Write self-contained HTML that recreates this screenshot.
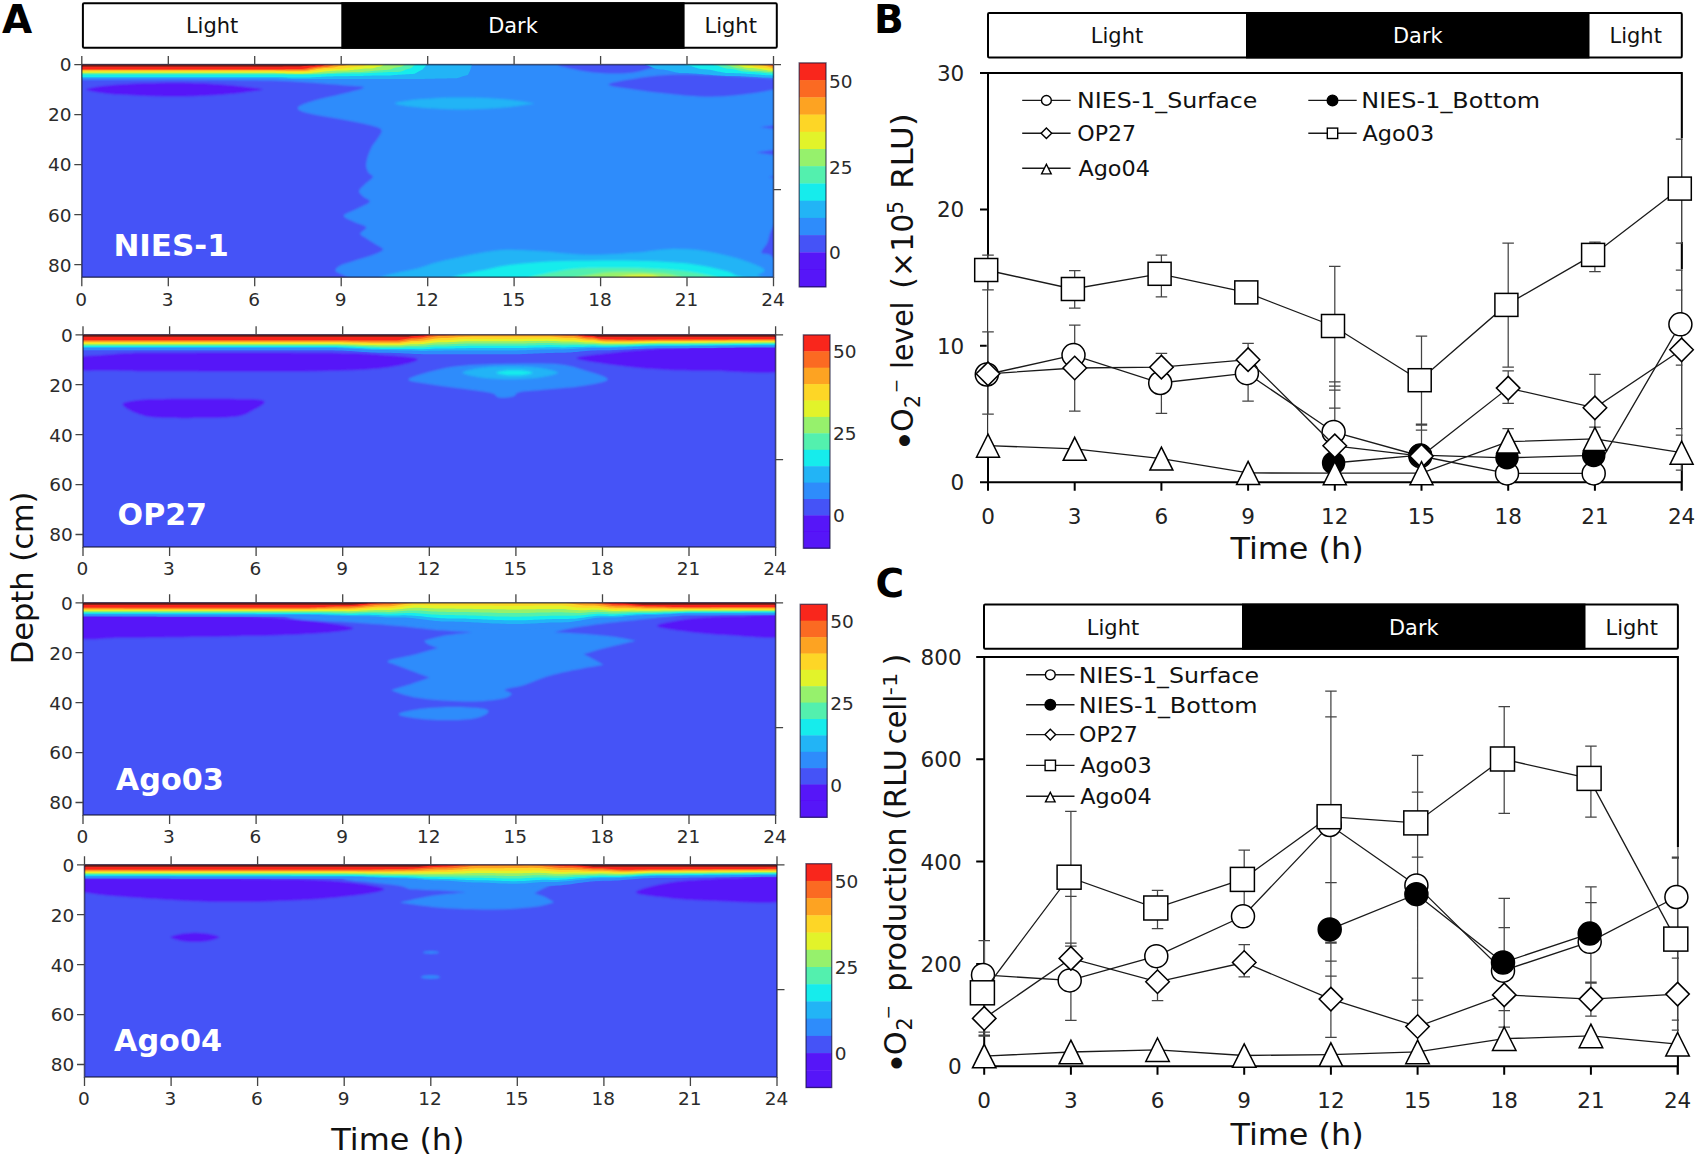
<!DOCTYPE html>
<html lang="en"><head><meta charset="utf-8"><title>Figure</title>
<style>html,body{margin:0;padding:0;background:#fff}svg{display:block}text{font-family:'DejaVu Sans', 'Liberation Sans', sans-serif}.b{font-weight:bold}.tk{fill:#2b2b2b;font-size:18.5px}.ln{fill:#111}</style></head><body>
<svg width="1699" height="1159" viewBox="0 0 1699 1159">
<defs><filter id="bl" x="-2%" y="-5%" width="104%" height="110%"><feGaussianBlur stdDeviation="1.0"/></filter><filter id="bl3" x="-2%" y="-5%" width="104%" height="110%"><feGaussianBlur stdDeviation="0.55"/></filter><filter id="bl2" x="-5%" y="-5%" width="110%" height="110%"><feGaussianBlur stdDeviation="0.45"/></filter></defs>
<rect width="1699" height="1159" fill="#fff"/>
<rect x="82.9" y="3.2" width="693.9" height="44.6" fill="#fff" stroke="#000" stroke-width="2.0" rx="1.2"/>
<rect x="341.3" y="2.2" width="343.3" height="46.6" fill="#000"/>
<text x="212.1" y="33.4" font-size="21.3" class="ln" text-anchor="middle" textLength="52.4" lengthAdjust="spacingAndGlyphs">Light</text>
<text x="513" y="33.4" font-size="21.3" text-anchor="middle" textLength="49.6" lengthAdjust="spacingAndGlyphs" fill="#fff">Dark</text>
<text x="730.7" y="33.4" font-size="21.3" class="ln" text-anchor="middle" textLength="52.4" lengthAdjust="spacingAndGlyphs">Light</text>
<rect x="988" y="13" width="693.8" height="44.4" fill="#fff" stroke="#000" stroke-width="2.0" rx="1.2"/>
<rect x="1246" y="12" width="343.5" height="46.4" fill="#000"/>
<text x="1117" y="43.1" font-size="21.3" class="ln" text-anchor="middle" textLength="52.4" lengthAdjust="spacingAndGlyphs">Light</text>
<text x="1417.8" y="43.1" font-size="21.3" text-anchor="middle" textLength="49.6" lengthAdjust="spacingAndGlyphs" fill="#fff">Dark</text>
<text x="1635.7" y="43.1" font-size="21.3" class="ln" text-anchor="middle" textLength="52.4" lengthAdjust="spacingAndGlyphs">Light</text>
<rect x="984" y="604.6" width="693.9" height="44.1" fill="#fff" stroke="#000" stroke-width="2.0" rx="1.2"/>
<rect x="1242" y="603.6" width="343.5" height="46.1" fill="#000"/>
<text x="1113" y="634.5" font-size="21.3" class="ln" text-anchor="middle" textLength="52.4" lengthAdjust="spacingAndGlyphs">Light</text>
<text x="1413.8" y="634.5" font-size="21.3" text-anchor="middle" textLength="49.6" lengthAdjust="spacingAndGlyphs" fill="#fff">Dark</text>
<text x="1631.7" y="634.5" font-size="21.3" class="ln" text-anchor="middle" textLength="52.4" lengthAdjust="spacingAndGlyphs">Light</text>
<text x="2" y="33.2" font-size="39" class="b" fill="#000">A</text>
<text x="874" y="33.2" font-size="39" class="b" fill="#000">B</text>
<text x="875.5" y="597.2" font-size="39" class="b" fill="#000">C</text>
<clipPath id="cp0"><rect x="81.8" y="64.6" width="691.7" height="212.6"/></clipPath>
<g clip-path="url(#cp0)"><g filter="url(#bl)">
<rect x="76.8" y="59.6" width="701.7" height="222.6" fill="#4552f7"/>
<path d="M263.2 89.6 C263.2 89.8 262.4 89.8 261 90.1 C259.5 90.3 257.3 90.7 254.4 91.1 C251.6 91.5 248 92.1 243.9 92.5 C239.8 93 235 93.6 229.9 94 C224.7 94.5 219 95 213.1 95.3 C207.2 95.7 200.8 96 194.4 96.2 C188 96.4 181.3 96.5 174.7 96.5 C168.1 96.5 161.4 96.4 155 96.3 C148.6 96.1 142.2 95.9 136.3 95.6 C130.4 95.4 124.7 95 119.5 94.6 C114.4 94.3 109.6 93.8 105.5 93.4 C101.4 92.9 97.8 92.5 95 92 C92.1 91.5 89.9 91 88.4 90.6 C87 90.2 86.2 89.9 86.2 89.6 C86.2 89.3 87 89 88.4 88.6 C89.9 88.2 92.1 87.7 95 87.2 C97.8 86.7 101.4 86.3 105.5 85.8 C109.6 85.4 114.4 84.9 119.5 84.6 C124.7 84.2 130.4 83.8 136.3 83.6 C142.2 83.3 148.6 83.1 155 82.9 C161.4 82.8 168.1 82.7 174.7 82.7 C181.3 82.7 188 82.8 194.4 83 C200.8 83.2 207.2 83.5 213.1 83.9 C219 84.2 224.7 84.7 229.9 85.2 C235 85.6 239.8 86.2 243.9 86.7 C248 87.1 251.6 87.7 254.4 88.1 C257.3 88.5 259.5 88.9 261 89.1 C262.4 89.4 263.2 89.4 263.2 89.6Z" fill="#5612f8"/>
<path d="M75.8 58.6 L75.8 79.8 L181.8 79.8 L224.8 79.9 C232.7 80 256.2 80.1 271.9 80.6 C287.6 81.2 306 82.3 319 83.2 C331.9 84.1 342.1 85 349.6 85.8 C357 86.5 364.9 86.3 363.7 87.7 C362.5 89 350.8 91.6 342.5 93.8 C334.3 95.9 321.7 98.3 314.3 100.6 C306.8 102.9 298.6 105.5 297.8 107.7 C297 109.8 302.1 111.6 309.6 113.6 C317 115.5 332.3 117.5 342.5 119.5 C352.7 121.4 364.3 123.6 370.8 125.3 C377.2 127.1 380.2 127.9 381.4 130 C382.5 132.2 379.4 135.5 377.8 138.3 C376.3 141 373.6 143.6 371.9 146.5 C370.3 149.5 368.9 152.8 367.9 155.9 C367 159.1 366 162.6 366.1 165.4 C366.1 168.1 367.3 170.5 368.4 172.4 C369.5 174.4 373.4 175 372.7 177.1 C371.9 179.3 366 183 363.7 185.4 C361.4 187.7 359 189.3 359 191.3 C359 193.2 361.9 195.4 363.7 197.1 C365.5 198.9 370.8 199.9 369.6 201.9 C368.4 203.8 361 206.6 356.6 208.9 C352.3 211.2 344.1 213.4 343.7 215.5 C343.3 217.7 350.6 219.9 354.3 221.9 C358 223.8 365.1 225.1 366.1 227 C367 229 360.2 231.8 360.2 233.6 C360.2 235.5 363.5 236.6 366.1 238.3 C368.6 240.1 372.7 242.3 375.5 244.2 C378.3 246.1 383.4 247.9 383 249.6 C382.6 251.4 377.9 253 373.1 254.8 C368.3 256.7 359.8 258.9 354.3 260.7 C348.8 262.5 343.3 263.8 340.2 265.4 C337 267.1 335.1 269 335.5 270.6 C335.8 272.2 340 273.5 342.5 274.8 C345.1 276.2 349.4 278.2 350.8 278.8 L779.5 283.2 L779.5 58.6Z" fill="#2e8cfb"/>
<path d="M562.4 63.7 C549.3 64.6 567.9 67.7 574.2 69.3 C580.5 70.9 591.5 72.4 600.1 73.1 C608.8 73.7 618.6 73.8 626 73.3 C633.5 72.8 640.3 71.6 644.8 70 C649.4 68.4 666.8 64.7 653.1 63.7 C639.4 62.6 575.6 62.7 562.4 63.7Z" fill="#4552f7"/>
<path d="M608.4 84.8 C607.6 83.4 619.1 81.5 626 80.1 C632.9 78.7 640.9 77.3 649.6 76.4 C658.2 75.4 667.6 74.7 677.8 74.5 C688 74.2 700.2 74.6 710.8 75 C721.4 75.3 730.4 76.1 741.4 76.8 C752.4 77.5 769.2 78 776.7 79.2 C784.1 80.4 786.1 82.5 786.1 84.1 C786.1 85.8 783 87.5 776.7 89.1 C770.4 90.7 758.2 92.5 748.4 93.8 C738.6 95 728 96.3 717.8 96.6 C707.6 96.9 697 96.3 687.2 95.7 C677.4 95 668.4 93.9 659 92.8 C649.6 91.8 639.2 90.4 630.7 89.1 C622.3 87.7 609.1 86.3 608.4 84.8Z" fill="#4552f7"/>
<path d="M759.7 127.2 L776.7 125.1 L776.7 129.3Z" fill="#4552f7"/>
<path d="M756 152.4 L776.7 149.4 L776.7 155.5Z" fill="#4552f7"/>
<path d="M768.5 177.1 L776.7 175.7 L776.7 178.5Z" fill="#4552f7"/>
<path d="M776.7 224.2 C775.7 219.9 772.4 228.1 770.8 231.3 C769.2 234.4 768.8 239.5 767.3 243.1 C765.7 246.6 761 250.6 761.4 252.5 C761.8 254.4 767.1 253.6 769.6 254.4 C772.2 255.1 775.5 262.2 776.7 257.2 C777.9 252.2 777.7 228.5 776.7 224.2Z" fill="#4552f7"/>
<path d="M534 103.4 C534 103.5 533.4 103.5 532.3 103.7 C531.1 103.9 529.4 104.3 527.1 104.6 C524.9 105 522.1 105.4 518.8 105.8 C515.6 106.3 511.9 106.7 507.8 107.2 C503.8 107.6 499.3 108 494.7 108.3 C490 108.6 485 108.9 480 109.1 C474.9 109.3 469.7 109.4 464.5 109.4 C459.3 109.4 454.1 109.3 449 109.2 C444 109.1 439 108.9 434.3 108.6 C429.7 108.4 425.2 108 421.2 107.7 C417.1 107.4 413.4 107 410.2 106.6 C406.9 106.2 404.1 105.7 401.9 105.3 C399.6 104.9 397.9 104.5 396.7 104.2 C395.6 103.9 395 103.7 395 103.4 C395 103.1 395.6 102.9 396.7 102.6 C397.9 102.3 399.6 101.9 401.9 101.5 C404.1 101.1 406.9 100.6 410.2 100.2 C413.4 99.8 417.1 99.4 421.2 99.1 C425.2 98.8 429.7 98.4 434.3 98.2 C439 97.9 444 97.7 449 97.6 C454.1 97.5 459.3 97.4 464.5 97.4 C469.7 97.4 474.9 97.5 480 97.7 C485 97.9 490 98.2 494.7 98.5 C499.3 98.8 503.8 99.2 507.8 99.6 C511.9 100.1 515.6 100.5 518.8 101 C522.1 101.4 524.9 101.8 527.1 102.2 C529.4 102.5 531.1 102.9 532.3 103.1 C533.4 103.3 534 103.3 534 103.4Z" fill="#22b4f6"/>
<path d="M399 282.2 C346.4 279.6 413.6 270.8 423.5 266.6 C433.5 262.4 445.9 259.9 458.9 257.2 C471.8 254.4 487.5 251.1 501.2 250.1 C515 249.1 526.7 250.5 541.3 251.3 C555.8 252.1 572.7 254.6 588.3 254.8 C604 255 621.7 253.5 635.4 252.5 C649.2 251.5 659 249.1 670.7 248.9 C682.5 248.7 694.3 249.5 706.1 251.3 C717.8 253.1 731.8 256.6 741.4 259.5 C751 262.5 761 266.4 763.7 269 C766.5 271.5 762 272.6 757.9 274.8 C753.7 277 798.8 281 739 282.2 C679.2 283.4 451.6 284.8 399 282.2Z" fill="#22b4f6"/>
<path d="M463.6 282.2 C424.4 279.8 481.2 271.2 494.2 267.8 C507.1 264.4 525.6 263.1 541.3 261.9 C557 260.7 572.7 260.9 588.3 260.7 C604 260.5 619.7 260.3 635.4 260.7 C651.1 261.1 668.8 261.7 682.5 263.1 C696.3 264.4 709.2 267 717.8 269 C726.5 270.9 732.4 272.6 734.3 274.8 C736.3 277 774.7 281 729.6 282.2 C684.5 283.4 502.8 284.6 463.6 282.2Z" fill="#17ecec"/>
<path d="M531.8 282.2 C507.1 280.2 551.5 272.5 564.8 270.1 C578.2 267.7 596.2 268 611.9 267.8 C627.6 267.6 644.1 268 659 269 C673.9 269.9 692.3 271.5 701.4 273.7 C710.4 275.9 741.4 280.8 713.1 282.2 C684.8 283.6 556.5 284.2 531.8 282.2Z" fill="#52f0ae"/>
<path d="M564.8 282.2 C551.1 280.7 588.3 274.8 600.1 273.2 C611.9 271.5 623.7 272 635.4 272.2 C647.2 272.5 662.9 272.9 670.7 274.6 C678.6 276.3 700.2 280.9 682.5 282.2 C664.8 283.5 578.5 283.7 564.8 282.2Z" fill="#96f16c"/>
<path d="M600 282.2 C595.1 281 621.7 276.2 630.7 275.1 C639.8 274 649.4 274.4 654.3 275.5 C659.1 276.7 669 281.1 660 282.2 C651 283.3 604.9 283.4 600 282.2Z" fill="#e2f32c"/>
</g><g filter="url(#bl3)">
<path d="M73.8 58.6 L73.8 78.2 L81.8 78.2 L83.8 78.2 L85.8 78.2 L87.8 78.2 L89.8 78.2 L91.8 78.2 L93.8 78.2 L95.8 78.2 L97.8 78.2 L99.8 78.2 L101.8 78.2 L103.8 78.2 L105.8 78.2 L107.8 78.2 L109.8 78.2 L111.8 78.2 L113.8 78.2 L115.8 78.2 L117.8 78.2 L119.8 78.2 L121.8 78.2 L123.8 78.2 L125.8 78.2 L127.8 78.2 L129.8 78.2 L131.8 78.2 L133.8 78.2 L135.8 78.2 L137.8 78.2 L139.8 78.2 L141.8 78.2 L143.8 78.2 L145.8 78.2 L147.8 78.2 L149.8 78.2 L151.8 78.2 L153.8 78.2 L155.8 78.2 L157.8 78.2 L159.8 78.2 L161.8 78.2 L163.8 78.2 L165.8 78.2 L167.8 78.2 L169.8 78.2 L171.8 78.2 L173.8 78.2 L175.8 78.2 L177.8 78.2 L179.9 78.2 L181.9 78.2 L183.9 78.2 L185.9 78.2 L187.9 78.2 L189.9 78.2 L191.9 78.2 L193.9 78.2 L195.9 78.2 L197.9 78.2 L199.9 78.2 L201.9 78.2 L203.9 78.2 L205.9 78.2 L207.9 78.2 L209.9 78.2 L211.9 78.2 L213.9 78.2 L215.9 78.2 L217.9 78.2 L219.9 78.2 L221.9 78.2 L223.9 78.2 L225.9 78.2 L227.9 78.2 L229.9 78.2 L231.9 78.2 L233.9 78.2 L235.9 78.2 L237.9 78.2 L239.9 78.2 L241.9 78.2 L243.9 78.2 L245.9 78.2 L247.9 78.2 L249.9 78.2 L251.9 78.2 L253.9 78.2 L255.9 78.2 L257.9 78.2 L259.9 78.2 L261.9 78.2 L263.9 78.2 L265.9 78.2 L267.9 78.2 L269.9 78.2 L271.9 78.2 L273.9 78.2 L275.9 78.3 L277.9 78.3 L279.9 78.4 L281.9 78.5 L283.9 78.6 L285.9 78.6 L287.9 78.7 L289.9 78.8 L291.9 78.9 L293.9 78.9 L295.9 79 L297.9 79 L299.9 79 L301.9 79 L303.9 79 L305.9 79 L307.9 79 L309.9 79 L311.9 79 L313.9 79 L315.9 79 L317.9 79 L319.9 79 L321.9 79 L323.9 79 L325.9 79 L327.9 79 L329.9 79 L331.9 79 L333.9 79 L335.9 79 L337.9 79 L339.9 79 L341.9 79 L343.9 79 L345.9 79 L347.9 79 L349.9 79 L351.9 79 L353.9 79 L355.9 79 L357.9 79 L359.9 79 L361.9 79 L363.9 79 L365.9 79 L367.9 79 L369.9 79 L371.9 79 L373.9 79 L376 79 L378 79 L380 79 L382 79 L384 79 L386 79 L388 79 L390 79 L392 79 L394 79 L396 79 L398 79 L400 79 L402 79 L404 79 L406 79 L408 79 L410 79 L412 79 L414 79 L416 79 L418 79 L420 79 L422 78.9 L424 78.9 L426 78.8 L428 78.8 L430 78.8 L432 78.7 L434 78.7 L436 78.6 L438 78.5 L440 78.5 L442 78.5 L444 78.4 L446 78.4 L448 78.3 L450 78.3 L452 78.3 L454 78.3 L456 78.3 L458 77.9 L460 77.3 L462 76.6 L464 76 L466 75.6 L468 74.7 L470 70.8 L472 64.6 L472 58.6Z" fill="#22b4f6"/>
<path d="M644.8 58.6 L644.8 65.1 L646.9 65.3 L648.9 65.9 L650.9 66.7 L653 67.7 L655 68.5 L657 69.1 L659 69.3 L661.1 69.4 L663.1 69.6 L665.1 69.9 L667.2 70.3 L669.2 70.8 L671.2 71.3 L673.2 71.8 L675.3 72.3 L677.3 72.6 L679.3 72.9 L681.4 73 L683.4 73.1 L685.4 73.1 L687.4 73.1 L689.5 73.2 L691.5 73.3 L693.5 73.4 L695.6 73.6 L697.6 73.7 L699.6 73.9 L701.6 74.1 L703.7 74.3 L705.7 74.5 L707.7 74.6 L709.8 74.8 L711.8 75 L713.8 75.2 L715.8 75.3 L717.9 75.5 L719.9 75.6 L721.9 75.7 L724 75.8 L726 75.9 L728 75.9 L730 75.9 L732.1 75.9 L734.1 75.9 L736.1 76 L738.2 76 L740.2 76.1 L742.2 76.2 L744.2 76.3 L746.3 76.4 L748.3 76.5 L750.3 76.7 L752.4 76.8 L754.4 76.9 L756.4 77 L758.4 77.2 L760.5 77.3 L762.5 77.4 L764.5 77.5 L766.6 77.6 L768.6 77.6 L770.6 77.7 L772.6 77.7 L774.7 77.8 L776.7 77.8 L784.7 77.8 L784.7 58.6Z" fill="#22b4f6"/>
<path d="M73.8 58.6 L73.8 76.9 L81.8 76.9 L83.8 76.9 L85.8 76.9 L87.8 76.9 L89.8 76.9 L91.8 76.9 L93.8 76.9 L95.8 76.9 L97.8 76.9 L99.8 76.9 L101.8 76.9 L103.8 76.9 L105.8 76.9 L107.9 76.9 L109.9 76.9 L111.9 76.9 L113.9 76.9 L115.9 76.9 L117.9 76.9 L119.9 76.9 L121.9 76.9 L123.9 76.9 L125.9 76.9 L127.9 76.9 L129.9 76.9 L131.9 76.9 L133.9 76.9 L135.9 76.9 L137.9 76.9 L139.9 76.9 L141.9 76.9 L143.9 76.9 L145.9 76.9 L147.9 76.9 L149.9 76.9 L151.9 76.9 L153.9 76.9 L156 76.9 L158 76.9 L160 76.9 L162 76.9 L164 76.9 L166 76.9 L168 76.9 L170 76.9 L172 76.9 L174 76.9 L176 76.9 L178 76.9 L180 76.9 L182 76.9 L184 76.9 L186 76.9 L188 76.9 L190 76.9 L192 76.9 L194 76.9 L196 76.9 L198 76.9 L200 76.9 L202 76.9 L204 76.9 L206.1 76.9 L208.1 76.9 L210.1 76.9 L212.1 76.9 L214.1 76.9 L216.1 76.9 L218.1 76.9 L220.1 76.9 L222.1 76.9 L224.1 76.9 L226.1 76.9 L228.1 76.9 L230.1 76.9 L232.1 76.9 L234.1 76.9 L236.1 76.9 L238.1 76.9 L240.1 76.9 L242.1 76.9 L244.1 76.9 L246.1 76.9 L248.1 76.9 L250.1 76.9 L252.1 76.9 L254.1 76.9 L256.2 76.9 L258.2 76.9 L260.2 76.9 L262.2 76.9 L264.2 76.9 L266.2 76.9 L268.2 76.9 L270.2 76.9 L272.2 76.9 L274.2 76.9 L276.2 77 L278.2 77 L280.2 77.1 L282.2 77.1 L284.2 77.2 L286.2 77.3 L288.2 77.4 L290.2 77.4 L292.2 77.5 L294.2 77.5 L296.2 77.6 L298.2 77.6 L300.2 77.6 L302.2 77.6 L304.3 77.6 L306.3 77.5 L308.3 77.5 L310.3 77.4 L312.3 77.3 L314.3 77.2 L316.3 77.1 L318.3 77 L320.3 76.9 L322.3 76.8 L324.3 76.7 L326.3 76.6 L328.3 76.5 L330.3 76.5 L332.3 76.4 L334.3 76.3 L336.3 76.3 L338.3 76.2 L340.3 76.2 L342.3 76.2 L344.3 76.2 L346.3 76.2 L348.3 76.2 L350.3 76.1 L352.3 76.1 L354.4 76.1 L356.4 76 L358.4 76 L360.4 75.9 L362.4 75.9 L364.4 75.8 L366.4 75.8 L368.4 75.7 L370.4 75.7 L372.4 75.6 L374.4 75.6 L376.4 75.6 L378.4 75.5 L380.4 75.5 L382.4 75.5 L384.4 75.5 L386.4 75.5 L388.4 75.4 L390.4 75.4 L392.4 75.3 L394.4 75.1 L396.4 75 L398.4 74.8 L400.4 74.7 L402.5 74.5 L404.5 74.4 L406.5 74.3 L408.5 74.2 L410.5 74.1 L412.5 74.1 L414.5 73.8 L416.5 72.7 L418.5 71.4 L420.5 70.6 L422.5 69.5 L424.5 67.2 L426.5 64.6 L426.5 58.6Z" fill="#17ecec"/>
<path d="M684.9 58.6 L684.9 65.1 L686.9 65.2 L689 65.5 L691 66.1 L693 66.7 L695.1 67.5 L697.1 68.1 L699.2 68.7 L701.2 69.1 L703.2 69.3 L705.3 69.3 L707.3 69.5 L709.4 69.7 L711.4 70.1 L713.4 70.5 L715.5 70.9 L717.5 71.4 L719.6 71.8 L721.6 72.3 L723.6 72.6 L725.7 72.9 L727.7 73 L729.8 73.1 L731.8 73.1 L733.8 73.1 L735.9 73.2 L737.9 73.2 L740 73.3 L742 73.5 L744 73.6 L746.1 73.7 L748.1 73.9 L750.2 74 L752.2 74.2 L754.2 74.3 L756.3 74.5 L758.3 74.6 L760.4 74.8 L762.4 74.9 L764.4 75.1 L766.5 75.2 L768.5 75.3 L770.6 75.3 L772.6 75.4 L774.7 75.4 L776.7 75.4 L784.7 75.4 L784.7 58.6Z" fill="#17ecec"/>
<path d="M73.8 58.6 L73.8 74.4 L81.8 74.4 L83.8 74.4 L85.8 74.4 L87.8 74.4 L89.8 74.4 L91.8 74.4 L93.8 74.4 L95.8 74.4 L97.8 74.4 L99.8 74.4 L101.8 74.4 L103.8 74.4 L105.8 74.4 L107.8 74.4 L109.8 74.4 L111.8 74.4 L113.8 74.4 L115.8 74.4 L117.8 74.4 L119.8 74.4 L121.8 74.4 L123.8 74.4 L125.8 74.4 L127.8 74.4 L129.8 74.4 L131.8 74.4 L133.8 74.4 L135.8 74.4 L137.8 74.4 L139.8 74.4 L141.8 74.4 L143.8 74.4 L145.8 74.4 L147.8 74.4 L149.8 74.4 L151.8 74.4 L153.8 74.4 L155.8 74.4 L157.8 74.4 L159.8 74.4 L161.8 74.4 L163.8 74.4 L165.9 74.4 L167.9 74.4 L169.9 74.4 L171.9 74.4 L173.9 74.4 L175.9 74.4 L177.9 74.4 L179.9 74.4 L181.9 74.4 L183.9 74.4 L185.9 74.4 L187.9 74.4 L189.9 74.4 L191.9 74.4 L193.9 74.4 L195.9 74.4 L197.9 74.4 L199.9 74.4 L201.9 74.4 L203.9 74.4 L205.9 74.4 L207.9 74.4 L209.9 74.4 L211.9 74.4 L213.9 74.4 L215.9 74.4 L217.9 74.4 L219.9 74.4 L221.9 74.4 L223.9 74.4 L225.9 74.4 L227.9 74.4 L229.9 74.4 L231.9 74.4 L233.9 74.4 L235.9 74.4 L237.9 74.4 L239.9 74.4 L241.9 74.4 L243.9 74.4 L245.9 74.4 L247.9 74.4 L249.9 74.4 L251.9 74.4 L253.9 74.4 L255.9 74.4 L257.9 74.4 L259.9 74.4 L261.9 74.4 L263.9 74.4 L265.9 74.4 L267.9 74.4 L269.9 74.4 L271.9 74.4 L273.9 74.4 L275.9 74.4 L277.9 74.5 L279.9 74.5 L281.9 74.5 L283.9 74.6 L285.9 74.6 L287.9 74.7 L289.9 74.7 L291.9 74.7 L293.9 74.8 L295.9 74.8 L297.9 74.8 L299.9 74.8 L301.9 74.8 L303.9 74.8 L305.9 74.8 L307.9 74.7 L309.9 74.7 L311.9 74.6 L313.9 74.6 L315.9 74.5 L317.9 74.5 L319.9 74.4 L321.9 74.3 L323.9 74.3 L325.9 74.2 L327.9 74.1 L329.9 74 L331.9 73.9 L334 73.9 L336 73.8 L338 73.7 L340 73.7 L342 73.6 L344 73.6 L346 73.5 L348 73.5 L350 73.4 L352 73.4 L354 73.4 L356 73.4 L358 73.4 L360 73.4 L362 73.3 L364 73.3 L366 73.2 L368 73.1 L370 73 L372 72.9 L374 72.8 L376 72.7 L378 72.6 L380 72.5 L382 72.4 L384 72.3 L386 72.2 L388 72.1 L390 72.1 L392 72 L394 71.9 L396 71.9 L398 71.9 L400 71.8 L402 71.3 L404 70.5 L406 69.6 L408 68.9 L410 68.6 L412 67.6 L414 65.6 L416 64.6 L416 58.6Z" fill="#52f0ae"/>
<path d="M713.1 58.6 L713.1 65.1 L715.2 65.2 L717.2 65.6 L719.3 66.2 L721.3 66.9 L723.4 67.7 L725.4 68.3 L727.5 68.7 L729.5 68.8 L731.6 68.9 L733.6 69.2 L735.7 69.7 L737.7 70.2 L739.8 70.8 L741.8 71.2 L743.9 71.5 L745.9 71.7 L748 71.7 L750 71.7 L752.1 71.9 L754.1 72 L756.2 72.2 L758.2 72.4 L760.3 72.6 L762.3 72.8 L764.4 73 L766.4 73.2 L768.5 73.4 L770.5 73.6 L772.6 73.7 L774.6 73.8 L776.7 73.8 L784.7 73.8 L784.7 58.6Z" fill="#52f0ae"/>
<path d="M73.8 58.6 L73.8 73.6 L81.8 73.6 L83.8 73.6 L85.8 73.6 L87.8 73.6 L89.8 73.6 L91.8 73.6 L93.8 73.6 L95.8 73.6 L97.8 73.6 L99.8 73.6 L101.8 73.6 L103.8 73.6 L105.8 73.6 L107.8 73.6 L109.8 73.6 L111.8 73.6 L113.8 73.6 L115.8 73.6 L117.8 73.6 L119.8 73.6 L121.8 73.6 L123.8 73.6 L125.8 73.6 L127.8 73.6 L129.8 73.6 L131.8 73.6 L133.8 73.6 L135.8 73.6 L137.8 73.6 L139.8 73.6 L141.8 73.6 L143.8 73.6 L145.8 73.6 L147.8 73.6 L149.8 73.6 L151.8 73.6 L153.8 73.6 L155.8 73.6 L157.8 73.6 L159.8 73.6 L161.8 73.6 L163.9 73.6 L165.9 73.6 L167.9 73.6 L169.9 73.6 L171.9 73.6 L173.9 73.6 L175.9 73.6 L177.9 73.6 L179.9 73.6 L181.9 73.6 L183.9 73.6 L185.9 73.6 L187.9 73.6 L189.9 73.6 L191.9 73.6 L193.9 73.6 L195.9 73.6 L197.9 73.6 L199.9 73.6 L201.9 73.6 L203.9 73.6 L205.9 73.6 L207.9 73.6 L209.9 73.6 L211.9 73.6 L213.9 73.6 L215.9 73.6 L217.9 73.6 L219.9 73.6 L221.9 73.6 L223.9 73.6 L225.9 73.6 L227.9 73.6 L229.9 73.6 L231.9 73.6 L233.9 73.6 L235.9 73.6 L237.9 73.6 L239.9 73.6 L241.9 73.6 L243.9 73.6 L245.9 73.6 L247.9 73.6 L249.9 73.6 L251.9 73.6 L253.9 73.6 L255.9 73.6 L257.9 73.6 L259.9 73.6 L261.9 73.6 L263.9 73.6 L265.9 73.6 L267.9 73.6 L269.9 73.6 L271.9 73.6 L273.9 73.6 L275.9 73.6 L277.9 73.7 L279.9 73.7 L281.9 73.8 L283.9 73.8 L285.9 73.9 L287.9 73.9 L289.9 74 L291.9 74 L293.9 74.1 L295.9 74.1 L297.9 74.1 L299.9 74.1 L301.9 74.1 L303.9 74.1 L305.9 74 L307.9 74 L309.9 73.9 L311.9 73.9 L313.9 73.8 L315.9 73.7 L317.9 73.6 L319.9 73.5 L321.9 73.4 L323.9 73.3 L326 73.2 L328 73.1 L330 73 L332 72.9 L334 72.8 L336 72.7 L338 72.6 L340 72.5 L342 72.4 L344 72.3 L346 72.3 L348 72.2 L350 72.2 L352 72.1 L354 72.1 L356 72.1 L358 72.1 L360 72 L362 71.9 L364 71.7 L366 71.6 L368 71.4 L370 71.2 L372 70.9 L374 70.7 L376 70.5 L378 70.4 L380 70.2 L382 70.2 L384 70.1 L386 70.1 L388 69.8 L390 69.4 L392 68.8 L394 68.1 L396 67.6 L398 67.2 L400 67.1 L402 66.5 L404 65.2 L406 64.6 L406 58.6Z" fill="#96f16c"/>
<path d="M724.9 58.6 L724.9 65.1 L727 65.2 L729 65.7 L731.1 66.4 L733.2 67.2 L735.3 67.8 L737.3 68.2 L739.4 68.4 L741.5 68.5 L743.5 68.9 L745.6 69.4 L747.7 70 L749.8 70.4 L751.8 70.7 L753.9 70.7 L756 70.8 L758 70.9 L760.1 71 L762.2 71.2 L764.3 71.5 L766.3 71.7 L768.4 71.9 L770.5 72.1 L772.5 72.2 L774.6 72.3 L776.7 72.4 L784.7 72.4 L784.7 58.6Z" fill="#96f16c"/>
<path d="M73.8 58.6 L73.8 72.8 L81.8 72.8 L83.8 72.8 L85.8 72.8 L87.8 72.8 L89.8 72.8 L91.8 72.8 L93.8 72.8 L95.9 72.8 L97.9 72.8 L99.9 72.8 L101.9 72.8 L103.9 72.8 L105.9 72.8 L107.9 72.8 L109.9 72.8 L111.9 72.8 L113.9 72.8 L115.9 72.8 L117.9 72.8 L120 72.8 L122 72.8 L124 72.8 L126 72.8 L128 72.8 L130 72.8 L132 72.8 L134 72.8 L136 72.8 L138 72.8 L140 72.8 L142 72.8 L144 72.8 L146.1 72.8 L148.1 72.8 L150.1 72.8 L152.1 72.8 L154.1 72.8 L156.1 72.8 L158.1 72.8 L160.1 72.8 L162.1 72.8 L164.1 72.8 L166.1 72.8 L168.1 72.8 L170.1 72.8 L172.2 72.8 L174.2 72.8 L176.2 72.8 L178.2 72.8 L180.2 72.8 L182.2 72.8 L184.2 72.8 L186.2 72.8 L188.2 72.8 L190.2 72.8 L192.2 72.8 L194.2 72.8 L196.3 72.8 L198.3 72.8 L200.3 72.8 L202.3 72.8 L204.3 72.8 L206.3 72.8 L208.3 72.8 L210.3 72.8 L212.3 72.8 L214.3 72.8 L216.3 72.8 L218.3 72.8 L220.3 72.8 L222.4 72.8 L224.4 72.8 L226.4 72.8 L228.4 72.8 L230.4 72.8 L232.4 72.8 L234.4 72.8 L236.4 72.8 L238.4 72.8 L240.4 72.8 L242.4 72.8 L244.4 72.8 L246.5 72.8 L248.5 72.8 L250.5 72.8 L252.5 72.8 L254.5 72.8 L256.5 72.8 L258.5 72.8 L260.5 72.8 L262.5 72.8 L264.5 72.8 L266.5 72.8 L268.5 72.8 L270.5 72.8 L272.6 72.8 L274.6 72.8 L276.6 72.9 L278.6 72.9 L280.6 73 L282.6 73 L284.6 73.1 L286.6 73.2 L288.6 73.2 L290.6 73.3 L292.6 73.3 L294.6 73.4 L296.7 73.4 L298.7 73.4 L300.7 73.4 L302.7 73.4 L304.7 73.3 L306.7 73.2 L308.7 73.1 L310.7 73 L312.7 72.8 L314.7 72.6 L316.7 72.4 L318.7 72.2 L320.7 72 L322.8 71.8 L324.8 71.5 L326.8 71.3 L328.8 71.2 L330.8 71 L332.8 70.8 L334.8 70.7 L336.8 70.6 L338.8 70.5 L340.8 70.5 L342.8 70.5 L344.8 70.5 L346.8 70.4 L348.9 70.2 L350.9 70.1 L352.9 69.9 L354.9 69.6 L356.9 69.4 L358.9 69.2 L360.9 69 L362.9 68.8 L364.9 68.6 L366.9 68.5 L368.9 68.4 L370.9 68.4 L373 68.2 L375 67.7 L377 67.1 L379 66.7 L381 66.4 L383 65.3 L385 64.6 L385 58.6Z" fill="#e2f32c"/>
<path d="M734.3 58.6 L734.3 65.1 L736.3 65.2 L738.4 65.6 L740.4 66.2 L742.4 66.8 L744.4 67.4 L746.4 67.8 L748.4 67.9 L750.5 67.9 L752.5 68 L754.5 68.2 L756.5 68.5 L758.5 68.8 L760.5 69.1 L762.6 69.4 L764.6 69.8 L766.6 70.1 L768.6 70.4 L770.6 70.6 L772.7 70.8 L774.7 70.9 L776.7 71 L784.7 71 L784.7 58.6Z" fill="#e2f32c"/>
<path d="M73.8 58.6 L73.8 71.5 L81.8 71.5 L83.8 71.5 L85.8 71.5 L87.8 71.5 L89.8 71.5 L91.8 71.5 L93.8 71.5 L95.8 71.5 L97.8 71.5 L99.8 71.5 L101.8 71.5 L103.8 71.5 L105.8 71.5 L107.8 71.5 L109.8 71.5 L111.8 71.5 L113.8 71.5 L115.8 71.5 L117.8 71.5 L119.8 71.5 L121.8 71.5 L123.8 71.5 L125.8 71.5 L127.8 71.5 L129.8 71.5 L131.8 71.5 L133.8 71.5 L135.8 71.5 L137.8 71.5 L139.8 71.5 L141.8 71.5 L143.8 71.5 L145.8 71.5 L147.8 71.5 L149.8 71.5 L151.8 71.5 L153.8 71.5 L155.9 71.5 L157.9 71.5 L159.9 71.5 L161.9 71.5 L163.9 71.5 L165.9 71.5 L167.9 71.5 L169.9 71.5 L171.9 71.5 L173.9 71.5 L175.9 71.5 L177.9 71.5 L179.9 71.5 L181.9 71.5 L183.9 71.5 L185.9 71.5 L187.9 71.5 L189.9 71.5 L191.9 71.5 L193.9 71.5 L195.9 71.5 L197.9 71.5 L199.9 71.5 L201.9 71.5 L203.9 71.5 L205.9 71.5 L207.9 71.5 L209.9 71.5 L211.9 71.5 L213.9 71.5 L215.9 71.5 L217.9 71.5 L219.9 71.5 L221.9 71.5 L223.9 71.5 L225.9 71.5 L227.9 71.5 L229.9 71.5 L231.9 71.5 L233.9 71.5 L235.9 71.5 L237.9 71.5 L239.9 71.5 L241.9 71.5 L243.9 71.5 L245.9 71.5 L247.9 71.5 L249.9 71.5 L251.9 71.5 L253.9 71.5 L255.9 71.5 L257.9 71.5 L259.9 71.5 L261.9 71.5 L263.9 71.5 L265.9 71.5 L267.9 71.5 L269.9 71.5 L271.9 71.5 L273.9 71.5 L275.9 71.6 L277.9 71.6 L279.9 71.6 L281.9 71.7 L283.9 71.8 L285.9 71.8 L287.9 71.9 L289.9 71.9 L291.9 72 L293.9 72 L295.9 72.1 L297.9 72.1 L300 72.1 L302 72.1 L304 72 L306 71.9 L308 71.7 L310 71.5 L312 71.3 L314 71.1 L316 70.8 L318 70.5 L320 70.3 L322 70 L324 69.8 L326 69.6 L328 69.4 L330 69.3 L332 69.2 L334 69.1 L336 69.1 L338 69 L340 68.9 L342 68.6 L344 68.4 L346 68.1 L348 67.8 L350 67.5 L352 67.2 L354 66.9 L356 66.8 L358 66.6 L360 66.6 L362 66.4 L364 65.9 L366 65.3 L368 64.8 L370 64.6 L370 58.6Z" fill="#fdd626"/>
<path d="M746.1 58.6 L746.1 65.1 L748.1 65.2 L750.2 65.6 L752.2 66.1 L754.2 66.7 L756.3 67.2 L758.3 67.5 L760.4 67.7 L762.4 67.7 L764.4 67.9 L766.5 68.3 L768.5 68.6 L770.6 69 L772.6 69.3 L774.7 69.5 L776.7 69.5 L784.7 69.5 L784.7 58.6Z" fill="#fdd626"/>
<path d="M73.8 58.6 L73.8 70.6 L81.8 70.6 L83.8 70.6 L85.8 70.6 L87.8 70.6 L89.8 70.6 L91.8 70.6 L93.9 70.6 L95.9 70.6 L97.9 70.6 L99.9 70.6 L101.9 70.6 L103.9 70.6 L105.9 70.6 L107.9 70.6 L109.9 70.6 L111.9 70.6 L113.9 70.6 L116 70.6 L118 70.6 L120 70.6 L122 70.6 L124 70.6 L126 70.6 L128 70.6 L130 70.6 L132 70.6 L134 70.6 L136 70.6 L138.1 70.6 L140.1 70.6 L142.1 70.6 L144.1 70.6 L146.1 70.6 L148.1 70.6 L150.1 70.6 L152.1 70.6 L154.1 70.6 L156.1 70.6 L158.1 70.6 L160.2 70.6 L162.2 70.6 L164.2 70.6 L166.2 70.6 L168.2 70.6 L170.2 70.6 L172.2 70.6 L174.2 70.6 L176.2 70.6 L178.2 70.6 L180.2 70.6 L182.3 70.6 L184.3 70.6 L186.3 70.6 L188.3 70.6 L190.3 70.6 L192.3 70.6 L194.3 70.6 L196.3 70.6 L198.3 70.6 L200.3 70.6 L202.3 70.6 L204.4 70.6 L206.4 70.6 L208.4 70.6 L210.4 70.6 L212.4 70.6 L214.4 70.6 L216.4 70.6 L218.4 70.6 L220.4 70.6 L222.4 70.6 L224.4 70.6 L226.4 70.6 L228.5 70.6 L230.5 70.6 L232.5 70.6 L234.5 70.6 L236.5 70.6 L238.5 70.6 L240.5 70.6 L242.5 70.6 L244.5 70.6 L246.5 70.6 L248.5 70.6 L250.6 70.6 L252.6 70.6 L254.6 70.6 L256.6 70.6 L258.6 70.6 L260.6 70.6 L262.6 70.6 L264.6 70.6 L266.6 70.6 L268.6 70.6 L270.6 70.6 L272.7 70.6 L274.7 70.6 L276.7 70.7 L278.7 70.7 L280.7 70.7 L282.7 70.8 L284.7 70.8 L286.7 70.9 L288.7 70.9 L290.7 71 L292.7 71 L294.8 71.1 L296.8 71.1 L298.8 71.1 L300.8 71.1 L302.8 71 L304.8 70.9 L306.8 70.7 L308.8 70.4 L310.8 70.1 L312.8 69.8 L314.8 69.5 L316.9 69.1 L318.9 68.8 L320.9 68.5 L322.9 68.2 L324.9 68 L326.9 67.9 L328.9 67.8 L330.9 67.8 L332.9 67.6 L334.9 67.2 L336.9 66.7 L339 66.3 L341 66 L343 65.9 L345 65.6 L347 64.9 L349 64.6 L349 58.6Z" fill="#fda324"/>
<path d="M759 58.6 L759 65.1 L761.2 65.2 L763.4 65.5 L765.7 66 L767.9 66.6 L770.1 67.2 L772.3 67.7 L774.5 68 L776.7 68.1 L784.7 68.1 L784.7 58.6Z" fill="#fda324"/>
<path d="M73.8 58.6 L73.8 69.9 L81.8 69.9 L83.8 69.9 L85.8 69.9 L87.8 69.9 L89.8 69.9 L91.8 69.9 L93.8 69.9 L95.8 69.9 L97.8 69.9 L99.8 69.9 L101.8 69.9 L103.8 69.9 L105.8 69.9 L107.8 69.9 L109.8 69.9 L111.8 69.9 L113.8 69.9 L115.8 69.9 L117.8 69.9 L119.8 69.9 L121.8 69.9 L123.8 69.9 L125.8 69.9 L127.8 69.9 L129.8 69.9 L131.8 69.9 L133.8 69.9 L135.8 69.9 L137.8 69.9 L139.8 69.9 L141.8 69.9 L143.8 69.9 L145.8 69.9 L147.9 69.9 L149.9 69.9 L151.9 69.9 L153.9 69.9 L155.9 69.9 L157.9 69.9 L159.9 69.9 L161.9 69.9 L163.9 69.9 L165.9 69.9 L167.9 69.9 L169.9 69.9 L171.9 69.9 L173.9 69.9 L175.9 69.9 L177.9 69.9 L179.9 69.9 L181.9 69.9 L183.9 69.9 L185.9 69.9 L187.9 69.9 L189.9 69.9 L191.9 69.9 L193.9 69.9 L195.9 69.9 L197.9 69.9 L199.9 69.9 L201.9 69.9 L203.9 69.9 L205.9 69.9 L207.9 69.9 L209.9 69.9 L211.9 69.9 L213.9 69.9 L215.9 69.9 L217.9 69.9 L219.9 69.9 L221.9 69.9 L223.9 69.9 L225.9 69.9 L227.9 69.9 L229.9 69.9 L231.9 69.9 L233.9 69.9 L235.9 69.9 L237.9 69.9 L239.9 69.9 L241.9 69.9 L243.9 69.9 L245.9 69.9 L247.9 69.9 L249.9 69.9 L251.9 69.9 L253.9 69.9 L255.9 69.9 L257.9 69.9 L259.9 69.9 L261.9 69.9 L263.9 69.9 L265.9 69.9 L267.9 69.9 L269.9 69.9 L271.9 69.9 L273.9 69.9 L276 69.9 L278 69.9 L280 69.9 L282 70 L284 70 L286 70 L288 70 L290 70 L292 70.1 L294 70.1 L296 70.1 L298 70.1 L300 70.1 L302 70.1 L304 69.9 L306 69.7 L308 69.4 L310 69.1 L312 68.7 L314 68.3 L316 68 L318 67.6 L320 67.4 L322 67.2 L324 67.1 L326 67.1 L328 66.8 L330 66.3 L332 65.7 L334 65.1 L336 64.7 L338 64.6 L338 58.6Z" fill="#fb6a20"/>
<path d="M767.7 58.6 L767.7 65.1 L770 65.3 L772.2 66 L774.5 66.7 L776.7 67 L784.7 67 L784.7 58.6Z" fill="#fb6a20"/>
<path d="M73.8 58.6 L73.8 69.2 L81.8 69.2 L83.8 69.2 L85.8 69.2 L87.8 69.2 L89.8 69.2 L91.8 69.2 L93.8 69.2 L95.8 69.2 L97.8 69.2 L99.8 69.2 L101.8 69.2 L103.8 69.2 L105.8 69.2 L107.8 69.2 L109.8 69.2 L111.8 69.2 L113.8 69.2 L115.8 69.2 L117.8 69.2 L119.8 69.2 L121.8 69.2 L123.8 69.2 L125.8 69.2 L127.8 69.2 L129.8 69.2 L131.8 69.2 L133.8 69.2 L135.8 69.2 L137.8 69.2 L139.8 69.2 L141.8 69.2 L143.9 69.2 L145.9 69.2 L147.9 69.2 L149.9 69.2 L151.9 69.2 L153.9 69.2 L155.9 69.2 L157.9 69.2 L159.9 69.2 L161.9 69.2 L163.9 69.2 L165.9 69.2 L167.9 69.2 L169.9 69.2 L171.9 69.2 L173.9 69.2 L175.9 69.2 L177.9 69.2 L179.9 69.2 L181.9 69.2 L183.9 69.2 L185.9 69.2 L187.9 69.2 L189.9 69.2 L191.9 69.2 L193.9 69.2 L195.9 69.2 L197.9 69.2 L199.9 69.2 L201.9 69.2 L203.9 69.2 L205.9 69.2 L207.9 69.2 L209.9 69.2 L211.9 69.2 L213.9 69.2 L215.9 69.2 L217.9 69.2 L219.9 69.2 L221.9 69.2 L223.9 69.2 L225.9 69.2 L227.9 69.2 L229.9 69.2 L231.9 69.2 L233.9 69.2 L235.9 69.2 L237.9 69.2 L239.9 69.2 L241.9 69.2 L243.9 69.2 L245.9 69.2 L247.9 69.2 L249.9 69.2 L251.9 69.2 L253.9 69.2 L255.9 69.2 L257.9 69.2 L259.9 69.2 L261.9 69.2 L263.9 69.2 L265.9 69.2 L268 69.2 L270 69.2 L272 69.2 L274 69.2 L276 69.2 L278 69.2 L280 69.2 L282 69.2 L284 69.2 L286 69.1 L288 69.1 L290 69.1 L292 69.1 L294 69.1 L296 69.1 L298 69.1 L300 69.1 L302 69 L304 68.8 L306 68.5 L308 68.1 L310 67.6 L312 67.2 L314 66.9 L316 66.7 L318 66.6 L320 66.4 L322 65.9 L324 65.3 L326 64.8 L328 64.6 L328 58.6Z" fill="#f9271a"/>
<path d="M73.8 58.6 L73.8 66.7 L81.8 66.7 L83.8 66.7 L85.8 66.7 L87.8 66.7 L89.8 66.7 L91.8 66.7 L93.8 66.7 L95.8 66.7 L97.8 66.7 L99.8 66.7 L101.8 66.7 L103.8 66.7 L105.8 66.7 L107.8 66.7 L109.8 66.7 L111.8 66.7 L113.8 66.7 L115.8 66.7 L117.8 66.7 L119.8 66.7 L121.8 66.7 L123.8 66.7 L125.8 66.7 L127.8 66.7 L129.8 66.7 L131.8 66.7 L133.8 66.7 L135.8 66.7 L137.8 66.7 L139.8 66.7 L141.9 66.7 L143.9 66.7 L145.9 66.7 L147.9 66.7 L149.9 66.7 L151.9 66.7 L153.9 66.7 L155.9 66.7 L157.9 66.7 L159.9 66.7 L161.9 66.7 L163.9 66.7 L165.9 66.7 L167.9 66.7 L169.9 66.7 L171.9 66.7 L173.9 66.7 L175.9 66.7 L177.9 66.7 L179.9 66.7 L181.9 66.7 L183.9 66.7 L185.9 66.7 L187.9 66.7 L189.9 66.7 L191.9 66.7 L193.9 66.7 L195.9 66.7 L197.9 66.7 L199.9 66.7 L201.9 66.7 L203.9 66.7 L205.9 66.7 L207.9 66.7 L209.9 66.7 L211.9 66.7 L213.9 66.7 L215.9 66.7 L217.9 66.7 L219.9 66.7 L221.9 66.7 L223.9 66.7 L225.9 66.7 L227.9 66.7 L229.9 66.7 L231.9 66.7 L233.9 66.7 L235.9 66.7 L237.9 66.7 L239.9 66.7 L241.9 66.7 L243.9 66.7 L245.9 66.7 L247.9 66.7 L249.9 66.7 L251.9 66.7 L253.9 66.7 L255.9 66.7 L257.9 66.7 L259.9 66.7 L262 66.7 L264 66.7 L266 66.7 L268 66.7 L270 66.7 L272 66.7 L274 66.7 L276 66.7 L278 66.7 L280 66.7 L282 66.7 L284 66.6 L286 66.6 L288 66.6 L290 66.6 L292 66.6 L294 66.6 L296 66.6 L298 66.5 L300 66.4 L302 66.2 L304 66.1 L306 65.9 L308 65.7 L310 65.6 L312 65.6 L314 65.5 L316 65.1 L318 64.7 L320 64.6 L320 58.6Z" fill="#8e2218"/>
</g></g>
<rect x="81.8" y="64.6" width="691.7" height="212.6" fill="none" stroke="#080820" stroke-opacity="0.62" stroke-width="1.6"/>
<text x="81.2" y="305.6" class="tk" text-anchor="middle">0</text>
<text x="167.7" y="305.6" class="tk" text-anchor="middle">3</text>
<text x="254.1" y="305.6" class="tk" text-anchor="middle">6</text>
<text x="340.6" y="305.6" class="tk" text-anchor="middle">9</text>
<text x="427.1" y="305.6" class="tk" text-anchor="middle">12</text>
<text x="513.5" y="305.6" class="tk" text-anchor="middle">15</text>
<text x="600" y="305.6" class="tk" text-anchor="middle">18</text>
<text x="686.4" y="305.6" class="tk" text-anchor="middle">21</text>
<text x="772.9" y="305.6" class="tk" text-anchor="middle">24</text>
<text x="71.5" y="71.4" class="tk" text-anchor="end">0</text>
<text x="71.5" y="121.4" class="tk" text-anchor="end">20</text>
<text x="71.5" y="171.4" class="tk" text-anchor="end">40</text>
<text x="71.5" y="221.5" class="tk" text-anchor="end">60</text>
<text x="71.5" y="271.5" class="tk" text-anchor="end">80</text>
<path d="M81.8 277.2V286.2M81.8 64.6V56.1M168.3 277.2V286.2M168.3 64.6V56.1M254.7 277.2V286.2M254.7 64.6V56.1M341.2 277.2V286.2M341.2 64.6V56.1M427.7 277.2V286.2M427.7 64.6V56.1M514.1 277.2V286.2M514.1 64.6V56.1M600.6 277.2V286.2M600.6 64.6V56.1M687 277.2V286.2M687 64.6V56.1M773.5 277.2V286.2M773.5 64.6V56.1M81.8 64.6H74.3M81.8 114.6H74.3M81.8 164.6H74.3M81.8 214.7H74.3M81.8 264.7H74.3M773.5 64.6H781M773.5 189.7H781" stroke="#444" stroke-width="1.3" fill="none"/>
<text x="113.4" y="256.2" font-size="30.6" class="b" textLength="115.4" lengthAdjust="spacingAndGlyphs" fill="#fff">NIES-1</text>
<g filter="url(#bl2)">
<rect x="799.2" y="62.9" width="26.8" height="17.6" fill="#f9271a"/>
<rect x="799.2" y="80.1" width="26.8" height="17.6" fill="#fb6a20"/>
<rect x="799.2" y="97.3" width="26.8" height="17.6" fill="#fda324"/>
<rect x="799.2" y="114.6" width="26.8" height="17.6" fill="#fdd626"/>
<rect x="799.2" y="131.8" width="26.8" height="17.6" fill="#e2f32c"/>
<rect x="799.2" y="149" width="26.8" height="17.6" fill="#96f16c"/>
<rect x="799.2" y="166.2" width="26.8" height="17.6" fill="#52f0ae"/>
<rect x="799.2" y="183.5" width="26.8" height="17.6" fill="#17ecec"/>
<rect x="799.2" y="200.7" width="26.8" height="17.6" fill="#22b4f6"/>
<rect x="799.2" y="217.9" width="26.8" height="17.6" fill="#2e8cfb"/>
<rect x="799.2" y="235.1" width="26.8" height="17.6" fill="#4552f7"/>
<rect x="799.2" y="252.4" width="26.8" height="17.6" fill="#5612f8"/>
<rect x="799.2" y="269.6" width="26.8" height="17.6" fill="#5612f8"/>
</g>
<rect x="799.2" y="62.9" width="26.8" height="223.9" fill="none" stroke="#0a0a30" stroke-opacity="0.6" stroke-width="1.4"/>
<text x="829" y="87.6" class="tk">50</text>
<text x="829" y="174.1" class="tk">25</text>
<text x="829" y="259.1" class="tk">0</text>
<clipPath id="cp1"><rect x="83" y="334.8" width="692.6" height="212.2"/></clipPath>
<g clip-path="url(#cp1)"><g filter="url(#bl)">
<rect x="78" y="329.8" width="702.6" height="222.2" fill="#4552f7"/>
<path d="M77 358 C81 355.6 92.1 355.9 101.2 355.1 C110.3 354.2 123.2 353.4 131.6 353 C140 352.6 131.6 352.9 151.9 352.8 C172.1 352.7 221.5 352.5 253.1 352.5 C284.7 352.6 319.8 352.6 341.7 353 C363.6 353.4 372.1 354 384.7 355.1 C397.4 356.1 417.6 357.2 417.6 359.4 C417.6 361.5 399.5 365.8 384.7 367.7 C369.9 369.6 351 370.4 329 371 C307.1 371.6 282.6 371.5 253.1 371.5 C223.6 371.5 176.3 371.4 151.9 371.3 C127.4 371.1 118.8 370.8 106.3 370.5 C93.8 370.2 81.9 371.6 77 369.5 C72.1 367.4 73 360.4 77 358Z" fill="#5612f8"/>
<path d="M122.8 404.9 C121.9 402.9 125.9 402.1 131.6 401.1 C137.3 400.1 145.1 399.5 156.9 399.1 C168.7 398.7 186.5 398.8 202.5 398.8 C218.5 398.9 242.8 398.8 253.1 399.3 C263.4 399.9 264.5 400.6 264.5 402.4 C264.5 404.2 257.5 407.7 253.1 410 C248.7 412.3 246.4 415 237.9 416.3 C229.5 417.7 216 417.9 202.5 418.1 C189 418.3 167.9 418.4 156.9 417.6 C146 416.8 142.4 415.4 136.7 413.3 C131 411.2 123.6 406.9 122.8 404.9Z" fill="#5612f8"/>
<path d="M576.6 358.3 C574.7 356 601.8 353.9 614.7 352.4 C627.7 350.8 640.6 349.8 654.3 349 C667.9 348.2 675 347.9 696.6 347.6 C718.3 347.3 769.6 343.4 784.2 347.3 C798.8 351.2 796.5 367.1 784.2 371 C772 374.9 730.1 370.9 710.8 370.7 C691.5 370.6 682.5 370.6 668.4 369.9 C654.3 369.2 641.3 368.4 626 366.5 C610.7 364.6 578.5 360.7 576.6 358.3Z" fill="#5612f8"/>
<path d="M408.5 379.2 C409.9 376.9 427.3 372.2 436.7 369.9 C446.1 367.6 452.3 366.4 465 365.4 C477.7 364.3 497.5 363.9 513 363.7 C528.5 363.5 546.4 363.2 558.2 364.2 C570 365.3 575.4 367.4 583.6 369.9 C591.9 372.4 607.7 376.6 607.7 379.2 C607.7 381.9 593.8 384 583.6 385.7 C573.5 387.4 557.5 388.4 546.9 389.4 C536.3 390.4 525.7 390.8 520.1 391.9 C514.4 393.1 516.5 395.5 513 396.5 C509.5 397.4 502.6 398.2 498.9 397.6 C495.1 397 497.5 394.4 490.4 392.8 C483.3 391.2 466.9 389.4 456.5 388 C446.1 386.5 436.3 385.5 428.3 384 C420.2 382.6 407.1 381.6 408.5 379.2Z" fill="#2e8cfb"/>
<path d="M558.2 372.7 C558.2 373 557.8 373.2 557 373.6 C556.2 373.9 555 374.4 553.4 374.8 C551.9 375.2 549.9 375.7 547.7 376.1 C545.5 376.6 542.9 377 540.1 377.4 C537.3 377.7 534.2 378.1 531 378.4 C527.8 378.6 524.3 378.9 520.9 379 C517.4 379.1 513.7 379.2 510.2 379.2 C506.6 379.2 503 379.1 499.5 379 C496 378.9 492.6 378.6 489.3 378.4 C486.1 378.1 483 377.7 480.2 377.4 C477.5 377 474.9 376.6 472.6 376.1 C470.4 375.7 468.5 375.2 466.9 374.8 C465.4 374.4 464.2 373.9 463.4 373.6 C462.6 373.2 462.2 373 462.2 372.7 C462.2 372.4 462.6 372.2 463.4 371.9 C464.2 371.5 465.4 371.1 466.9 370.6 C468.5 370.2 470.4 369.7 472.6 369.3 C474.9 368.9 477.5 368.4 480.2 368.1 C483 367.7 486.1 367.4 489.3 367.1 C492.6 366.8 496 366.6 499.5 366.4 C503 366.3 506.6 366.2 510.2 366.2 C513.7 366.2 517.4 366.3 520.9 366.4 C524.3 366.6 527.8 366.8 531 367.1 C534.2 367.4 537.3 367.7 540.1 368.1 C542.9 368.4 545.5 368.9 547.7 369.3 C549.9 369.7 551.9 370.2 553.4 370.6 C555 371.1 556.2 371.5 557 371.9 C557.8 372.2 558.2 372.4 558.2 372.7Z" fill="#22b4f6"/>
<path d="M532.8 372.7 C532.8 372.8 532.6 372.9 532.3 373 C532 373.1 531.6 373.3 531 373.4 C530.4 373.6 529.6 373.8 528.8 373.9 C527.9 374.1 526.9 374.3 525.9 374.5 C524.8 374.6 523.6 374.8 522.4 374.9 C521.2 375 519.8 375.1 518.5 375.2 C517.2 375.2 515.8 375.3 514.4 375.3 C513.1 375.3 511.7 375.2 510.3 375.2 C509 375.1 507.7 375 506.5 374.9 C505.2 374.8 504 374.6 503 374.5 C501.9 374.3 500.9 374.1 500.1 373.9 C499.2 373.8 498.5 373.6 497.9 373.4 C497.3 373.3 496.8 373.1 496.5 373 C496.2 372.9 496.1 372.8 496.1 372.7 C496.1 372.6 496.2 372.6 496.5 372.5 C496.8 372.4 497.3 372.2 497.9 372 C498.5 371.9 499.2 371.7 500.1 371.5 C500.9 371.3 501.9 371.1 503 371 C504 370.8 505.2 370.7 506.5 370.6 C507.7 370.4 509 370.3 510.3 370.3 C511.7 370.2 513.1 370.2 514.4 370.2 C515.8 370.2 517.2 370.2 518.5 370.3 C519.8 370.3 521.2 370.4 522.4 370.6 C523.6 370.7 524.8 370.8 525.9 371 C526.9 371.1 527.9 371.3 528.8 371.5 C529.6 371.7 530.4 371.9 531 372 C531.6 372.2 532 372.4 532.3 372.5 C532.6 372.6 532.8 372.6 532.8 372.7Z" fill="#17ecec"/>
</g><g filter="url(#bl3)">
<path d="M77 328.8 L77 350.3 L83 350.3 L86 350.3 L89 350.3 L92 350.3 L95 350.3 L98.1 350.3 L101.1 350.3 L104.1 350.3 L107.1 350.3 L110.1 350.3 L113.1 350.3 L116.1 350.3 L119.1 350.3 L122.1 350.3 L125.2 350.3 L128.2 350.3 L131.2 350.3 L134.2 350.3 L137.2 350.3 L140.2 350.3 L143.2 350.3 L146.2 350.3 L149.2 350.3 L152.3 350.3 L155.3 350.3 L158.3 350.3 L161.3 350.3 L164.3 350.3 L167.3 350.3 L170.3 350.3 L173.3 350.3 L176.4 350.3 L179.4 350.3 L182.4 350.3 L185.4 350.3 L188.4 350.3 L191.4 350.3 L194.4 350.3 L197.4 350.3 L200.4 350.3 L203.5 350.3 L206.5 350.3 L209.5 350.3 L212.5 350.3 L215.5 350.3 L218.5 350.3 L221.5 350.3 L224.5 350.3 L227.5 350.3 L230.6 350.3 L233.6 350.3 L236.6 350.3 L239.6 350.3 L242.6 350.3 L245.6 350.3 L248.6 350.3 L251.6 350.3 L254.6 350.3 L257.7 350.3 L260.7 350.3 L263.7 350.3 L266.7 350.3 L269.7 350.3 L272.7 350.3 L275.7 350.3 L278.7 350.3 L281.7 350.3 L284.8 350.3 L287.8 350.3 L290.8 350.3 L293.8 350.3 L296.8 350.3 L299.8 350.3 L302.8 350.3 L305.8 350.3 L308.8 350.3 L311.9 350.3 L314.9 350.3 L317.9 350.3 L320.9 350.3 L323.9 350.3 L326.9 350.3 L329.9 350.3 L332.9 350.3 L335.9 350.4 L339 350.5 L342 350.6 L345 350.7 L348 350.9 L351 351.1 L354 351.3 L357 351.5 L360 351.7 L363.1 351.9 L366.1 352.1 L369.1 352.3 L372.1 352.5 L375.1 352.6 L378.1 352.7 L381.1 352.8 L384.1 352.8 L387.1 352.8 L390.2 352.8 L393.2 352.9 L396.2 353 L399.2 353.1 L402.2 353.3 L405.2 353.4 L408.2 353.6 L411.2 353.7 L414.2 353.9 L417.3 354 L420.3 354.1 L423.3 354.2 L426.3 354.3 L429.3 354.3 L432.3 354.3 L435.3 354.3 L438.3 354.3 L441.3 354.3 L444.4 354.3 L447.4 354.3 L450.4 354.3 L453.4 354.3 L456.4 354.3 L459.4 354.3 L462.4 354.3 L465.4 354.3 L468.4 354.3 L471.5 354.3 L474.5 354.3 L477.5 354.3 L480.5 354.3 L483.5 354.3 L486.5 354.3 L489.5 354.3 L492.5 354.3 L495.5 354.3 L498.6 354.3 L501.6 354.3 L504.6 354.3 L507.6 354.3 L510.6 354.3 L513.6 354.3 L516.6 354.2 L519.6 354.2 L522.7 354.1 L525.7 354 L528.7 353.8 L531.7 353.7 L534.7 353.6 L537.7 353.4 L540.7 353.3 L543.7 353.2 L546.7 353 L549.8 353 L552.8 352.9 L555.8 352.8 L558.8 352.8 L561.8 352.8 L564.8 352.7 L567.8 352.6 L570.8 352.4 L573.8 352.1 L576.9 351.9 L579.9 351.6 L582.9 351.3 L585.9 351 L588.9 350.7 L591.9 350.5 L594.9 350.4 L597.9 350.3 L600.9 350.3 L604 350.3 L607 350.2 L610 350.2 L613 350.1 L616 350 L619 349.8 L622 349.7 L625 349.6 L628 349.4 L631.1 349.2 L634.1 349.1 L637.1 348.9 L640.1 348.8 L643.1 348.7 L646.1 348.6 L649.1 348.5 L652.1 348.4 L655.1 348.3 L658.2 348.3 L661.2 348.3 L664.2 348.3 L667.2 348.3 L670.2 348.3 L673.2 348.3 L676.2 348.3 L679.2 348.2 L682.2 348.2 L685.3 348.2 L688.3 348.2 L691.3 348.1 L694.3 348.1 L697.3 348.1 L700.3 348.1 L703.3 348 L706.3 348 L709.4 348 L712.4 347.9 L715.4 347.9 L718.4 347.8 L721.4 347.8 L724.4 347.8 L727.4 347.7 L730.4 347.7 L733.4 347.7 L736.5 347.6 L739.5 347.6 L742.5 347.6 L745.5 347.5 L748.5 347.5 L751.5 347.5 L754.5 347.5 L757.5 347.5 L760.5 347.4 L763.6 347.4 L766.6 347.4 L769.6 347.4 L772.6 347.4 L775.6 347.4 L781.6 347.4 L781.6 328.8Z" fill="#2e8cfb"/>
<path d="M77 328.8 L77 348.1 L83 348.1 L86 348.1 L89 348.1 L92 348.1 L95 348.1 L98.1 348.1 L101.1 348.1 L104.1 348.1 L107.1 348.1 L110.1 348.1 L113.1 348.1 L116.1 348.1 L119.1 348.1 L122.1 348.1 L125.2 348.1 L128.2 348.1 L131.2 348.1 L134.2 348.1 L137.2 348.1 L140.2 348.1 L143.2 348.1 L146.2 348.1 L149.2 348.1 L152.3 348.1 L155.3 348.1 L158.3 348.1 L161.3 348.1 L164.3 348.1 L167.3 348.1 L170.3 348.1 L173.3 348.1 L176.4 348.1 L179.4 348.1 L182.4 348.1 L185.4 348.1 L188.4 348.1 L191.4 348.1 L194.4 348.1 L197.4 348.1 L200.4 348.1 L203.5 348.1 L206.5 348.1 L209.5 348.1 L212.5 348.1 L215.5 348.1 L218.5 348.1 L221.5 348.1 L224.5 348.1 L227.5 348.1 L230.6 348.1 L233.6 348.1 L236.6 348.1 L239.6 348.1 L242.6 348.1 L245.6 348.1 L248.6 348.1 L251.6 348.1 L254.6 348.1 L257.7 348.1 L260.7 348.1 L263.7 348.1 L266.7 348.1 L269.7 348.1 L272.7 348.1 L275.7 348.1 L278.7 348.1 L281.7 348.1 L284.8 348.1 L287.8 348.1 L290.8 348.1 L293.8 348.1 L296.8 348.1 L299.8 348.1 L302.8 348.1 L305.8 348.1 L308.8 348.1 L311.9 348.1 L314.9 348.1 L317.9 348.1 L320.9 348.1 L323.9 348.1 L326.9 348.1 L329.9 348.1 L332.9 348.1 L335.9 348.1 L339 348.2 L342 348.3 L345 348.4 L348 348.6 L351 348.7 L354 348.9 L357 349.1 L360 349.3 L363.1 349.4 L366.1 349.6 L369.1 349.7 L372.1 349.9 L375.1 350 L378.1 350.1 L381.1 350.1 L384.1 350.1 L387.1 350.1 L390.2 350.2 L393.2 350.2 L396.2 350.3 L399.2 350.4 L402.2 350.4 L405.2 350.5 L408.2 350.6 L411.2 350.6 L414.2 350.7 L417.3 350.8 L420.3 350.9 L423.3 350.9 L426.3 350.9 L429.3 350.8 L432.3 350.8 L435.3 350.7 L438.3 350.7 L441.3 350.7 L444.4 350.6 L447.4 350.6 L450.4 350.6 L453.4 350.6 L456.4 350.5 L459.4 350.5 L462.4 350.5 L465.4 350.5 L468.4 350.4 L471.5 350.4 L474.5 350.4 L477.5 350.4 L480.5 350.4 L483.5 350.4 L486.5 350.4 L489.5 350.4 L492.5 350.4 L495.5 350.4 L498.6 350.4 L501.6 350.4 L504.6 350.4 L507.6 350.4 L510.6 350.4 L513.6 350.4 L516.6 350.4 L519.6 350.3 L522.7 350.3 L525.7 350.2 L528.7 350.1 L531.7 350 L534.7 349.8 L537.7 349.7 L540.7 349.6 L543.7 349.5 L546.7 349.4 L549.8 349.4 L552.8 349.3 L555.8 349.3 L558.8 349.3 L561.8 349.4 L564.8 349.3 L567.8 349.2 L570.8 349.1 L573.8 348.9 L576.9 348.7 L579.9 348.6 L582.9 348.4 L585.9 348.3 L588.9 348.1 L591.9 347.9 L594.9 347.9 L597.9 347.9 L600.9 347.9 L604 347.9 L607 347.9 L610 347.9 L613 347.8 L616 347.7 L619 347.6 L622 347.5 L625 347.4 L628 347.3 L631.1 347.2 L634.1 347 L637.1 346.9 L640.1 346.8 L643.1 346.7 L646.1 346.6 L649.1 346.5 L652.1 346.4 L655.1 346.4 L658.2 346.3 L661.2 346.3 L664.2 346.3 L667.2 346.3 L670.2 346.3 L673.2 346.3 L676.2 346.3 L679.2 346.3 L682.2 346.3 L685.3 346.3 L688.3 346.2 L691.3 346.2 L694.3 346.2 L697.3 346.2 L700.3 346.1 L703.3 346.1 L706.3 346.1 L709.4 346 L712.4 346 L715.4 346 L718.4 346 L721.4 345.9 L724.4 345.9 L727.4 345.9 L730.4 345.8 L733.4 345.8 L736.5 345.8 L739.5 345.7 L742.5 345.7 L745.5 345.7 L748.5 345.7 L751.5 345.7 L754.5 345.6 L757.5 345.6 L760.5 345.6 L763.6 345.6 L766.6 345.6 L769.6 345.6 L772.6 345.6 L775.6 345.6 L781.6 345.6 L781.6 328.8Z" fill="#22b4f6"/>
<path d="M77 328.8 L77 347.1 L83 347.1 L86 347.1 L89 347.1 L92 347.1 L95 347.1 L98.1 347.1 L101.1 347.1 L104.1 347.1 L107.1 347.1 L110.1 347.1 L113.1 347.1 L116.1 347.1 L119.1 347.1 L122.1 347.1 L125.2 347.1 L128.2 347.1 L131.2 347.1 L134.2 347.1 L137.2 347.1 L140.2 347.1 L143.2 347.1 L146.2 347.1 L149.2 347.1 L152.3 347.1 L155.3 347.1 L158.3 347.1 L161.3 347.1 L164.3 347.1 L167.3 347.1 L170.3 347.1 L173.3 347.1 L176.4 347.1 L179.4 347.1 L182.4 347.1 L185.4 347.1 L188.4 347.1 L191.4 347.1 L194.4 347.1 L197.4 347.1 L200.4 347.1 L203.5 347.1 L206.5 347.1 L209.5 347.1 L212.5 347.1 L215.5 347.1 L218.5 347.1 L221.5 347.1 L224.5 347.1 L227.5 347.1 L230.6 347.1 L233.6 347.1 L236.6 347.1 L239.6 347.1 L242.6 347.1 L245.6 347.1 L248.6 347.1 L251.6 347.1 L254.6 347.1 L257.7 347.1 L260.7 347.1 L263.7 347.1 L266.7 347.1 L269.7 347.1 L272.7 347.1 L275.7 347.1 L278.7 347.1 L281.7 347.1 L284.8 347.1 L287.8 347.1 L290.8 347.1 L293.8 347.1 L296.8 347.1 L299.8 347.1 L302.8 347.1 L305.8 347.1 L308.8 347.1 L311.9 347.1 L314.9 347.1 L317.9 347.1 L320.9 347.1 L323.9 347.1 L326.9 347.1 L329.9 347.1 L332.9 347.1 L335.9 347.1 L339 347.2 L342 347.3 L345 347.4 L348 347.5 L351 347.7 L354 347.8 L357 348 L360 348.1 L363.1 348.3 L366.1 348.4 L369.1 348.6 L372.1 348.7 L375.1 348.8 L378.1 348.8 L381.1 348.9 L384.1 348.9 L387.1 348.9 L390.2 348.9 L393.2 349 L396.2 349.1 L399.2 349.1 L402.2 349.1 L405.2 349.1 L408.2 349 L411.2 349 L414.2 349.1 L417.3 349.2 L420.3 349.2 L423.3 349.2 L426.3 349.1 L429.3 348.9 L432.3 348.8 L435.3 348.6 L438.3 348.6 L441.3 348.6 L444.4 348.5 L447.4 348.5 L450.4 348.5 L453.4 348.4 L456.4 348.3 L459.4 348.3 L462.4 348.2 L465.4 348.2 L468.4 348.1 L471.5 348.1 L474.5 348.1 L477.5 348.1 L480.5 348.1 L483.5 348.1 L486.5 348.1 L489.5 348.1 L492.5 348.1 L495.5 348.1 L498.6 348.1 L501.6 348.1 L504.6 348.1 L507.6 348.1 L510.6 348.1 L513.6 348.1 L516.6 348.1 L519.6 348 L522.7 348 L525.7 347.9 L528.7 347.8 L531.7 347.7 L534.7 347.6 L537.7 347.5 L540.7 347.4 L543.7 347.4 L546.7 347.3 L549.8 347.2 L552.8 347.2 L555.8 347.3 L558.8 347.3 L561.8 347.4 L564.8 347.4 L567.8 347.3 L570.8 347.2 L573.8 347.1 L576.9 347 L579.9 346.9 L582.9 346.9 L585.9 346.8 L588.9 346.7 L591.9 346.6 L594.9 346.6 L597.9 346.7 L600.9 346.8 L604 346.8 L607 346.8 L610 346.8 L613 346.7 L616 346.7 L619 346.6 L622 346.5 L625 346.4 L628 346.3 L631.1 346.2 L634.1 346.1 L637.1 346 L640.1 345.9 L643.1 345.8 L646.1 345.7 L649.1 345.6 L652.1 345.5 L655.1 345.5 L658.2 345.5 L661.2 345.5 L664.2 345.5 L667.2 345.5 L670.2 345.5 L673.2 345.4 L676.2 345.4 L679.2 345.4 L682.2 345.4 L685.3 345.4 L688.3 345.4 L691.3 345.3 L694.3 345.3 L697.3 345.3 L700.3 345.3 L703.3 345.3 L706.3 345.2 L709.4 345.2 L712.4 345.2 L715.4 345.1 L718.4 345.1 L721.4 345.1 L724.4 345.1 L727.4 345 L730.4 345 L733.4 345 L736.5 344.9 L739.5 344.9 L742.5 344.9 L745.5 344.9 L748.5 344.9 L751.5 344.8 L754.5 344.8 L757.5 344.8 L760.5 344.8 L763.6 344.8 L766.6 344.8 L769.6 344.8 L772.6 344.8 L775.6 344.8 L781.6 344.8 L781.6 328.8Z" fill="#17ecec"/>
<path d="M77 328.8 L77 346 L83 346 L86 346 L89 346 L92 346 L95 346 L98.1 346 L101.1 346 L104.1 346 L107.1 346 L110.1 346 L113.1 346 L116.1 346 L119.1 346 L122.1 346 L125.2 346 L128.2 346 L131.2 346 L134.2 346 L137.2 346 L140.2 346 L143.2 346 L146.2 346 L149.2 346 L152.3 346 L155.3 346 L158.3 346 L161.3 346 L164.3 346 L167.3 346 L170.3 346 L173.3 346 L176.4 346 L179.4 346 L182.4 346 L185.4 346 L188.4 346 L191.4 346 L194.4 346 L197.4 346 L200.4 346 L203.5 346 L206.5 346 L209.5 346 L212.5 346 L215.5 346 L218.5 346 L221.5 346 L224.5 346 L227.5 346 L230.6 346 L233.6 346 L236.6 346 L239.6 346 L242.6 346 L245.6 346 L248.6 346 L251.6 346 L254.6 346 L257.7 346 L260.7 346 L263.7 346 L266.7 346 L269.7 346 L272.7 346 L275.7 346 L278.7 346 L281.7 346 L284.8 346 L287.8 346 L290.8 346 L293.8 346 L296.8 346 L299.8 346 L302.8 346 L305.8 346 L308.8 346 L311.9 346 L314.9 346 L317.9 346 L320.9 346 L323.9 346 L326.9 346 L329.9 346 L332.9 346.1 L335.9 346.1 L339 346.2 L342 346.2 L345 346.3 L348 346.5 L351 346.6 L354 346.7 L357 346.9 L360 347 L363.1 347.1 L366.1 347.3 L369.1 347.4 L372.1 347.5 L375.1 347.6 L378.1 347.6 L381.1 347.7 L384.1 347.7 L387.1 347.7 L390.2 347.7 L393.2 347.7 L396.2 347.8 L399.2 347.8 L402.2 347.7 L405.2 347.6 L408.2 347.5 L411.2 347.4 L414.2 347.5 L417.3 347.5 L420.3 347.5 L423.3 347.4 L426.3 347.2 L429.3 347 L432.3 346.8 L435.3 346.6 L438.3 346.5 L441.3 346.5 L444.4 346.5 L447.4 346.4 L450.4 346.3 L453.4 346.2 L456.4 346.1 L459.4 346 L462.4 345.9 L465.4 345.9 L468.4 345.8 L471.5 345.8 L474.5 345.8 L477.5 345.8 L480.5 345.8 L483.5 345.8 L486.5 345.8 L489.5 345.8 L492.5 345.8 L495.5 345.8 L498.6 345.8 L501.6 345.8 L504.6 345.8 L507.6 345.8 L510.6 345.8 L513.6 345.8 L516.6 345.8 L519.6 345.8 L522.7 345.7 L525.7 345.7 L528.7 345.6 L531.7 345.5 L534.7 345.4 L537.7 345.3 L540.7 345.3 L543.7 345.2 L546.7 345.1 L549.8 345.1 L552.8 345.2 L555.8 345.2 L558.8 345.3 L561.8 345.4 L564.8 345.4 L567.8 345.4 L570.8 345.3 L573.8 345.2 L576.9 345.2 L579.9 345.3 L582.9 345.4 L585.9 345.4 L588.9 345.3 L591.9 345.2 L594.9 345.3 L597.9 345.4 L600.9 345.6 L604 345.7 L607 345.7 L610 345.7 L613 345.7 L616 345.6 L619 345.6 L622 345.5 L625 345.5 L628 345.4 L631.1 345.3 L634.1 345.2 L637.1 345.1 L640.1 345 L643.1 344.9 L646.1 344.8 L649.1 344.7 L652.1 344.7 L655.1 344.6 L658.2 344.6 L661.2 344.6 L664.2 344.6 L667.2 344.6 L670.2 344.6 L673.2 344.6 L676.2 344.6 L679.2 344.6 L682.2 344.5 L685.3 344.5 L688.3 344.5 L691.3 344.5 L694.3 344.5 L697.3 344.4 L700.3 344.4 L703.3 344.4 L706.3 344.4 L709.4 344.3 L712.4 344.3 L715.4 344.3 L718.4 344.3 L721.4 344.2 L724.4 344.2 L727.4 344.2 L730.4 344.2 L733.4 344.1 L736.5 344.1 L739.5 344.1 L742.5 344.1 L745.5 344 L748.5 344 L751.5 344 L754.5 344 L757.5 344 L760.5 344 L763.6 344 L766.6 344 L769.6 343.9 L772.6 343.9 L775.6 343.9 L781.6 343.9 L781.6 328.8Z" fill="#52f0ae"/>
<path d="M77 328.8 L77 345 L83 345 L86 345 L89 345 L92 345 L95 345 L98.1 345 L101.1 345 L104.1 345 L107.1 345 L110.1 345 L113.1 345 L116.1 345 L119.1 345 L122.1 345 L125.2 345 L128.2 345 L131.2 345 L134.2 345 L137.2 345 L140.2 345 L143.2 345 L146.2 345 L149.2 345 L152.3 345 L155.3 345 L158.3 345 L161.3 345 L164.3 345 L167.3 345 L170.3 345 L173.3 345 L176.4 345 L179.4 345 L182.4 345 L185.4 345 L188.4 345 L191.4 345 L194.4 345 L197.4 345 L200.4 345 L203.5 345 L206.5 345 L209.5 345 L212.5 345 L215.5 345 L218.5 345 L221.5 345 L224.5 345 L227.5 345 L230.6 345 L233.6 345 L236.6 345 L239.6 345 L242.6 345 L245.6 345 L248.6 345 L251.6 345 L254.6 345 L257.7 345 L260.7 345 L263.7 345 L266.7 345 L269.7 345 L272.7 345 L275.7 345 L278.7 345 L281.7 345 L284.8 345 L287.8 345 L290.8 345 L293.8 345 L296.8 345 L299.8 345 L302.8 345 L305.8 345 L308.8 345 L311.9 345 L314.9 345 L317.9 345 L320.9 345 L323.9 345 L326.9 345 L329.9 345 L332.9 345.1 L335.9 345.1 L339 345.1 L342 345.2 L345 345.3 L348 345.4 L351 345.5 L354 345.6 L357 345.8 L360 345.9 L363.1 346 L366.1 346.1 L369.1 346.2 L372.1 346.3 L375.1 346.4 L378.1 346.4 L381.1 346.4 L384.1 346.4 L387.1 346.4 L390.2 346.5 L393.2 346.5 L396.2 346.5 L399.2 346.5 L402.2 346.4 L405.2 346.2 L408.2 346 L411.2 345.9 L414.2 345.9 L417.3 345.9 L420.3 345.8 L423.3 345.6 L426.3 345.4 L429.3 345.1 L432.3 344.8 L435.3 344.6 L438.3 344.4 L441.3 344.4 L444.4 344.4 L447.4 344.3 L450.4 344.2 L453.4 344.1 L456.4 343.9 L459.4 343.8 L462.4 343.7 L465.4 343.6 L468.4 343.5 L471.5 343.5 L474.5 343.5 L477.5 343.5 L480.5 343.5 L483.5 343.5 L486.5 343.5 L489.5 343.5 L492.5 343.5 L495.5 343.5 L498.6 343.5 L501.6 343.5 L504.6 343.5 L507.6 343.5 L510.6 343.5 L513.6 343.5 L516.6 343.5 L519.6 343.5 L522.7 343.4 L525.7 343.4 L528.7 343.3 L531.7 343.3 L534.7 343.2 L537.7 343.1 L540.7 343.1 L543.7 343 L546.7 343 L549.8 343 L552.8 343.1 L555.8 343.2 L558.8 343.3 L561.8 343.4 L564.8 343.5 L567.8 343.5 L570.8 343.4 L573.8 343.4 L576.9 343.5 L579.9 343.7 L582.9 343.8 L585.9 343.9 L588.9 343.9 L591.9 343.9 L594.9 344 L597.9 344.2 L600.9 344.5 L604 344.6 L607 344.6 L610 344.6 L613 344.6 L616 344.6 L619 344.6 L622 344.5 L625 344.5 L628 344.4 L631.1 344.3 L634.1 344.2 L637.1 344.1 L640.1 344 L643.1 344 L646.1 343.9 L649.1 343.8 L652.1 343.8 L655.1 343.7 L658.2 343.7 L661.2 343.7 L664.2 343.7 L667.2 343.7 L670.2 343.7 L673.2 343.7 L676.2 343.7 L679.2 343.7 L682.2 343.7 L685.3 343.7 L688.3 343.6 L691.3 343.6 L694.3 343.6 L697.3 343.6 L700.3 343.6 L703.3 343.5 L706.3 343.5 L709.4 343.5 L712.4 343.5 L715.4 343.4 L718.4 343.4 L721.4 343.4 L724.4 343.4 L727.4 343.3 L730.4 343.3 L733.4 343.3 L736.5 343.3 L739.5 343.3 L742.5 343.2 L745.5 343.2 L748.5 343.2 L751.5 343.2 L754.5 343.2 L757.5 343.2 L760.5 343.2 L763.6 343.1 L766.6 343.1 L769.6 343.1 L772.6 343.1 L775.6 343.1 L781.6 343.1 L781.6 328.8Z" fill="#96f16c"/>
<path d="M77 328.8 L77 344 L83 344 L86 344 L89 344 L92 344 L95 344 L98.1 344 L101.1 344 L104.1 344 L107.1 344 L110.1 344 L113.1 344 L116.1 344 L119.1 344 L122.1 344 L125.2 344 L128.2 344 L131.2 344 L134.2 344 L137.2 344 L140.2 344 L143.2 344 L146.2 344 L149.2 344 L152.3 344 L155.3 344 L158.3 344 L161.3 344 L164.3 344 L167.3 344 L170.3 344 L173.3 344 L176.4 344 L179.4 344 L182.4 344 L185.4 344 L188.4 344 L191.4 344 L194.4 344 L197.4 344 L200.4 344 L203.5 344 L206.5 344 L209.5 344 L212.5 344 L215.5 344 L218.5 344 L221.5 344 L224.5 344 L227.5 344 L230.6 344 L233.6 344 L236.6 344 L239.6 344 L242.6 344 L245.6 344 L248.6 344 L251.6 344 L254.6 344 L257.7 344 L260.7 344 L263.7 344 L266.7 344 L269.7 344 L272.7 344 L275.7 344 L278.7 344 L281.7 344 L284.8 344 L287.8 344 L290.8 344 L293.8 344 L296.8 344 L299.8 344 L302.8 344 L305.8 344 L308.8 344 L311.9 344 L314.9 344 L317.9 344 L320.9 344 L323.9 344 L326.9 344 L329.9 344 L332.9 344 L335.9 344.1 L339 344.1 L342 344.2 L345 344.3 L348 344.3 L351 344.4 L354 344.5 L357 344.6 L360 344.8 L363.1 344.9 L366.1 344.9 L369.1 345 L372.1 345.1 L375.1 345.1 L378.1 345.2 L381.1 345.2 L384.1 345.2 L387.1 345.2 L390.2 345.2 L393.2 345.3 L396.2 345.3 L399.2 345.2 L402.2 345 L405.2 344.8 L408.2 344.5 L411.2 344.3 L414.2 344.2 L417.3 344.2 L420.3 344.1 L423.3 343.9 L426.3 343.6 L429.3 343.2 L432.3 342.8 L435.3 342.5 L438.3 342.3 L441.3 342.3 L444.4 342.3 L447.4 342.2 L450.4 342 L453.4 341.9 L456.4 341.7 L459.4 341.6 L462.4 341.4 L465.4 341.3 L468.4 341.2 L471.5 341.2 L474.5 341.2 L477.5 341.2 L480.5 341.2 L483.5 341.2 L486.5 341.2 L489.5 341.2 L492.5 341.2 L495.5 341.2 L498.6 341.2 L501.6 341.2 L504.6 341.2 L507.6 341.2 L510.6 341.2 L513.6 341.2 L516.6 341.2 L519.6 341.2 L522.7 341.2 L525.7 341.1 L528.7 341.1 L531.7 341 L534.7 341 L537.7 341 L540.7 340.9 L543.7 340.9 L546.7 340.8 L549.8 340.9 L552.8 341 L555.8 341.1 L558.8 341.3 L561.8 341.4 L564.8 341.5 L567.8 341.6 L570.8 341.6 L573.8 341.5 L576.9 341.7 L579.9 342 L582.9 342.3 L585.9 342.5 L588.9 342.5 L591.9 342.5 L594.9 342.7 L597.9 343 L600.9 343.3 L604 343.5 L607 343.5 L610 343.5 L613 343.5 L616 343.5 L619 343.6 L622 343.5 L625 343.5 L628 343.5 L631.1 343.4 L634.1 343.3 L637.1 343.2 L640.1 343.1 L643.1 343.1 L646.1 343 L649.1 342.9 L652.1 342.9 L655.1 342.9 L658.2 342.8 L661.2 342.8 L664.2 342.8 L667.2 342.8 L670.2 342.8 L673.2 342.8 L676.2 342.8 L679.2 342.8 L682.2 342.8 L685.3 342.8 L688.3 342.8 L691.3 342.8 L694.3 342.7 L697.3 342.7 L700.3 342.7 L703.3 342.7 L706.3 342.7 L709.4 342.6 L712.4 342.6 L715.4 342.6 L718.4 342.6 L721.4 342.6 L724.4 342.5 L727.4 342.5 L730.4 342.5 L733.4 342.5 L736.5 342.4 L739.5 342.4 L742.5 342.4 L745.5 342.4 L748.5 342.4 L751.5 342.4 L754.5 342.4 L757.5 342.3 L760.5 342.3 L763.6 342.3 L766.6 342.3 L769.6 342.3 L772.6 342.3 L775.6 342.3 L781.6 342.3 L781.6 328.8Z" fill="#e2f32c"/>
<path d="M77 328.8 L77 343 L83 343 L86 343 L89 343 L92 343 L95 343 L98.1 343 L101.1 343 L104.1 343 L107.1 343 L110.1 343 L113.1 343 L116.1 343 L119.1 343 L122.1 343 L125.2 343 L128.2 343 L131.2 343 L134.2 343 L137.2 343 L140.2 343 L143.2 343 L146.2 343 L149.2 343 L152.3 343 L155.3 343 L158.3 343 L161.3 343 L164.3 343 L167.3 343 L170.3 343 L173.3 343 L176.4 343 L179.4 343 L182.4 343 L185.4 343 L188.4 343 L191.4 343 L194.4 343 L197.4 343 L200.4 343 L203.5 343 L206.5 343 L209.5 343 L212.5 343 L215.5 343 L218.5 343 L221.5 343 L224.5 343 L227.5 343 L230.6 343 L233.6 343 L236.6 343 L239.6 343 L242.6 343 L245.6 343 L248.6 343 L251.6 343 L254.6 343 L257.7 343 L260.7 343 L263.7 343 L266.7 343 L269.7 343 L272.7 343 L275.7 343 L278.7 343 L281.7 343 L284.8 343 L287.8 343 L290.8 343 L293.8 343 L296.8 343 L299.8 343 L302.8 343 L305.8 343 L308.8 343 L311.9 343 L314.9 343 L317.9 343 L320.9 343 L323.9 343 L326.9 343 L329.9 343 L332.9 343 L335.9 343.1 L339 343.1 L342 343.2 L345 343.2 L348 343.3 L351 343.4 L354 343.5 L357 343.5 L360 343.6 L363.1 343.7 L366.1 343.8 L369.1 343.8 L372.1 343.9 L375.1 343.9 L378.1 344 L381.1 344 L384.1 344 L387.1 344 L390.2 344 L393.2 344 L396.2 344 L399.2 343.9 L402.2 343.7 L405.2 343.3 L408.2 342.9 L411.2 342.7 L414.2 342.6 L417.3 342.6 L420.3 342.4 L423.3 342.1 L426.3 341.7 L429.3 341.3 L432.3 340.8 L435.3 340.5 L438.3 340.3 L441.3 340.2 L444.4 340.2 L447.4 340.1 L450.4 339.9 L453.4 339.7 L456.4 339.5 L459.4 339.3 L462.4 339.1 L465.4 339 L468.4 338.9 L471.5 338.9 L474.5 338.9 L477.5 338.9 L480.5 338.9 L483.5 338.9 L486.5 338.9 L489.5 338.9 L492.5 338.9 L495.5 338.9 L498.6 338.9 L501.6 338.9 L504.6 338.9 L507.6 338.9 L510.6 338.9 L513.6 338.9 L516.6 338.9 L519.6 338.9 L522.7 338.9 L525.7 338.9 L528.7 338.8 L531.7 338.8 L534.7 338.8 L537.7 338.8 L540.7 338.7 L543.7 338.7 L546.7 338.7 L549.8 338.8 L552.8 338.9 L555.8 339.1 L558.8 339.3 L561.8 339.5 L564.8 339.6 L567.8 339.7 L570.8 339.7 L573.8 339.7 L576.9 340 L579.9 340.4 L582.9 340.8 L585.9 341.1 L588.9 341.2 L591.9 341.1 L594.9 341.4 L597.9 341.8 L600.9 342.2 L604 342.4 L607 342.4 L610 342.4 L613 342.5 L616 342.5 L619 342.5 L622 342.6 L625 342.6 L628 342.5 L631.1 342.5 L634.1 342.4 L637.1 342.3 L640.1 342.2 L643.1 342.2 L646.1 342.1 L649.1 342.1 L652.1 342 L655.1 342 L658.2 342 L661.2 342 L664.2 342 L667.2 342 L670.2 342 L673.2 342 L676.2 341.9 L679.2 341.9 L682.2 341.9 L685.3 341.9 L688.3 341.9 L691.3 341.9 L694.3 341.9 L697.3 341.9 L700.3 341.8 L703.3 341.8 L706.3 341.8 L709.4 341.8 L712.4 341.8 L715.4 341.7 L718.4 341.7 L721.4 341.7 L724.4 341.7 L727.4 341.7 L730.4 341.7 L733.4 341.6 L736.5 341.6 L739.5 341.6 L742.5 341.6 L745.5 341.6 L748.5 341.6 L751.5 341.5 L754.5 341.5 L757.5 341.5 L760.5 341.5 L763.6 341.5 L766.6 341.5 L769.6 341.5 L772.6 341.5 L775.6 341.5 L781.6 341.5 L781.6 328.8Z" fill="#fdd626"/>
<path d="M77 328.8 L77 342 L83 342 L86 342 L89 342 L92 342 L95 342 L98.1 342 L101.1 342 L104.1 342 L107.1 342 L110.1 342 L113.1 342 L116.1 342 L119.1 342 L122.1 342 L125.2 342 L128.2 342 L131.2 342 L134.2 342 L137.2 342 L140.2 342 L143.2 342 L146.2 342 L149.2 342 L152.3 342 L155.3 342 L158.3 342 L161.3 342 L164.3 342 L167.3 342 L170.3 342 L173.3 342 L176.4 342 L179.4 342 L182.4 342 L185.4 342 L188.4 342 L191.4 342 L194.4 342 L197.4 342 L200.4 342 L203.5 342 L206.5 342 L209.5 342 L212.5 342 L215.5 342 L218.5 342 L221.5 342 L224.5 342 L227.5 342 L230.6 342 L233.6 342 L236.6 342 L239.6 342 L242.6 342 L245.6 342 L248.6 342 L251.6 342 L254.6 342 L257.7 342 L260.7 342 L263.7 342 L266.7 342 L269.7 342 L272.7 342 L275.7 342 L278.7 342 L281.7 342 L284.8 342 L287.8 342 L290.8 342 L293.8 342 L296.8 342 L299.8 342 L302.8 342 L305.8 342 L308.8 342 L311.9 342 L314.9 342 L317.9 342 L320.9 342 L323.9 342 L326.9 342 L329.9 342 L332.9 342 L335.9 342.1 L339 342.1 L342 342.1 L345 342.2 L348 342.2 L351 342.3 L354 342.4 L357 342.4 L360 342.5 L363.1 342.6 L366.1 342.6 L369.1 342.7 L372.1 342.7 L375.1 342.7 L378.1 342.7 L381.1 342.8 L384.1 342.7 L387.1 342.7 L390.2 342.7 L393.2 342.8 L396.2 342.8 L399.2 342.7 L402.2 342.3 L405.2 341.9 L408.2 341.4 L411.2 341.1 L414.2 341 L417.3 340.9 L420.3 340.7 L423.3 340.4 L426.3 339.9 L429.3 339.4 L432.3 338.9 L435.3 338.4 L438.3 338.2 L441.3 338.1 L444.4 338.1 L447.4 337.9 L450.4 337.8 L453.4 337.5 L456.4 337.3 L459.4 337.1 L462.4 336.9 L465.4 336.7 L468.4 336.7 L471.5 336.6 L474.5 336.6 L477.5 336.6 L480.5 336.6 L483.5 336.6 L486.5 336.6 L489.5 336.6 L492.5 336.6 L495.5 336.6 L498.6 336.6 L501.6 336.6 L504.6 336.6 L507.6 336.6 L510.6 336.6 L513.6 336.6 L516.6 336.6 L519.6 336.6 L522.7 336.6 L525.7 336.6 L528.7 336.6 L531.7 336.6 L534.7 336.6 L537.7 336.6 L540.7 336.5 L543.7 336.5 L546.7 336.5 L549.8 336.6 L552.8 336.8 L555.8 337 L558.8 337.2 L561.8 337.5 L564.8 337.7 L567.8 337.8 L570.8 337.8 L573.8 337.8 L576.9 338.2 L579.9 338.7 L582.9 339.3 L585.9 339.6 L588.9 339.8 L591.9 339.8 L594.9 340.1 L597.9 340.6 L600.9 341 L604 341.3 L607 341.4 L610 341.4 L613 341.4 L616 341.5 L619 341.5 L622 341.6 L625 341.6 L628 341.6 L631.1 341.5 L634.1 341.5 L637.1 341.4 L640.1 341.3 L643.1 341.3 L646.1 341.2 L649.1 341.2 L652.1 341.1 L655.1 341.1 L658.2 341.1 L661.2 341.1 L664.2 341.1 L667.2 341.1 L670.2 341.1 L673.2 341.1 L676.2 341.1 L679.2 341.1 L682.2 341.1 L685.3 341 L688.3 341 L691.3 341 L694.3 341 L697.3 341 L700.3 341 L703.3 341 L706.3 341 L709.4 340.9 L712.4 340.9 L715.4 340.9 L718.4 340.9 L721.4 340.9 L724.4 340.9 L727.4 340.8 L730.4 340.8 L733.4 340.8 L736.5 340.8 L739.5 340.8 L742.5 340.8 L745.5 340.7 L748.5 340.7 L751.5 340.7 L754.5 340.7 L757.5 340.7 L760.5 340.7 L763.6 340.7 L766.6 340.7 L769.6 340.7 L772.6 340.7 L775.6 340.7 L781.6 340.7 L781.6 328.8Z" fill="#fda324"/>
<path d="M77 328.8 L77 341 L83 341 L86 341 L89 341 L92 341 L95 341 L98.1 341 L101.1 341 L104.1 341 L107.1 341 L110.1 341 L113.1 341 L116.1 341 L119.1 341 L122.1 341 L125.2 341 L128.2 341 L131.2 341 L134.2 341 L137.2 341 L140.2 341 L143.2 341 L146.2 341 L149.2 341 L152.3 341 L155.3 341 L158.3 341 L161.3 341 L164.3 341 L167.3 341 L170.3 341 L173.3 341 L176.4 341 L179.4 341 L182.4 341 L185.4 341 L188.4 341 L191.4 341 L194.4 341 L197.4 341 L200.4 341 L203.5 341 L206.5 341 L209.5 341 L212.5 341 L215.5 341 L218.5 341 L221.5 341 L224.5 341 L227.5 341 L230.6 341 L233.6 341 L236.6 341 L239.6 341 L242.6 341 L245.6 341 L248.6 341 L251.6 341 L254.6 341 L257.7 341 L260.7 341 L263.7 341 L266.7 341 L269.7 341 L272.7 341 L275.7 341 L278.7 341 L281.7 341 L284.8 341 L287.8 341 L290.8 341 L293.8 341 L296.8 341 L299.8 341 L302.8 341 L305.8 341 L308.8 341 L311.9 341 L314.9 341 L317.9 341 L320.9 341 L323.9 341 L326.9 341 L329.9 341 L332.9 341 L335.9 341 L339 341.1 L342 341.1 L345 341.1 L348 341.2 L351 341.2 L354 341.3 L357 341.3 L360 341.4 L363.1 341.4 L366.1 341.5 L369.1 341.5 L372.1 341.5 L375.1 341.5 L378.1 341.5 L381.1 341.5 L384.1 341.5 L387.1 341.5 L390.2 341.5 L393.2 341.5 L396.2 341.5 L399.2 341.4 L402.2 341 L405.2 340.5 L408.2 339.9 L411.2 339.5 L414.2 339.4 L417.3 339.3 L420.3 339 L423.3 338.6 L426.3 338.1 L429.3 337.5 L432.3 336.9 L435.3 336.4 L438.3 336.1 L441.3 336 L444.4 336 L447.4 335.8 L450.4 335.6 L453.4 335.4 L456.4 335.1 L460.9 334.8 L460.9 328.8Z" fill="#fb6a20"/>
<path d="M554.3 328.8 L554.3 335 L558.8 335.2 L561.8 335.5 L564.8 335.7 L567.8 335.9 L570.8 335.9 L573.8 336 L576.9 336.4 L579.9 337.1 L582.9 337.7 L585.9 338.2 L588.9 338.4 L591.9 338.4 L594.9 338.8 L597.9 339.4 L600.9 339.9 L604 340.2 L607 340.3 L610 340.3 L613 340.3 L616 340.4 L619 340.5 L622 340.6 L625 340.6 L628 340.6 L631.1 340.6 L634.1 340.5 L637.1 340.5 L640.1 340.4 L643.1 340.4 L646.1 340.3 L649.1 340.3 L652.1 340.3 L655.1 340.2 L658.2 340.2 L661.2 340.2 L664.2 340.2 L667.2 340.2 L670.2 340.2 L673.2 340.2 L676.2 340.2 L679.2 340.2 L682.2 340.2 L685.3 340.2 L688.3 340.2 L691.3 340.2 L694.3 340.1 L697.3 340.1 L700.3 340.1 L703.3 340.1 L706.3 340.1 L709.4 340.1 L712.4 340.1 L715.4 340.1 L718.4 340 L721.4 340 L724.4 340 L727.4 340 L730.4 340 L733.4 340 L736.5 340 L739.5 339.9 L742.5 339.9 L745.5 339.9 L748.5 339.9 L751.5 339.9 L754.5 339.9 L757.5 339.9 L760.5 339.9 L763.6 339.9 L766.6 339.9 L769.6 339.9 L772.6 339.9 L775.6 339.9 L781.6 339.9 L781.6 328.8Z" fill="#fb6a20"/>
<path d="M77 328.8 L77 340 L83 340 L86 340 L89 340 L92 340 L95 340 L98.1 340 L101.1 340 L104.1 340 L107.1 340 L110.1 340 L113.1 340 L116.1 340 L119.1 340 L122.1 340 L125.2 340 L128.2 340 L131.2 340 L134.2 340 L137.2 340 L140.2 340 L143.2 340 L146.2 340 L149.2 340 L152.3 340 L155.3 340 L158.3 340 L161.3 340 L164.3 340 L167.3 340 L170.3 340 L173.3 340 L176.4 340 L179.4 340 L182.4 340 L185.4 340 L188.4 340 L191.4 340 L194.4 340 L197.4 340 L200.4 340 L203.5 340 L206.5 340 L209.5 340 L212.5 340 L215.5 340 L218.5 340 L221.5 340 L224.5 340 L227.5 340 L230.6 340 L233.6 340 L236.6 340 L239.6 340 L242.6 340 L245.6 340 L248.6 340 L251.6 340 L254.6 340 L257.7 340 L260.7 340 L263.7 340 L266.7 340 L269.7 340 L272.7 340 L275.7 340 L278.7 340 L281.7 340 L284.8 340 L287.8 340 L290.8 340 L293.8 340 L296.8 340 L299.8 340 L302.8 340 L305.8 340 L308.8 340 L311.9 340 L314.9 340 L317.9 340 L320.9 340 L323.9 340 L326.9 340 L329.9 340 L332.9 340 L335.9 340 L339 340.1 L342 340.1 L345 340.1 L348 340.1 L351 340.2 L354 340.2 L357 340.2 L360 340.3 L363.1 340.3 L366.1 340.3 L369.1 340.3 L372.1 340.3 L375.1 340.3 L378.1 340.3 L381.1 340.3 L384.1 340.3 L387.1 340.3 L390.2 340.3 L393.2 340.3 L396.2 340.3 L399.2 340.1 L402.2 339.6 L405.2 339 L408.2 338.4 L411.2 337.9 L414.2 337.7 L417.3 337.6 L420.3 337.3 L423.3 336.9 L426.3 336.3 L429.3 335.6 L433.8 334.9 L433.8 328.8Z" fill="#f9271a"/>
<path d="M578.4 328.8 L578.4 335.5 L582.9 336.2 L585.9 336.7 L588.9 337 L591.9 337.1 L594.9 337.5 L597.9 338.2 L600.9 338.8 L604 339.1 L607 339.2 L610 339.2 L613 339.3 L616 339.4 L619 339.5 L622 339.6 L625 339.6 L628 339.7 L631.1 339.7 L634.1 339.6 L637.1 339.6 L640.1 339.5 L643.1 339.5 L646.1 339.4 L649.1 339.4 L652.1 339.4 L655.1 339.4 L658.2 339.3 L661.2 339.3 L664.2 339.3 L667.2 339.3 L670.2 339.3 L673.2 339.3 L676.2 339.3 L679.2 339.3 L682.2 339.3 L685.3 339.3 L688.3 339.3 L691.3 339.3 L694.3 339.3 L697.3 339.3 L700.3 339.3 L703.3 339.3 L706.3 339.2 L709.4 339.2 L712.4 339.2 L715.4 339.2 L718.4 339.2 L721.4 339.2 L724.4 339.2 L727.4 339.2 L730.4 339.1 L733.4 339.1 L736.5 339.1 L739.5 339.1 L742.5 339.1 L745.5 339.1 L748.5 339.1 L751.5 339.1 L754.5 339.1 L757.5 339.1 L760.5 339.1 L763.6 339.1 L766.6 339 L769.6 339 L772.6 339 L775.6 339 L781.6 339 L781.6 328.8Z" fill="#f9271a"/>
<path d="M77 328.8 L77 336.9 L83 336.9 L86 336.9 L89 336.9 L92 336.9 L95 336.9 L98.1 336.9 L101.1 336.9 L104.1 336.9 L107.1 336.9 L110.1 336.9 L113.1 336.9 L116.1 336.9 L119.1 336.9 L122.1 336.9 L125.2 336.9 L128.2 336.9 L131.2 336.9 L134.2 336.9 L137.2 336.9 L140.2 336.9 L143.2 336.9 L146.2 336.9 L149.2 336.9 L152.3 336.9 L155.3 336.9 L158.3 336.9 L161.3 336.9 L164.3 336.9 L167.3 336.9 L170.3 336.9 L173.3 336.9 L176.4 336.9 L179.4 336.9 L182.4 336.9 L185.4 336.9 L188.4 336.9 L191.4 336.9 L194.4 336.9 L197.4 336.9 L200.4 336.9 L203.5 336.9 L206.5 336.9 L209.5 336.9 L212.5 336.9 L215.5 336.9 L218.5 336.9 L221.5 336.9 L224.5 336.9 L227.5 336.9 L230.6 336.9 L233.6 336.9 L236.6 336.9 L239.6 336.9 L242.6 336.9 L245.6 336.9 L248.6 336.9 L251.6 336.9 L254.6 336.9 L257.7 336.9 L260.7 336.9 L263.7 336.9 L266.7 336.9 L269.7 336.9 L272.7 336.9 L275.7 336.9 L278.7 336.9 L281.7 336.9 L284.8 336.9 L287.8 336.9 L290.8 336.9 L293.8 336.9 L296.8 336.9 L299.8 336.9 L302.8 336.9 L305.8 336.9 L308.8 336.9 L311.9 336.9 L314.9 336.9 L317.9 336.9 L320.9 336.9 L323.9 336.9 L326.9 336.9 L329.9 336.9 L332.9 336.9 L335.9 336.9 L339 336.9 L342 336.9 L345 336.9 L348 336.9 L351 336.9 L354 336.9 L357 336.9 L360 336.9 L363.1 336.9 L366.1 336.9 L369.1 336.9 L372.1 336.9 L375.1 336.9 L378.1 336.9 L381.1 336.9 L384.1 336.9 L387.1 336.9 L390.2 336.9 L393.2 336.9 L396.2 336.9 L399.2 336.9 L402.2 336.9 L405.2 336.9 L408.2 336.9 L411.2 336.3 L414.2 336.1 L417.3 336 L420.3 335.6 L424.8 335.1 L424.8 328.8Z" fill="#8e2218"/>
<path d="M584.4 328.8 L584.4 335.3 L588.9 335.6 L591.9 335.7 L594.9 336.2 L597.9 336.9 L600.9 336.9 L604 336.9 L607 336.9 L610 336.9 L613 336.9 L616 336.9 L619 336.9 L622 336.9 L625 336.9 L628 336.9 L631.1 336.9 L634.1 336.9 L637.1 336.9 L640.1 336.9 L643.1 336.9 L646.1 336.9 L649.1 336.9 L652.1 336.9 L655.1 336.9 L658.2 336.9 L661.2 336.9 L664.2 336.9 L667.2 336.9 L670.2 336.9 L673.2 336.9 L676.2 336.9 L679.2 336.9 L682.2 336.9 L685.3 336.9 L688.3 336.9 L691.3 336.9 L694.3 336.9 L697.3 336.9 L700.3 336.9 L703.3 336.9 L706.3 336.9 L709.4 336.9 L712.4 336.9 L715.4 336.9 L718.4 336.9 L721.4 336.9 L724.4 336.9 L727.4 336.9 L730.4 336.9 L733.4 336.9 L736.5 336.9 L739.5 336.9 L742.5 336.9 L745.5 336.9 L748.5 336.9 L751.5 336.9 L754.5 336.9 L757.5 336.9 L760.5 336.9 L763.6 336.9 L766.6 336.9 L769.6 336.9 L772.6 336.9 L775.6 336.9 L781.6 336.9 L781.6 328.8Z" fill="#8e2218"/>
</g></g>
<rect x="83" y="334.8" width="692.6" height="212.2" fill="none" stroke="#080820" stroke-opacity="0.62" stroke-width="1.6"/>
<text x="82.4" y="575.4" class="tk" text-anchor="middle">0</text>
<text x="169" y="575.4" class="tk" text-anchor="middle">3</text>
<text x="255.5" y="575.4" class="tk" text-anchor="middle">6</text>
<text x="342.1" y="575.4" class="tk" text-anchor="middle">9</text>
<text x="428.7" y="575.4" class="tk" text-anchor="middle">12</text>
<text x="515.3" y="575.4" class="tk" text-anchor="middle">15</text>
<text x="601.9" y="575.4" class="tk" text-anchor="middle">18</text>
<text x="688.4" y="575.4" class="tk" text-anchor="middle">21</text>
<text x="775" y="575.4" class="tk" text-anchor="middle">24</text>
<text x="72.7" y="341.6" class="tk" text-anchor="end">0</text>
<text x="72.7" y="391.5" class="tk" text-anchor="end">20</text>
<text x="72.7" y="441.5" class="tk" text-anchor="end">40</text>
<text x="72.7" y="491.4" class="tk" text-anchor="end">60</text>
<text x="72.7" y="541.3" class="tk" text-anchor="end">80</text>
<path d="M83 547V556M83 334.8V326.3M169.6 547V556M169.6 334.8V326.3M256.1 547V556M256.1 334.8V326.3M342.7 547V556M342.7 334.8V326.3M429.3 547V556M429.3 334.8V326.3M515.9 547V556M515.9 334.8V326.3M602.5 547V556M602.5 334.8V326.3M689 547V556M689 334.8V326.3M775.6 547V556M775.6 334.8V326.3M83 334.8H75.5M83 384.7H75.5M83 434.7H75.5M83 484.6H75.5M83 534.5H75.5M775.6 334.8H783.1M775.6 459.6H783.1" stroke="#444" stroke-width="1.3" fill="none"/>
<text x="117.6" y="525.3" font-size="30.6" class="b" textLength="89.4" lengthAdjust="spacingAndGlyphs" fill="#fff">OP27</text>
<g filter="url(#bl2)">
<rect x="803.4" y="334.9" width="26.6" height="16.8" fill="#f9271a"/>
<rect x="803.4" y="351.3" width="26.6" height="16.8" fill="#fb6a20"/>
<rect x="803.4" y="367.7" width="26.6" height="16.8" fill="#fda324"/>
<rect x="803.4" y="384.1" width="26.6" height="16.8" fill="#fdd626"/>
<rect x="803.4" y="400.5" width="26.6" height="16.8" fill="#e2f32c"/>
<rect x="803.4" y="416.9" width="26.6" height="16.8" fill="#96f16c"/>
<rect x="803.4" y="433.3" width="26.6" height="16.8" fill="#52f0ae"/>
<rect x="803.4" y="449.8" width="26.6" height="16.8" fill="#17ecec"/>
<rect x="803.4" y="466.2" width="26.6" height="16.8" fill="#22b4f6"/>
<rect x="803.4" y="482.6" width="26.6" height="16.8" fill="#2e8cfb"/>
<rect x="803.4" y="499" width="26.6" height="16.8" fill="#4552f7"/>
<rect x="803.4" y="515.4" width="26.6" height="16.8" fill="#5612f8"/>
<rect x="803.4" y="531.8" width="26.6" height="16.8" fill="#5612f8"/>
</g>
<rect x="803.4" y="334.9" width="26.6" height="213.3" fill="none" stroke="#0a0a30" stroke-opacity="0.6" stroke-width="1.4"/>
<text x="833" y="358.4" class="tk">50</text>
<text x="833" y="440.3" class="tk">25</text>
<text x="833" y="522.3" class="tk">0</text>
<clipPath id="cp2"><rect x="83" y="602.8" width="692.6" height="212.2"/></clipPath>
<g clip-path="url(#cp2)"><g filter="url(#bl)">
<rect x="78" y="597.8" width="702.6" height="222.2" fill="#4552f7"/>
<path d="M77 616 C85.3 612.3 101.4 615.7 126.6 615.7 C151.7 615.7 202.5 615.6 227.8 615.9 C253.1 616.3 262.4 616.9 278.4 618 C294.4 619.1 311.5 620.8 324 622.5 C336.4 624.2 352.2 626.4 353.1 628.1 C353.9 629.7 341.5 631.2 329 632.4 C316.6 633.6 295.3 634.5 278.4 635.2 C261.5 635.9 253.1 636 227.8 636.4 C202.5 636.9 151.7 637.5 126.6 637.7 C101.4 637.9 85.3 641.3 77 637.7 C68.7 634.1 68.7 619.7 77 616Z" fill="#5612f8"/>
<path d="M657.1 625.8 C657.1 623.9 673.6 621.3 682.5 619.8 C691.5 618.4 701.4 617.6 710.8 617 C720.2 616.4 726.8 616.4 739 616.2 C751.3 616 776.7 612.5 784.2 615.9 C791.8 619.3 794.1 633.3 784.2 636.5 C774.3 639.7 741.8 636 724.9 635.1 C707.9 634.2 693.8 632.7 682.5 631.1 C671.2 629.6 657.1 627.7 657.1 625.8Z" fill="#5612f8"/>
<path d="M291.1 618 C301.6 620.8 336.2 621.2 354.3 622.5 C372.5 623.9 386.6 624.9 399.9 626.1 C413.2 627.3 421.6 628.7 433.9 629.7 C446.2 630.8 473.5 632.3 473.5 632.3 C473.5 632.3 450.6 634.5 442.4 635.9 C434.1 637.4 424 640.7 424 640.7 C424 640.7 425.9 643.2 428.3 644.4 C430.6 645.6 438.1 647.8 438.1 647.8 C438.1 647.8 425.2 651.9 417 654 C408.7 656.1 392.8 658.9 388.7 660.5 C384.6 662.1 392.3 663.5 392.3 663.5 C392.3 663.5 402.2 667.5 408.5 669.8 C414.7 672.2 429.7 677.5 429.7 677.5 C429.7 677.5 417.7 681.9 411.3 684 C404.9 686.1 391 690.1 391 690.1 C391 690.1 399.4 693.7 405.7 695.3 C411.9 696.8 417.4 698.2 428.3 699.2 C439.1 700.3 458.4 701.6 470.6 701.5 C482.9 701.4 494.9 699.9 501.7 698.7 C508.5 697.4 511 695.4 511.6 693.9 C512.2 692.3 503 691.1 505.1 689.6 C507.2 688.2 517.3 687.3 524.3 685.1 C531.3 682.9 539.4 679 546.9 676.6 C554.4 674.3 560.1 672.9 569.5 671 C578.9 669 603.4 664.8 603.4 664.8 C603.4 664.8 598.2 661.7 594.9 660 C591.6 658.2 583.6 654 583.6 654 C583.6 654 594.7 650.6 603.4 648.4 C612.1 646.2 635.9 640.7 635.9 640.7 C635.9 640.7 621.1 637.7 611.9 636.5 C602.7 635.3 590.5 634.4 580.8 633.7 C571.2 633 554 632.3 554 632.3 C554 632.3 565.5 629.1 575.2 627.5 C584.8 625.8 598.7 624 611.9 622.4 C625.1 620.8 642.5 619.3 654.3 617.9 C666 616.4 677.8 616.4 682.5 613.9 C687.2 611.4 729.6 604.5 682.5 602.6 C635.4 600.7 465.2 602.1 400 602.6 C334.8 603.1 309.2 602.7 291.1 605.3 C272.9 607.9 280.5 615.1 291.1 618Z" fill="#2e8cfb"/>
<path d="M398.6 714.2 C398.6 712.7 408.2 710.6 417 709.4 C425.7 708.2 440 707.3 450.9 707.1 C461.7 707 475.7 707.7 481.9 708.5 C488.1 709.4 489.1 710.7 488.1 712.2 C487.2 713.8 482.5 716.6 476.3 717.9 C470.1 719.2 460.7 720 450.9 720.1 C441 720.2 425.7 719.4 417 718.4 C408.2 717.4 398.6 715.7 398.6 714.2Z" fill="#2e8cfb"/>
</g><g filter="url(#bl3)">
<path d="M77 596.8 L77 616.6 L83 616.6 L86 616.6 L89 616.6 L92 616.6 L95 616.6 L98.1 616.6 L101.1 616.6 L104.1 616.6 L107.1 616.6 L110.1 616.6 L113.1 616.6 L116.1 616.6 L119.1 616.6 L122.1 616.6 L125.2 616.6 L128.2 616.6 L131.2 616.6 L134.2 616.6 L137.2 616.6 L140.2 616.6 L143.2 616.6 L146.2 616.6 L149.2 616.6 L152.3 616.6 L155.3 616.6 L158.3 616.7 L161.3 616.7 L164.3 616.7 L167.3 616.7 L170.3 616.7 L173.3 616.7 L176.4 616.7 L179.4 616.7 L182.4 616.7 L185.4 616.7 L188.4 616.7 L191.4 616.7 L194.4 616.7 L197.4 616.7 L200.4 616.7 L203.5 616.7 L206.5 616.7 L209.5 616.7 L212.5 616.7 L215.5 616.7 L218.5 616.7 L221.5 616.7 L224.5 616.7 L227.5 616.7 L230.6 616.8 L233.6 616.8 L236.6 616.8 L239.6 616.8 L242.6 616.8 L245.6 616.8 L248.6 616.8 L251.6 616.8 L254.6 616.8 L257.7 616.8 L260.7 616.8 L263.7 616.8 L266.7 616.8 L269.7 616.8 L272.7 616.8 L275.7 616.8 L278.7 616.8 L281.7 616.8 L284.8 616.8 L287.8 616.8 L290.8 616.8 L293.8 616.8 L296.8 616.8 L299.8 616.8 L302.8 616.8 L305.8 616.8 L308.8 616.9 L311.9 617 L314.9 617.1 L317.9 617.2 L320.9 617.3 L323.9 617.5 L326.9 617.6 L329.9 617.8 L332.9 618 L335.9 618.1 L339 618.3 L342 618.4 L345 618.5 L348 618.6 L351 618.7 L354 618.8 L357 618.8 L360 618.8 L363.1 618.8 L366.1 619 L369.1 619.1 L372.1 619.4 L375.1 619.6 L378.1 619.9 L381.1 620.2 L384.1 620.4 L387.1 620.6 L390.2 620.7 L393.2 620.8 L396.2 620.8 L399.2 620.9 L402.2 621.1 L405.2 621.4 L408.2 621.7 L411.2 622.1 L414.2 622.5 L417.3 623 L420.3 623.5 L423.3 624 L426.3 624.5 L429.3 625 L432.3 625.4 L435.3 625.8 L438.3 626.2 L441.3 626.5 L444.4 626.7 L447.4 626.8 L450.4 626.8 L453.4 626.8 L456.4 626.9 L459.4 627 L462.4 627.1 L465.4 627.2 L468.4 627.4 L471.5 627.5 L474.5 627.7 L477.5 627.9 L480.5 628.2 L483.5 628.4 L486.5 628.6 L489.5 628.8 L492.5 629 L495.5 629.2 L498.6 629.4 L501.6 629.5 L504.6 629.6 L507.6 629.7 L510.6 629.8 L513.6 629.8 L516.6 629.8 L519.6 629.7 L522.7 629.7 L525.7 629.5 L528.7 629.4 L531.7 629.2 L534.7 629 L537.7 628.8 L540.7 628.6 L543.7 628.4 L546.7 628.2 L549.8 628 L552.8 627.9 L555.8 627.8 L558.8 627.8 L561.8 627.8 L564.8 627.6 L567.8 627.3 L570.8 626.9 L573.8 626.3 L576.9 625.7 L579.9 625 L582.9 624.3 L585.9 623.6 L588.9 622.9 L591.9 622.3 L594.9 621.8 L597.9 621.3 L600.9 621 L604 620.8 L607 620.8 L610 620.7 L613 620.6 L616 620.4 L619 620.1 L622 619.8 L625 619.4 L628 619 L631.1 618.7 L634.1 618.3 L637.1 618 L640.1 617.7 L643.1 617.5 L646.1 617.4 L649.1 617.3 L652.1 617.3 L655.1 617.2 L658.2 617.1 L661.2 617 L664.2 616.8 L667.2 616.6 L670.2 616.3 L673.2 616.1 L676.2 615.9 L679.2 615.7 L682.2 615.6 L685.3 615.5 L688.3 615.4 L691.3 615.4 L694.3 615.4 L697.3 615.4 L700.3 615.4 L703.3 615.4 L706.3 615.4 L709.4 615.4 L712.4 615.4 L715.4 615.4 L718.4 615.4 L721.4 615.3 L724.4 615.3 L727.4 615.3 L730.4 615.3 L733.4 615.3 L736.5 615.3 L739.5 615.3 L742.5 615.3 L745.5 615.3 L748.5 615.2 L751.5 615.2 L754.5 615.2 L757.5 615.2 L760.5 615.2 L763.6 615.2 L766.6 615.2 L769.6 615.2 L772.6 615.2 L775.6 615.2 L781.6 615.2 L781.6 596.8Z" fill="#2e8cfb"/>
<path d="M77 596.8 L77 614.6 L83 614.6 L86 614.6 L89 614.6 L92 614.6 L95 614.6 L98.1 614.6 L101.1 614.6 L104.1 614.6 L107.1 614.6 L110.1 614.6 L113.1 614.6 L116.1 614.6 L119.1 614.6 L122.1 614.6 L125.2 614.6 L128.2 614.6 L131.2 614.6 L134.2 614.6 L137.2 614.6 L140.2 614.6 L143.2 614.6 L146.2 614.6 L149.2 614.6 L152.3 614.6 L155.3 614.6 L158.3 614.6 L161.3 614.7 L164.3 614.7 L167.3 614.7 L170.3 614.7 L173.3 614.7 L176.4 614.7 L179.4 614.7 L182.4 614.7 L185.4 614.7 L188.4 614.7 L191.4 614.7 L194.4 614.7 L197.4 614.7 L200.4 614.7 L203.5 614.7 L206.5 614.7 L209.5 614.7 L212.5 614.7 L215.5 614.7 L218.5 614.7 L221.5 614.7 L224.5 614.7 L227.5 614.7 L230.6 614.7 L233.6 614.7 L236.6 614.7 L239.6 614.7 L242.6 614.7 L245.6 614.7 L248.6 614.8 L251.6 614.8 L254.6 614.8 L257.7 614.8 L260.7 614.8 L263.7 614.8 L266.7 614.8 L269.7 614.8 L272.7 614.8 L275.7 614.8 L278.7 614.8 L281.7 614.8 L284.8 614.8 L287.8 614.8 L290.8 614.8 L293.8 614.8 L296.8 614.8 L299.8 614.8 L302.8 614.8 L305.8 614.8 L308.8 614.8 L311.9 614.9 L314.9 615 L317.9 615.1 L320.9 615.2 L323.9 615.3 L326.9 615.4 L329.9 615.5 L332.9 615.6 L335.9 615.7 L339 615.8 L342 615.9 L345 616 L348 616.1 L351 616.2 L354 616.2 L357 616.2 L360 616.2 L363.1 616.2 L366.1 616.2 L369.1 616.3 L372.1 616.5 L375.1 616.6 L378.1 616.8 L381.1 617 L384.1 617.2 L387.1 617.4 L390.2 617.4 L393.2 617.5 L396.2 617.4 L399.2 617.4 L402.2 617.5 L405.2 617.6 L408.2 617.8 L411.2 618 L414.2 618.3 L417.3 618.7 L420.3 619.1 L423.3 619.4 L426.3 619.8 L429.3 620.2 L432.3 620.6 L435.3 620.9 L438.3 621.1 L441.3 621.4 L444.4 621.5 L447.4 621.6 L450.4 621.6 L453.4 621.6 L456.4 621.7 L459.4 621.8 L462.4 621.8 L465.4 621.9 L468.4 622.1 L471.5 622.2 L474.5 622.4 L477.5 622.5 L480.5 622.7 L483.5 622.9 L486.5 623 L489.5 623.2 L492.5 623.4 L495.5 623.5 L498.6 623.6 L501.6 623.7 L504.6 623.8 L507.6 623.9 L510.6 624 L513.6 624 L516.6 624 L519.6 623.9 L522.7 623.9 L525.7 623.8 L528.7 623.7 L531.7 623.5 L534.7 623.4 L537.7 623.2 L540.7 623 L543.7 622.9 L546.7 622.7 L549.8 622.6 L552.8 622.5 L555.8 622.5 L558.8 622.4 L561.8 622.4 L564.8 622.3 L567.8 622.2 L570.8 621.9 L573.8 621.6 L576.9 621.1 L579.9 620.7 L582.9 620.1 L585.9 619.6 L588.9 619.1 L591.9 618.6 L594.9 618.1 L597.9 617.8 L600.9 617.6 L604 617.6 L607 617.6 L610 617.6 L613 617.5 L616 617.4 L619 617.2 L622 616.9 L625 616.6 L628 616.3 L631.1 616 L634.1 615.8 L637.1 615.6 L640.1 615.4 L643.1 615.2 L646.1 615.1 L649.1 615 L652.1 615 L655.1 615 L658.2 614.9 L661.2 614.8 L664.2 614.6 L667.2 614.5 L670.2 614.3 L673.2 614.1 L676.2 614 L679.2 613.8 L682.2 613.7 L685.3 613.6 L688.3 613.6 L691.3 613.6 L694.3 613.6 L697.3 613.6 L700.3 613.6 L703.3 613.6 L706.3 613.6 L709.4 613.6 L712.4 613.5 L715.4 613.5 L718.4 613.5 L721.4 613.5 L724.4 613.5 L727.4 613.5 L730.4 613.5 L733.4 613.5 L736.5 613.5 L739.5 613.5 L742.5 613.5 L745.5 613.5 L748.5 613.4 L751.5 613.4 L754.5 613.4 L757.5 613.4 L760.5 613.4 L763.6 613.4 L766.6 613.4 L769.6 613.4 L772.6 613.4 L775.6 613.4 L781.6 613.4 L781.6 596.8Z" fill="#22b4f6"/>
<path d="M77 596.8 L77 613.7 L83 613.7 L86 613.7 L89 613.7 L92 613.7 L95 613.7 L98.1 613.7 L101.1 613.7 L104.1 613.7 L107.1 613.7 L110.1 613.7 L113.1 613.7 L116.1 613.7 L119.1 613.7 L122.1 613.7 L125.2 613.7 L128.2 613.7 L131.2 613.7 L134.2 613.7 L137.2 613.7 L140.2 613.7 L143.2 613.7 L146.2 613.7 L149.2 613.7 L152.3 613.7 L155.3 613.7 L158.3 613.8 L161.3 613.8 L164.3 613.8 L167.3 613.8 L170.3 613.8 L173.3 613.8 L176.4 613.8 L179.4 613.8 L182.4 613.8 L185.4 613.8 L188.4 613.8 L191.4 613.8 L194.4 613.8 L197.4 613.8 L200.4 613.8 L203.5 613.8 L206.5 613.8 L209.5 613.8 L212.5 613.8 L215.5 613.8 L218.5 613.8 L221.5 613.8 L224.5 613.8 L227.5 613.8 L230.6 613.8 L233.6 613.8 L236.6 613.8 L239.6 613.8 L242.6 613.8 L245.6 613.8 L248.6 613.8 L251.6 613.8 L254.6 613.8 L257.7 613.9 L260.7 613.9 L263.7 613.9 L266.7 613.9 L269.7 613.9 L272.7 613.9 L275.7 613.9 L278.7 613.9 L281.7 613.9 L284.8 613.9 L287.8 613.9 L290.8 613.9 L293.8 613.9 L296.8 613.9 L299.8 613.9 L302.8 613.9 L305.8 613.9 L308.8 613.9 L311.9 614 L314.9 614 L317.9 614.1 L320.9 614.1 L323.9 614.2 L326.9 614.3 L329.9 614.4 L332.9 614.5 L335.9 614.5 L339 614.6 L342 614.7 L345 614.8 L348 614.9 L351 614.9 L354 614.9 L357 614.9 L360 614.8 L363.1 614.8 L366.1 614.8 L369.1 614.8 L372.1 614.9 L375.1 615 L378.1 615.1 L381.1 615.3 L384.1 615.4 L387.1 615.5 L390.2 615.6 L393.2 615.5 L396.2 615.4 L399.2 615.4 L402.2 615.3 L405.2 615.3 L408.2 615.4 L411.2 615.5 L414.2 615.7 L417.3 615.9 L420.3 616.2 L423.3 616.6 L426.3 616.9 L429.3 617.2 L432.3 617.5 L435.3 617.8 L438.3 618 L441.3 618.2 L444.4 618.3 L447.4 618.4 L450.4 618.4 L453.4 618.4 L456.4 618.4 L459.4 618.5 L462.4 618.6 L465.4 618.6 L468.4 618.7 L471.5 618.9 L474.5 619 L477.5 619.1 L480.5 619.3 L483.5 619.4 L486.5 619.5 L489.5 619.7 L492.5 619.8 L495.5 619.9 L498.6 620 L501.6 620.1 L504.6 620.2 L507.6 620.3 L510.6 620.3 L513.6 620.3 L516.6 620.3 L519.6 620.3 L522.7 620.2 L525.7 620.2 L528.7 620.1 L531.7 619.9 L534.7 619.8 L537.7 619.7 L540.7 619.5 L543.7 619.4 L546.7 619.3 L549.8 619.2 L552.8 619.1 L555.8 619.1 L558.8 619 L561.8 619 L564.8 619 L567.8 619 L570.8 618.8 L573.8 618.7 L576.9 618.4 L579.9 618.1 L582.9 617.7 L585.9 617.2 L588.9 616.8 L591.9 616.4 L594.9 616.1 L597.9 615.8 L600.9 615.7 L604 615.7 L607 615.8 L610 615.9 L613 615.9 L616 615.8 L619 615.6 L622 615.4 L625 615.1 L628 614.9 L631.1 614.7 L634.1 614.5 L637.1 614.3 L640.1 614.2 L643.1 614.1 L646.1 614 L649.1 614 L652.1 613.9 L655.1 613.9 L658.2 613.8 L661.2 613.8 L664.2 613.6 L667.2 613.5 L670.2 613.4 L673.2 613.2 L676.2 613.1 L679.2 613 L682.2 612.9 L685.3 612.8 L688.3 612.8 L691.3 612.8 L694.3 612.8 L697.3 612.8 L700.3 612.8 L703.3 612.8 L706.3 612.7 L709.4 612.7 L712.4 612.7 L715.4 612.7 L718.4 612.7 L721.4 612.7 L724.4 612.7 L727.4 612.7 L730.4 612.7 L733.4 612.7 L736.5 612.7 L739.5 612.7 L742.5 612.7 L745.5 612.6 L748.5 612.6 L751.5 612.6 L754.5 612.6 L757.5 612.6 L760.5 612.6 L763.6 612.6 L766.6 612.6 L769.6 612.6 L772.6 612.6 L775.6 612.6 L781.6 612.6 L781.6 596.8Z" fill="#17ecec"/>
<path d="M77 596.8 L77 612.8 L83 612.8 L86 612.8 L89 612.8 L92 612.8 L95 612.8 L98.1 612.8 L101.1 612.8 L104.1 612.8 L107.1 612.8 L110.1 612.8 L113.1 612.8 L116.1 612.8 L119.1 612.8 L122.1 612.8 L125.2 612.8 L128.2 612.8 L131.2 612.8 L134.2 612.8 L137.2 612.8 L140.2 612.8 L143.2 612.8 L146.2 612.8 L149.2 612.8 L152.3 612.8 L155.3 612.8 L158.3 612.9 L161.3 612.9 L164.3 612.9 L167.3 612.9 L170.3 612.9 L173.3 612.9 L176.4 612.9 L179.4 612.9 L182.4 612.9 L185.4 612.9 L188.4 612.9 L191.4 612.9 L194.4 612.9 L197.4 612.9 L200.4 612.9 L203.5 612.9 L206.5 612.9 L209.5 612.9 L212.5 612.9 L215.5 612.9 L218.5 612.9 L221.5 612.9 L224.5 612.9 L227.5 612.9 L230.6 612.9 L233.6 612.9 L236.6 612.9 L239.6 612.9 L242.6 612.9 L245.6 612.9 L248.6 612.9 L251.6 612.9 L254.6 612.9 L257.7 612.9 L260.7 612.9 L263.7 612.9 L266.7 613 L269.7 613 L272.7 613 L275.7 613 L278.7 613 L281.7 613 L284.8 613 L287.8 613 L290.8 613 L293.8 613 L296.8 613 L299.8 613 L302.8 613 L305.8 613 L308.8 613 L311.9 613 L314.9 613 L317.9 613.1 L320.9 613.1 L323.9 613.2 L326.9 613.2 L329.9 613.3 L332.9 613.3 L335.9 613.4 L339 613.4 L342 613.5 L345 613.6 L348 613.6 L351 613.7 L354 613.6 L357 613.6 L360 613.5 L363.1 613.4 L366.1 613.3 L369.1 613.3 L372.1 613.3 L375.1 613.3 L378.1 613.4 L381.1 613.5 L384.1 613.6 L387.1 613.7 L390.2 613.7 L393.2 613.6 L396.2 613.5 L399.2 613.3 L402.2 613.2 L405.2 613.1 L408.2 613 L411.2 613 L414.2 613 L417.3 613.2 L420.3 613.4 L423.3 613.7 L426.3 614 L429.3 614.2 L432.3 614.4 L435.3 614.6 L438.3 614.8 L441.3 615 L444.4 615.1 L447.4 615.1 L450.4 615.1 L453.4 615.1 L456.4 615.2 L459.4 615.2 L462.4 615.3 L465.4 615.3 L468.4 615.4 L471.5 615.5 L474.5 615.6 L477.5 615.7 L480.5 615.8 L483.5 615.9 L486.5 616.1 L489.5 616.2 L492.5 616.3 L495.5 616.4 L498.6 616.5 L501.6 616.5 L504.6 616.6 L507.6 616.6 L510.6 616.7 L513.6 616.7 L516.6 616.7 L519.6 616.7 L522.7 616.6 L525.7 616.5 L528.7 616.5 L531.7 616.4 L534.7 616.3 L537.7 616.2 L540.7 616.1 L543.7 616 L546.7 615.9 L549.8 615.8 L552.8 615.7 L555.8 615.7 L558.8 615.7 L561.8 615.7 L564.8 615.7 L567.8 615.8 L570.8 615.8 L573.8 615.7 L576.9 615.6 L579.9 615.5 L582.9 615.2 L585.9 614.9 L588.9 614.5 L591.9 614.2 L594.9 614 L597.9 613.8 L600.9 613.8 L604 613.9 L607 614.1 L610 614.2 L613 614.2 L616 614.2 L619 614 L622 613.8 L625 613.7 L628 613.5 L631.1 613.3 L634.1 613.2 L637.1 613.1 L640.1 613 L643.1 612.9 L646.1 612.9 L649.1 612.9 L652.1 612.9 L655.1 612.8 L658.2 612.8 L661.2 612.7 L664.2 612.6 L667.2 612.5 L670.2 612.4 L673.2 612.3 L676.2 612.2 L679.2 612.1 L682.2 612 L685.3 612 L688.3 611.9 L691.3 611.9 L694.3 611.9 L697.3 611.9 L700.3 611.9 L703.3 611.9 L706.3 611.9 L709.4 611.9 L712.4 611.9 L715.4 611.9 L718.4 611.9 L721.4 611.9 L724.4 611.9 L727.4 611.9 L730.4 611.9 L733.4 611.9 L736.5 611.9 L739.5 611.9 L742.5 611.8 L745.5 611.8 L748.5 611.8 L751.5 611.8 L754.5 611.8 L757.5 611.8 L760.5 611.8 L763.6 611.8 L766.6 611.8 L769.6 611.8 L772.6 611.8 L775.6 611.8 L781.6 611.8 L781.6 596.8Z" fill="#52f0ae"/>
<path d="M77 596.8 L77 611.9 L83 611.9 L86 611.9 L89 611.9 L92 611.9 L95 611.9 L98.1 611.9 L101.1 611.9 L104.1 611.9 L107.1 611.9 L110.1 611.9 L113.1 611.9 L116.1 611.9 L119.1 611.9 L122.1 611.9 L125.2 611.9 L128.2 611.9 L131.2 611.9 L134.2 611.9 L137.2 611.9 L140.2 611.9 L143.2 611.9 L146.2 611.9 L149.2 611.9 L152.3 612 L155.3 612 L158.3 612 L161.3 612 L164.3 612 L167.3 612 L170.3 612 L173.3 612 L176.4 612 L179.4 612 L182.4 612 L185.4 612 L188.4 612 L191.4 612 L194.4 612 L197.4 612 L200.4 612 L203.5 612 L206.5 612 L209.5 612 L212.5 612 L215.5 612 L218.5 612 L221.5 612 L224.5 612 L227.5 612 L230.6 612 L233.6 612 L236.6 612 L239.6 612 L242.6 612 L245.6 612 L248.6 612 L251.6 612 L254.6 612 L257.7 612 L260.7 612 L263.7 612 L266.7 612 L269.7 612 L272.7 612 L275.7 612 L278.7 612 L281.7 612 L284.8 612.1 L287.8 612.1 L290.8 612.1 L293.8 612.1 L296.8 612.1 L299.8 612.1 L302.8 612.1 L305.8 612.1 L308.8 612.1 L311.9 612.1 L314.9 612.1 L317.9 612.1 L320.9 612.1 L323.9 612.1 L326.9 612.1 L329.9 612.1 L332.9 612.2 L335.9 612.2 L339 612.2 L342 612.3 L345 612.4 L348 612.4 L351 612.4 L354 612.4 L357 612.3 L360 612.1 L363.1 612 L366.1 611.9 L369.1 611.8 L372.1 611.7 L375.1 611.7 L378.1 611.7 L381.1 611.7 L384.1 611.8 L387.1 611.9 L390.2 611.9 L393.2 611.7 L396.2 611.5 L399.2 611.3 L402.2 611 L405.2 610.8 L408.2 610.6 L411.2 610.4 L414.2 610.4 L417.3 610.5 L420.3 610.6 L423.3 610.8 L426.3 611 L429.3 611.2 L432.3 611.4 L435.3 611.5 L438.3 611.7 L441.3 611.8 L444.4 611.8 L447.4 611.9 L450.4 611.9 L453.4 611.9 L456.4 611.9 L459.4 611.9 L462.4 612 L465.4 612 L468.4 612.1 L471.5 612.2 L474.5 612.2 L477.5 612.3 L480.5 612.4 L483.5 612.5 L486.5 612.6 L489.5 612.6 L492.5 612.7 L495.5 612.8 L498.6 612.9 L501.6 612.9 L504.6 613 L507.6 613 L510.6 613 L513.6 613 L516.6 613 L519.6 613 L522.7 613 L525.7 612.9 L528.7 612.9 L531.7 612.8 L534.7 612.7 L537.7 612.6 L540.7 612.6 L543.7 612.5 L546.7 612.4 L549.8 612.4 L552.8 612.3 L555.8 612.3 L558.8 612.3 L561.8 612.3 L564.8 612.4 L567.8 612.6 L570.8 612.7 L573.8 612.8 L576.9 612.9 L579.9 612.9 L582.9 612.7 L585.9 612.5 L588.9 612.3 L591.9 612 L594.9 611.9 L597.9 611.8 L600.9 611.9 L604 612.1 L607 612.3 L610 612.5 L613 612.6 L616 612.6 L619 612.5 L622 612.3 L625 612.2 L628 612.1 L631.1 612 L634.1 611.9 L637.1 611.9 L640.1 611.8 L643.1 611.8 L646.1 611.8 L649.1 611.8 L652.1 611.8 L655.1 611.7 L658.2 611.7 L661.2 611.7 L664.2 611.6 L667.2 611.6 L670.2 611.5 L673.2 611.4 L676.2 611.3 L679.2 611.3 L682.2 611.2 L685.3 611.2 L688.3 611.1 L691.3 611.1 L694.3 611.1 L697.3 611.1 L700.3 611.1 L703.3 611.1 L706.3 611.1 L709.4 611.1 L712.4 611.1 L715.4 611.1 L718.4 611.1 L721.4 611.1 L724.4 611.1 L727.4 611.1 L730.4 611.1 L733.4 611.1 L736.5 611.1 L739.5 611 L742.5 611 L745.5 611 L748.5 611 L751.5 611 L754.5 611 L757.5 611 L760.5 611 L763.6 611 L766.6 611 L769.6 611 L772.6 611 L775.6 611 L781.6 611 L781.6 596.8Z" fill="#96f16c"/>
<path d="M77 596.8 L77 611 L83 611 L86 611 L89 611 L92 611 L95 611 L98.1 611 L101.1 611 L104.1 611 L107.1 611 L110.1 611 L113.1 611 L116.1 611 L119.1 611 L122.1 611 L125.2 611 L128.2 611 L131.2 611 L134.2 611 L137.2 611 L140.2 611 L143.2 611 L146.2 611 L149.2 611.1 L152.3 611.1 L155.3 611.1 L158.3 611.1 L161.3 611.1 L164.3 611.1 L167.3 611.1 L170.3 611.1 L173.3 611.1 L176.4 611.1 L179.4 611.1 L182.4 611.1 L185.4 611.1 L188.4 611.1 L191.4 611.1 L194.4 611.1 L197.4 611.1 L200.4 611.1 L203.5 611.1 L206.5 611.1 L209.5 611.1 L212.5 611.1 L215.5 611.1 L218.5 611.1 L221.5 611.1 L224.5 611.1 L227.5 611.1 L230.6 611.1 L233.6 611.1 L236.6 611.1 L239.6 611.1 L242.6 611.1 L245.6 611.1 L248.6 611.1 L251.6 611.1 L254.6 611.1 L257.7 611.1 L260.7 611.1 L263.7 611.1 L266.7 611.1 L269.7 611.1 L272.7 611.1 L275.7 611.1 L278.7 611.1 L281.7 611.1 L284.8 611.1 L287.8 611.1 L290.8 611.1 L293.8 611.1 L296.8 611.1 L299.8 611.1 L302.8 611.1 L305.8 611.1 L308.8 611.1 L311.9 611.1 L314.9 611.1 L317.9 611.1 L320.9 611.1 L323.9 611.1 L326.9 611 L329.9 611 L332.9 611 L335.9 611 L339 611 L342 611.1 L345 611.1 L348 611.2 L351 611.1 L354 611.1 L357 611 L360 610.8 L363.1 610.6 L366.1 610.4 L369.1 610.3 L372.1 610.2 L375.1 610 L378.1 610 L381.1 610 L384.1 610 L387.1 610.1 L390.2 610 L393.2 609.8 L396.2 609.6 L399.2 609.2 L402.2 608.9 L405.2 608.5 L408.2 608.2 L411.2 607.9 L414.2 607.7 L417.3 607.7 L420.3 607.8 L423.3 608 L426.3 608.1 L429.3 608.2 L432.3 608.3 L435.3 608.4 L438.3 608.5 L441.3 608.6 L444.4 608.6 L447.4 608.6 L450.4 608.6 L453.4 608.6 L456.4 608.7 L459.4 608.7 L462.4 608.7 L465.4 608.7 L468.4 608.8 L471.5 608.8 L474.5 608.9 L477.5 608.9 L480.5 609 L483.5 609 L486.5 609.1 L489.5 609.1 L492.5 609.2 L495.5 609.2 L498.6 609.3 L501.6 609.3 L504.6 609.3 L507.6 609.4 L510.6 609.4 L513.6 609.4 L516.6 609.4 L519.6 609.4 L522.7 609.3 L525.7 609.3 L528.7 609.3 L531.7 609.2 L534.7 609.2 L537.7 609.1 L540.7 609.1 L543.7 609 L546.7 609 L549.8 608.9 L552.8 608.9 L555.8 608.9 L558.8 608.9 L561.8 609 L564.8 609.1 L567.8 609.4 L570.8 609.7 L573.8 609.9 L576.9 610.1 L579.9 610.2 L582.9 610.3 L585.9 610.2 L588.9 610 L591.9 609.8 L594.9 609.8 L597.9 609.8 L600.9 610 L604 610.3 L607 610.6 L610 610.8 L613 610.9 L616 611 L619 610.9 L622 610.8 L625 610.7 L628 610.7 L631.1 610.6 L634.1 610.6 L637.1 610.7 L640.1 610.7 L643.1 610.7 L646.1 610.7 L649.1 610.7 L652.1 610.7 L655.1 610.7 L658.2 610.7 L661.2 610.6 L664.2 610.6 L667.2 610.6 L670.2 610.5 L673.2 610.5 L676.2 610.4 L679.2 610.4 L682.2 610.4 L685.3 610.3 L688.3 610.3 L691.3 610.3 L694.3 610.3 L697.3 610.3 L700.3 610.3 L703.3 610.3 L706.3 610.3 L709.4 610.3 L712.4 610.3 L715.4 610.3 L718.4 610.3 L721.4 610.3 L724.4 610.3 L727.4 610.3 L730.4 610.3 L733.4 610.2 L736.5 610.2 L739.5 610.2 L742.5 610.2 L745.5 610.2 L748.5 610.2 L751.5 610.2 L754.5 610.2 L757.5 610.2 L760.5 610.2 L763.6 610.2 L766.6 610.2 L769.6 610.2 L772.6 610.2 L775.6 610.2 L781.6 610.2 L781.6 596.8Z" fill="#e2f32c"/>
<path d="M77 596.8 L77 610.1 L83 610.1 L86 610.1 L89 610.1 L92 610.1 L95 610.1 L98.1 610.1 L101.1 610.1 L104.1 610.1 L107.1 610.1 L110.1 610.1 L113.1 610.1 L116.1 610.1 L119.1 610.1 L122.1 610.1 L125.2 610.1 L128.2 610.1 L131.2 610.1 L134.2 610.1 L137.2 610.1 L140.2 610.1 L143.2 610.2 L146.2 610.2 L149.2 610.2 L152.3 610.2 L155.3 610.2 L158.3 610.2 L161.3 610.2 L164.3 610.2 L167.3 610.2 L170.3 610.2 L173.3 610.2 L176.4 610.2 L179.4 610.2 L182.4 610.2 L185.4 610.2 L188.4 610.2 L191.4 610.2 L194.4 610.2 L197.4 610.2 L200.4 610.2 L203.5 610.2 L206.5 610.2 L209.5 610.2 L212.5 610.2 L215.5 610.2 L218.5 610.2 L221.5 610.2 L224.5 610.2 L227.5 610.2 L230.6 610.2 L233.6 610.2 L236.6 610.2 L239.6 610.2 L242.6 610.2 L245.6 610.2 L248.6 610.2 L251.6 610.2 L254.6 610.2 L257.7 610.2 L260.7 610.2 L263.7 610.2 L266.7 610.2 L269.7 610.2 L272.7 610.2 L275.7 610.2 L278.7 610.2 L281.7 610.2 L284.8 610.2 L287.8 610.2 L290.8 610.2 L293.8 610.2 L296.8 610.2 L299.8 610.2 L302.8 610.2 L305.8 610.2 L308.8 610.2 L311.9 610.2 L314.9 610.1 L317.9 610.1 L320.9 610.1 L323.9 610 L326.9 610 L329.9 609.9 L332.9 609.9 L335.9 609.9 L339 609.9 L342 609.9 L345 609.9 L348 609.9 L351 609.9 L354 609.8 L357 609.6 L360 609.4 L363.1 609.2 L366.1 609 L369.1 608.8 L372.1 608.6 L375.1 608.4 L378.1 608.3 L381.1 608.2 L384.1 608.2 L387.1 608.2 L390.2 608.1 L393.2 607.9 L396.2 607.6 L399.2 607.2 L402.2 606.7 L405.2 606.3 L408.2 605.8 L411.2 605.4 L414.2 605.1 L417.3 605 L420.3 605 L423.3 605.1 L426.3 605.2 L429.3 605.2 L432.3 605.3 L435.3 605.3 L438.3 605.3 L441.3 605.4 L444.4 605.4 L447.4 605.4 L450.4 605.4 L453.4 605.4 L456.4 605.4 L459.4 605.4 L462.4 605.4 L465.4 605.4 L468.4 605.5 L471.5 605.5 L474.5 605.5 L477.5 605.5 L480.5 605.5 L483.5 605.6 L486.5 605.6 L489.5 605.6 L492.5 605.6 L495.5 605.7 L498.6 605.7 L501.6 605.7 L504.6 605.7 L507.6 605.7 L510.6 605.7 L513.6 605.7 L516.6 605.7 L519.6 605.7 L522.7 605.7 L525.7 605.7 L528.7 605.7 L531.7 605.7 L534.7 605.6 L537.7 605.6 L540.7 605.6 L543.7 605.6 L546.7 605.5 L549.8 605.5 L552.8 605.5 L555.8 605.5 L558.8 605.5 L561.8 605.6 L564.8 605.8 L567.8 606.2 L570.8 606.6 L573.8 607 L576.9 607.4 L579.9 607.6 L582.9 607.8 L585.9 607.8 L588.9 607.8 L591.9 607.6 L594.9 607.7 L597.9 607.8 L600.9 608.1 L604 608.4 L607 608.8 L610 609.1 L613 609.3 L616 609.4 L619 609.3 L622 609.3 L625 609.2 L628 609.2 L631.1 609.3 L634.1 609.4 L637.1 609.4 L640.1 609.5 L643.1 609.5 L646.1 609.6 L649.1 609.6 L652.1 609.6 L655.1 609.6 L658.2 609.6 L661.2 609.6 L664.2 609.6 L667.2 609.6 L670.2 609.6 L673.2 609.6 L676.2 609.6 L679.2 609.5 L682.2 609.5 L685.3 609.5 L688.3 609.5 L691.3 609.5 L694.3 609.5 L697.3 609.5 L700.3 609.5 L703.3 609.5 L706.3 609.5 L709.4 609.5 L712.4 609.5 L715.4 609.5 L718.4 609.5 L721.4 609.5 L724.4 609.5 L727.4 609.5 L730.4 609.4 L733.4 609.4 L736.5 609.4 L739.5 609.4 L742.5 609.4 L745.5 609.4 L748.5 609.4 L751.5 609.4 L754.5 609.4 L757.5 609.4 L760.5 609.4 L763.6 609.4 L766.6 609.4 L769.6 609.4 L772.6 609.4 L775.6 609.4 L781.6 609.4 L781.6 596.8Z" fill="#fdd626"/>
<path d="M77 596.8 L77 609.2 L83 609.2 L86 609.2 L89 609.2 L92 609.2 L95 609.2 L98.1 609.2 L101.1 609.2 L104.1 609.2 L107.1 609.2 L110.1 609.2 L113.1 609.2 L116.1 609.2 L119.1 609.2 L122.1 609.2 L125.2 609.2 L128.2 609.2 L131.2 609.2 L134.2 609.2 L137.2 609.3 L140.2 609.3 L143.2 609.3 L146.2 609.3 L149.2 609.3 L152.3 609.3 L155.3 609.3 L158.3 609.3 L161.3 609.3 L164.3 609.3 L167.3 609.3 L170.3 609.3 L173.3 609.3 L176.4 609.3 L179.4 609.3 L182.4 609.3 L185.4 609.3 L188.4 609.3 L191.4 609.3 L194.4 609.3 L197.4 609.3 L200.4 609.3 L203.5 609.3 L206.5 609.3 L209.5 609.3 L212.5 609.3 L215.5 609.3 L218.5 609.3 L221.5 609.3 L224.5 609.3 L227.5 609.3 L230.6 609.3 L233.6 609.3 L236.6 609.3 L239.6 609.3 L242.6 609.3 L245.6 609.3 L248.6 609.3 L251.6 609.3 L254.6 609.3 L257.7 609.3 L260.7 609.3 L263.7 609.3 L266.7 609.3 L269.7 609.3 L272.7 609.3 L275.7 609.3 L278.7 609.3 L281.7 609.3 L284.8 609.3 L287.8 609.3 L290.8 609.3 L293.8 609.3 L296.8 609.3 L299.8 609.3 L302.8 609.3 L305.8 609.3 L308.8 609.3 L311.9 609.2 L314.9 609.2 L317.9 609.1 L320.9 609 L323.9 609 L326.9 608.9 L329.9 608.8 L332.9 608.7 L335.9 608.7 L339 608.7 L342 608.7 L345 608.7 L348 608.7 L351 608.6 L354 608.5 L357 608.3 L360 608.1 L363.1 607.8 L366.1 607.5 L369.1 607.3 L372.1 607 L375.1 606.8 L378.1 606.6 L381.1 606.4 L384.1 606.4 L387.1 606.4 L390.2 606.3 L393.2 606 L396.2 605.6 L399.2 605.1 L402.2 604.6 L405.2 604 L408.2 603.4 L412.7 602.9 L412.7 596.8Z" fill="#fda324"/>
<path d="M566.3 596.8 L566.3 603 L570.8 603.6 L573.8 604.1 L576.9 604.6 L579.9 605 L582.9 605.3 L585.9 605.5 L588.9 605.5 L591.9 605.5 L594.9 605.6 L597.9 605.8 L600.9 606.2 L604 606.6 L607 607 L610 607.4 L613 607.6 L616 607.8 L619 607.8 L622 607.7 L625 607.7 L628 607.8 L631.1 607.9 L634.1 608.1 L637.1 608.2 L640.1 608.3 L643.1 608.4 L646.1 608.5 L649.1 608.5 L652.1 608.5 L655.1 608.5 L658.2 608.5 L661.2 608.6 L664.2 608.6 L667.2 608.6 L670.2 608.7 L673.2 608.7 L676.2 608.7 L679.2 608.7 L682.2 608.7 L685.3 608.7 L688.3 608.7 L691.3 608.7 L694.3 608.7 L697.3 608.7 L700.3 608.7 L703.3 608.7 L706.3 608.7 L709.4 608.7 L712.4 608.7 L715.4 608.7 L718.4 608.7 L721.4 608.6 L724.4 608.6 L727.4 608.6 L730.4 608.6 L733.4 608.6 L736.5 608.6 L739.5 608.6 L742.5 608.6 L745.5 608.6 L748.5 608.6 L751.5 608.6 L754.5 608.6 L757.5 608.6 L760.5 608.6 L763.6 608.6 L766.6 608.6 L769.6 608.6 L772.6 608.6 L775.6 608.6 L781.6 608.6 L781.6 596.8Z" fill="#fda324"/>
<path d="M77 596.8 L77 608.3 L83 608.3 L86 608.3 L89 608.3 L92 608.3 L95 608.3 L98.1 608.3 L101.1 608.3 L104.1 608.3 L107.1 608.3 L110.1 608.3 L113.1 608.3 L116.1 608.3 L119.1 608.3 L122.1 608.3 L125.2 608.4 L128.2 608.4 L131.2 608.4 L134.2 608.4 L137.2 608.4 L140.2 608.4 L143.2 608.4 L146.2 608.4 L149.2 608.4 L152.3 608.4 L155.3 608.4 L158.3 608.4 L161.3 608.4 L164.3 608.4 L167.3 608.4 L170.3 608.4 L173.3 608.4 L176.4 608.4 L179.4 608.4 L182.4 608.4 L185.4 608.4 L188.4 608.4 L191.4 608.4 L194.4 608.4 L197.4 608.4 L200.4 608.4 L203.5 608.4 L206.5 608.4 L209.5 608.4 L212.5 608.4 L215.5 608.4 L218.5 608.4 L221.5 608.4 L224.5 608.4 L227.5 608.4 L230.6 608.4 L233.6 608.4 L236.6 608.4 L239.6 608.4 L242.6 608.4 L245.6 608.4 L248.6 608.4 L251.6 608.4 L254.6 608.4 L257.7 608.4 L260.7 608.4 L263.7 608.4 L266.7 608.4 L269.7 608.4 L272.7 608.4 L275.7 608.4 L278.7 608.4 L281.7 608.4 L284.8 608.4 L287.8 608.4 L290.8 608.4 L293.8 608.4 L296.8 608.4 L299.8 608.4 L302.8 608.4 L305.8 608.4 L308.8 608.4 L311.9 608.3 L314.9 608.2 L317.9 608.1 L320.9 608 L323.9 607.9 L326.9 607.8 L329.9 607.7 L332.9 607.6 L335.9 607.5 L339 607.5 L342 607.4 L345 607.5 L348 607.5 L351 607.4 L354 607.2 L357 607 L360 606.7 L363.1 606.4 L366.1 606.1 L369.1 605.8 L372.1 605.4 L375.1 605.1 L378.1 604.9 L381.1 604.7 L384.1 604.6 L387.1 604.6 L390.2 604.4 L393.2 604.1 L396.2 603.7 L400.7 603.1 L400.7 596.8Z" fill="#fb6a20"/>
<path d="M581.4 596.8 L581.4 602.9 L585.9 603.1 L588.9 603.2 L591.9 603.3 L594.9 603.5 L597.9 603.9 L600.9 604.3 L604 604.8 L607 605.3 L610 605.7 L613 606 L616 606.2 L619 606.2 L622 606.2 L625 606.3 L628 606.4 L631.1 606.6 L634.1 606.8 L637.1 607 L640.1 607.1 L643.1 607.3 L646.1 607.4 L649.1 607.4 L652.1 607.4 L655.1 607.4 L658.2 607.5 L661.2 607.5 L664.2 607.6 L667.2 607.7 L670.2 607.7 L673.2 607.8 L676.2 607.8 L679.2 607.8 L682.2 607.8 L685.3 607.9 L688.3 607.9 L691.3 607.9 L694.3 607.9 L697.3 607.9 L700.3 607.9 L703.3 607.9 L706.3 607.9 L709.4 607.9 L712.4 607.8 L715.4 607.8 L718.4 607.8 L721.4 607.8 L724.4 607.8 L727.4 607.8 L730.4 607.8 L733.4 607.8 L736.5 607.8 L739.5 607.8 L742.5 607.8 L745.5 607.8 L748.5 607.8 L751.5 607.8 L754.5 607.8 L757.5 607.8 L760.5 607.8 L763.6 607.8 L766.6 607.8 L769.6 607.8 L772.6 607.8 L775.6 607.8 L781.6 607.8 L781.6 596.8Z" fill="#fb6a20"/>
<path d="M77 596.8 L77 607.4 L83 607.4 L86 607.4 L89 607.4 L92 607.4 L95 607.4 L98.1 607.5 L101.1 607.5 L104.1 607.5 L107.1 607.5 L110.1 607.5 L113.1 607.5 L116.1 607.5 L119.1 607.5 L122.1 607.5 L125.2 607.5 L128.2 607.5 L131.2 607.5 L134.2 607.5 L137.2 607.5 L140.2 607.5 L143.2 607.5 L146.2 607.5 L149.2 607.5 L152.3 607.5 L155.3 607.5 L158.3 607.5 L161.3 607.5 L164.3 607.5 L167.3 607.5 L170.3 607.5 L173.3 607.5 L176.4 607.5 L179.4 607.5 L182.4 607.5 L185.4 607.5 L188.4 607.5 L191.4 607.5 L194.4 607.5 L197.4 607.5 L200.4 607.5 L203.5 607.5 L206.5 607.5 L209.5 607.5 L212.5 607.5 L215.5 607.5 L218.5 607.5 L221.5 607.5 L224.5 607.5 L227.5 607.5 L230.6 607.5 L233.6 607.5 L236.6 607.5 L239.6 607.5 L242.6 607.5 L245.6 607.5 L248.6 607.5 L251.6 607.5 L254.6 607.5 L257.7 607.5 L260.7 607.5 L263.7 607.5 L266.7 607.5 L269.7 607.5 L272.7 607.5 L275.7 607.5 L278.7 607.5 L281.7 607.5 L284.8 607.5 L287.8 607.5 L290.8 607.5 L293.8 607.5 L296.8 607.5 L299.8 607.5 L302.8 607.5 L305.8 607.5 L308.8 607.4 L311.9 607.3 L314.9 607.3 L317.9 607.1 L320.9 607 L323.9 606.9 L326.9 606.7 L329.9 606.6 L332.9 606.5 L335.9 606.3 L339 606.3 L342 606.2 L345 606.2 L348 606.2 L351 606.1 L354 606 L357 605.7 L360 605.4 L363.1 605 L366.1 604.7 L369.1 604.2 L372.1 603.8 L375.1 603.5 L378.1 603.1 L381.1 602.9 L385.6 602.8 L385.6 596.8Z" fill="#f9271a"/>
<path d="M602.5 596.8 L602.5 603 L607 603.5 L610 604 L613 604.4 L616 604.6 L619 604.7 L622 604.7 L625 604.8 L628 605 L631.1 605.2 L634.1 605.5 L637.1 605.8 L640.1 606 L643.1 606.1 L646.1 606.2 L649.1 606.3 L652.1 606.3 L655.1 606.3 L658.2 606.4 L661.2 606.5 L664.2 606.6 L667.2 606.7 L670.2 606.8 L673.2 606.9 L676.2 606.9 L679.2 607 L682.2 607 L685.3 607 L688.3 607 L691.3 607 L694.3 607 L697.3 607 L700.3 607 L703.3 607 L706.3 607 L709.4 607 L712.4 607 L715.4 607 L718.4 607 L721.4 607 L724.4 607 L727.4 607 L730.4 607 L733.4 607 L736.5 607 L739.5 607 L742.5 607 L745.5 607 L748.5 607 L751.5 607 L754.5 607 L757.5 607 L760.5 607 L763.6 607 L766.6 607 L769.6 607 L772.6 607 L775.6 607 L781.6 607 L781.6 596.8Z" fill="#f9271a"/>
<path d="M77 596.8 L77 604.9 L83 604.9 L86 604.9 L89 604.9 L92 604.9 L95 604.9 L98.1 604.9 L101.1 604.9 L104.1 604.9 L107.1 604.9 L110.1 604.9 L113.1 604.9 L116.1 604.9 L119.1 604.9 L122.1 604.9 L125.2 604.9 L128.2 604.9 L131.2 604.9 L134.2 604.9 L137.2 604.9 L140.2 604.9 L143.2 604.9 L146.2 604.9 L149.2 604.9 L152.3 604.9 L155.3 604.9 L158.3 604.9 L161.3 604.9 L164.3 604.9 L167.3 604.9 L170.3 604.9 L173.3 604.9 L176.4 604.9 L179.4 604.9 L182.4 604.9 L185.4 604.9 L188.4 604.9 L191.4 604.9 L194.4 604.9 L197.4 604.9 L200.4 604.9 L203.5 604.9 L206.5 604.9 L209.5 604.9 L212.5 604.9 L215.5 604.9 L218.5 604.9 L221.5 604.9 L224.5 604.9 L227.5 604.9 L230.6 604.9 L233.6 604.9 L236.6 604.9 L239.6 604.9 L242.6 604.9 L245.6 604.9 L248.6 604.9 L251.6 604.9 L254.6 604.9 L257.7 604.9 L260.7 604.9 L263.7 604.9 L266.7 604.9 L269.7 604.9 L272.7 604.9 L275.7 604.9 L278.7 604.9 L281.7 604.9 L284.8 604.9 L287.8 604.9 L290.8 604.9 L293.8 604.9 L296.8 604.9 L299.8 604.9 L302.8 604.9 L305.8 604.9 L308.8 604.9 L311.9 604.9 L314.9 604.9 L317.9 604.9 L320.9 604.9 L323.9 604.9 L326.9 604.9 L329.9 604.9 L332.9 604.9 L335.9 604.9 L339 604.9 L342 604.9 L345 604.9 L348 604.9 L351 604.9 L354 604.7 L357 604.4 L360 604.1 L363.1 603.7 L367.6 603.2 L367.6 596.8Z" fill="#8e2218"/>
<path d="M614.5 596.8 L614.5 603 L619 603.1 L622 603.1 L625 603.3 L628 603.6 L631.1 603.9 L634.1 604.2 L637.1 604.5 L640.1 604.8 L643.1 604.9 L646.1 604.9 L649.1 604.9 L652.1 604.9 L655.1 604.9 L658.2 604.9 L661.2 604.9 L664.2 604.9 L667.2 604.9 L670.2 604.9 L673.2 604.9 L676.2 604.9 L679.2 604.9 L682.2 604.9 L685.3 604.9 L688.3 604.9 L691.3 604.9 L694.3 604.9 L697.3 604.9 L700.3 604.9 L703.3 604.9 L706.3 604.9 L709.4 604.9 L712.4 604.9 L715.4 604.9 L718.4 604.9 L721.4 604.9 L724.4 604.9 L727.4 604.9 L730.4 604.9 L733.4 604.9 L736.5 604.9 L739.5 604.9 L742.5 604.9 L745.5 604.9 L748.5 604.9 L751.5 604.9 L754.5 604.9 L757.5 604.9 L760.5 604.9 L763.6 604.9 L766.6 604.9 L769.6 604.9 L772.6 604.9 L775.6 604.9 L781.6 604.9 L781.6 596.8Z" fill="#8e2218"/>
</g></g>
<rect x="83" y="602.8" width="692.6" height="212.2" fill="none" stroke="#080820" stroke-opacity="0.62" stroke-width="1.6"/>
<text x="82.4" y="843.4" class="tk" text-anchor="middle">0</text>
<text x="169" y="843.4" class="tk" text-anchor="middle">3</text>
<text x="255.5" y="843.4" class="tk" text-anchor="middle">6</text>
<text x="342.1" y="843.4" class="tk" text-anchor="middle">9</text>
<text x="428.7" y="843.4" class="tk" text-anchor="middle">12</text>
<text x="515.3" y="843.4" class="tk" text-anchor="middle">15</text>
<text x="601.9" y="843.4" class="tk" text-anchor="middle">18</text>
<text x="688.4" y="843.4" class="tk" text-anchor="middle">21</text>
<text x="775" y="843.4" class="tk" text-anchor="middle">24</text>
<text x="72.7" y="609.6" class="tk" text-anchor="end">0</text>
<text x="72.7" y="659.5" class="tk" text-anchor="end">20</text>
<text x="72.7" y="709.5" class="tk" text-anchor="end">40</text>
<text x="72.7" y="759.4" class="tk" text-anchor="end">60</text>
<text x="72.7" y="809.3" class="tk" text-anchor="end">80</text>
<path d="M83 815V824M83 602.8V594.3M169.6 815V824M169.6 602.8V594.3M256.1 815V824M256.1 602.8V594.3M342.7 815V824M342.7 602.8V594.3M429.3 815V824M429.3 602.8V594.3M515.9 815V824M515.9 602.8V594.3M602.5 815V824M602.5 602.8V594.3M689 815V824M689 602.8V594.3M775.6 815V824M775.6 602.8V594.3M83 602.8H75.5M83 652.7H75.5M83 702.7H75.5M83 752.6H75.5M83 802.5H75.5M775.6 602.8H783.1M775.6 727.6H783.1" stroke="#444" stroke-width="1.3" fill="none"/>
<text x="115.8" y="789.8" font-size="30.6" class="b" textLength="108" lengthAdjust="spacingAndGlyphs" fill="#fff">Ago03</text>
<g filter="url(#bl2)">
<rect x="800.2" y="604.3" width="27" height="16.8" fill="#f9271a"/>
<rect x="800.2" y="620.7" width="27" height="16.8" fill="#fb6a20"/>
<rect x="800.2" y="637.1" width="27" height="16.8" fill="#fda324"/>
<rect x="800.2" y="653.5" width="27" height="16.8" fill="#fdd626"/>
<rect x="800.2" y="669.8" width="27" height="16.8" fill="#e2f32c"/>
<rect x="800.2" y="686.2" width="27" height="16.8" fill="#96f16c"/>
<rect x="800.2" y="702.6" width="27" height="16.8" fill="#52f0ae"/>
<rect x="800.2" y="719" width="27" height="16.8" fill="#17ecec"/>
<rect x="800.2" y="735.4" width="27" height="16.8" fill="#22b4f6"/>
<rect x="800.2" y="751.8" width="27" height="16.8" fill="#2e8cfb"/>
<rect x="800.2" y="768.1" width="27" height="16.8" fill="#4552f7"/>
<rect x="800.2" y="784.5" width="27" height="16.8" fill="#5612f8"/>
<rect x="800.2" y="800.9" width="27" height="16.8" fill="#5612f8"/>
</g>
<rect x="800.2" y="604.3" width="27" height="213" fill="none" stroke="#0a0a30" stroke-opacity="0.6" stroke-width="1.4"/>
<text x="830.2" y="628.1" class="tk">50</text>
<text x="830.2" y="710.1" class="tk">25</text>
<text x="830.2" y="792" class="tk">0</text>
<clipPath id="cp3"><rect x="84.5" y="864.8" width="692.5" height="212.2"/></clipPath>
<g clip-path="url(#cp3)"><g filter="url(#bl)">
<rect x="79.5" y="859.8" width="702.5" height="222.2" fill="#4552f7"/>
<path d="M78.5 879 C88.4 876.9 114 878.6 137.6 878.5 C161.3 878.5 192.7 878.4 220.2 878.5 C247.8 878.7 280.8 878.7 302.8 879.4 C324.8 880.1 338.8 881.1 352.4 882.7 C365.9 884.3 383.1 886.9 384 889 C384.9 891.1 371.4 893.2 357.9 895.1 C344.3 896.9 325.8 898.9 302.8 900 C279.9 901.2 247.8 902.3 220.2 901.9 C192.7 901.6 161.3 899.6 137.6 897.8 C114 896 88.4 894.1 78.5 891 C68.6 887.9 68.6 881.1 78.5 879Z" fill="#5612f8"/>
<path d="M219.5 937.3 C219.5 937.5 219.3 937.5 218.9 937.8 C218.5 938 217.9 938.3 217.1 938.6 C216.3 938.9 215.3 939.2 214.1 939.5 C213 939.8 211.7 940.2 210.2 940.4 C208.8 940.7 207.2 941 205.6 941.2 C203.9 941.4 202.2 941.6 200.4 941.7 C198.6 941.8 196.7 941.9 194.9 941.9 C193.1 941.9 191.2 941.8 189.4 941.7 C187.6 941.6 185.9 941.4 184.2 941.2 C182.6 941 181 940.7 179.6 940.4 C178.1 940.2 176.8 939.8 175.7 939.5 C174.5 939.2 173.5 938.9 172.7 938.6 C171.9 938.3 171.3 938 170.9 937.8 C170.5 937.5 170.3 937.5 170.3 937.3 C170.3 937.1 170.5 937.1 170.9 936.8 C171.3 936.6 171.9 936.3 172.7 936 C173.5 935.7 174.5 935.4 175.7 935.1 C176.8 934.8 178.1 934.4 179.6 934.2 C181 933.9 182.6 933.6 184.2 933.4 C185.9 933.2 187.6 933 189.4 932.9 C191.2 932.8 193.1 932.7 194.9 932.7 C196.7 932.7 198.6 932.8 200.4 932.9 C202.2 933 203.9 933.2 205.6 933.4 C207.2 933.6 208.8 933.9 210.2 934.2 C211.7 934.4 213 934.8 214.1 935.1 C215.3 935.4 216.3 935.7 217.1 936 C217.9 936.3 218.5 936.6 218.9 936.8 C219.3 937.1 219.5 937.1 219.5 937.3Z" fill="#5612f8"/>
<path d="M635.9 892.3 C635.9 889.7 655.9 884.9 668.4 882.7 C680.9 880.4 699 879.8 710.8 879 C722.5 878.2 726.5 878.1 739 877.9 C751.5 877.6 777.9 873.7 785.6 877.6 C793.4 881.4 798.1 897.2 785.6 901 C773.2 904.9 730.3 901.3 710.8 900.7 C691.2 900.2 680.9 899.3 668.4 897.9 C655.9 896.5 635.9 894.8 635.9 892.3Z" fill="#5612f8"/>
<path d="M344.1 878.5 C347.8 880.9 357 880.7 366.1 881.8 C375.3 883 391.6 884.5 399.2 885.7 C406.7 886.9 405.5 888.4 411.3 889.2 C417.1 889.9 424.7 889.8 433.9 890.3 C443.1 890.8 466.4 892.3 466.4 892.3 C466.4 892.3 442.1 894.2 431.1 895.9 C420 897.6 400 902.4 400 902.4 C400 902.4 426.8 906.6 442.4 907.8 C457.9 909 477.7 909.7 493.2 909.5 C508.8 909.3 525.5 907.9 535.6 906.7 C545.7 905.4 554 902.2 554 902.2 C554 902.2 547.4 898 544.1 896.5 C540.8 895 534.2 893.4 534.2 893.4 C534.2 893.4 547.6 885.2 558.2 882.9 C568.8 880.7 586.5 881.2 597.8 880.1 C609.1 879.1 621.3 879.2 626 876.7 C630.7 874.3 664.6 867.3 626 865.4 C587.4 863.5 441.3 865.1 394.3 865.4 C347.4 865.8 352.5 865.3 344.1 867.5 C335.7 869.7 340.4 876.2 344.1 878.5Z" fill="#2e8cfb"/>
<path d="M439.1 952.4 C439.1 952.5 439 952.6 438.9 952.7 C438.7 952.8 438.5 952.9 438.3 953 C438 953.1 437.7 953.2 437.3 953.3 C437 953.3 436.5 953.4 436.1 953.5 C435.6 953.5 435.1 953.6 434.5 953.6 C434 953.7 433.4 953.7 432.9 953.7 C432.3 953.7 431.7 953.7 431.1 953.7 C430.5 953.7 429.9 953.7 429.3 953.7 C428.7 953.7 428.1 953.7 427.6 953.6 C427.1 953.6 426.6 953.5 426.1 953.5 C425.6 953.4 425.2 953.3 424.8 953.3 C424.5 953.2 424.1 953.1 423.9 953 C423.6 952.9 423.4 952.8 423.3 952.7 C423.1 952.6 423.1 952.5 423.1 952.4 C423.1 952.3 423.1 952.2 423.3 952.2 C423.4 952.1 423.6 952 423.9 951.9 C424.1 951.8 424.5 951.7 424.8 951.6 C425.2 951.6 425.6 951.5 426.1 951.4 C426.6 951.4 427.1 951.3 427.6 951.3 C428.1 951.2 428.7 951.2 429.3 951.2 C429.9 951.2 430.5 951.1 431.1 951.1 C431.7 951.1 432.3 951.2 432.9 951.2 C433.4 951.2 434 951.2 434.5 951.3 C435.1 951.3 435.6 951.4 436.1 951.4 C436.5 951.5 437 951.6 437.3 951.6 C437.7 951.7 438 951.8 438.3 951.9 C438.5 952 438.7 952.1 438.9 952.2 C439 952.2 439.1 952.3 439.1 952.4Z" fill="#2e8cfb"/>
<path d="M440 977 C440 977.2 439.9 977.3 439.8 977.4 C439.6 977.6 439.4 977.7 439.1 977.8 C438.8 977.9 438.4 978 437.9 978.1 C437.5 978.2 437 978.3 436.4 978.4 C435.9 978.5 435.3 978.6 434.6 978.6 C434 978.7 433.3 978.7 432.6 978.8 C431.9 978.8 431.2 978.8 430.5 978.8 C429.8 978.8 429.1 978.8 428.4 978.8 C427.7 978.7 427 978.7 426.4 978.6 C425.8 978.6 425.1 978.5 424.6 978.4 C424 978.3 423.5 978.2 423.1 978.1 C422.6 978 422.3 977.9 422 977.8 C421.6 977.7 421.4 977.6 421.3 977.4 C421.1 977.3 421 977.2 421 977 C421 976.9 421.1 976.8 421.3 976.6 C421.4 976.5 421.6 976.4 422 976.2 C422.3 976.1 422.6 976 423.1 975.9 C423.5 975.8 424 975.7 424.6 975.6 C425.1 975.5 425.8 975.5 426.4 975.4 C427 975.3 427.7 975.3 428.4 975.3 C429.1 975.2 429.8 975.2 430.5 975.2 C431.2 975.2 431.9 975.2 432.6 975.3 C433.3 975.3 434 975.3 434.6 975.4 C435.3 975.5 435.9 975.5 436.4 975.6 C437 975.7 437.5 975.8 437.9 975.9 C438.4 976 438.8 976.1 439.1 976.2 C439.4 976.4 439.6 976.5 439.8 976.6 C439.9 976.8 440 976.9 440 977Z" fill="#2e8cfb"/>
</g><g filter="url(#bl3)">
<path d="M78.5 858.8 L78.5 878.6 L84.5 878.6 L87.5 878.6 L90.5 878.6 L93.5 878.6 L96.5 878.6 L99.6 878.6 L102.6 878.6 L105.6 878.6 L108.6 878.6 L111.6 878.6 L114.6 878.6 L117.6 878.6 L120.6 878.6 L123.6 878.6 L126.7 878.6 L129.7 878.6 L132.7 878.6 L135.7 878.6 L138.7 878.6 L141.7 878.6 L144.7 878.6 L147.7 878.6 L150.7 878.6 L153.8 878.6 L156.8 878.6 L159.8 878.6 L162.8 878.6 L165.8 878.6 L168.8 878.6 L171.8 878.7 L174.8 878.7 L177.8 878.7 L180.8 878.7 L183.9 878.7 L186.9 878.7 L189.9 878.7 L192.9 878.7 L195.9 878.7 L198.9 878.7 L201.9 878.7 L204.9 878.7 L207.9 878.7 L211 878.7 L214 878.7 L217 878.7 L220 878.7 L223 878.7 L226 878.7 L229 878.7 L232 878.7 L235 878.7 L238.1 878.7 L241.1 878.7 L244.1 878.7 L247.1 878.7 L250.1 878.7 L253.1 878.7 L256.1 878.7 L259.1 878.8 L262.1 878.8 L265.2 878.8 L268.2 878.8 L271.2 878.8 L274.2 878.8 L277.2 878.8 L280.2 878.8 L283.2 878.8 L286.2 878.8 L289.2 878.8 L292.2 878.8 L295.3 878.8 L298.3 878.8 L301.3 878.8 L304.3 878.8 L307.3 878.8 L310.3 878.8 L313.3 878.8 L316.3 878.8 L319.3 878.8 L322.4 878.8 L325.4 878.8 L328.4 878.8 L331.4 878.8 L334.4 878.8 L337.4 878.8 L340.4 878.8 L343.4 878.8 L346.4 878.8 L349.5 878.8 L352.5 878.9 L355.5 879 L358.5 879.1 L361.5 879.2 L364.5 879.4 L367.5 879.5 L370.5 879.7 L373.5 879.9 L376.6 880 L379.6 880.2 L382.6 880.3 L385.6 880.5 L388.6 880.6 L391.6 880.7 L394.6 880.8 L397.6 880.8 L400.6 880.8 L403.7 880.9 L406.7 881 L409.7 881.2 L412.7 881.5 L415.7 881.8 L418.7 882.1 L421.7 882.5 L424.7 882.8 L427.7 883.2 L430.8 883.4 L433.8 883.6 L436.8 883.8 L439.8 883.8 L442.8 883.8 L445.8 884 L448.8 884.1 L451.8 884.4 L454.8 884.7 L457.8 885 L460.9 885.4 L463.9 885.7 L466.9 886.1 L469.9 886.4 L472.9 886.6 L475.9 886.7 L478.9 886.8 L481.9 886.8 L484.9 886.9 L488 887 L491 887.1 L494 887.3 L497 887.5 L500 887.7 L503 887.9 L506 888.1 L509 888.2 L512 888.3 L515.1 888.3 L518.1 888.3 L521.1 888.1 L524.1 887.9 L527.1 887.6 L530.1 887.3 L533.1 887 L536.1 886.6 L539.1 886.3 L542.2 886.1 L545.2 885.9 L548.2 885.8 L551.2 885.8 L554.2 885.7 L557.2 885.6 L560.2 885.4 L563.2 885.1 L566.2 884.8 L569.2 884.4 L572.3 884 L575.3 883.6 L578.3 883.1 L581.3 882.7 L584.3 882.3 L587.3 881.9 L590.3 881.6 L593.3 881.3 L596.3 881 L599.4 880.9 L602.4 880.8 L605.4 880.8 L608.4 880.8 L611.4 880.7 L614.4 880.6 L617.4 880.4 L620.4 880.2 L623.4 880 L626.5 879.8 L629.5 879.5 L632.5 879.3 L635.5 879 L638.5 878.8 L641.5 878.5 L644.5 878.3 L647.5 878.2 L650.5 878 L653.6 877.9 L656.6 877.8 L659.6 877.8 L662.6 877.8 L665.6 877.8 L668.6 877.8 L671.6 877.8 L674.6 877.8 L677.6 877.7 L680.7 877.7 L683.7 877.7 L686.7 877.7 L689.7 877.6 L692.7 877.6 L695.7 877.6 L698.7 877.6 L701.7 877.5 L704.7 877.5 L707.8 877.4 L710.8 877.4 L713.8 877.4 L716.8 877.3 L719.8 877.3 L722.8 877.2 L725.8 877.2 L728.8 877.2 L731.8 877.1 L734.8 877.1 L737.9 877.1 L740.9 877 L743.9 877 L746.9 877 L749.9 876.9 L752.9 876.9 L755.9 876.9 L758.9 876.9 L761.9 876.8 L765 876.8 L768 876.8 L771 876.8 L774 876.8 L777 876.8 L783 876.8 L783 858.8Z" fill="#2e8cfb"/>
<path d="M78.5 858.8 L78.5 876.6 L84.5 876.6 L87.5 876.6 L90.5 876.6 L93.5 876.6 L96.5 876.6 L99.6 876.6 L102.6 876.6 L105.6 876.6 L108.6 876.6 L111.6 876.6 L114.6 876.6 L117.6 876.6 L120.6 876.6 L123.6 876.6 L126.7 876.6 L129.7 876.6 L132.7 876.6 L135.7 876.6 L138.7 876.6 L141.7 876.6 L144.7 876.6 L147.7 876.6 L150.7 876.6 L153.8 876.6 L156.8 876.6 L159.8 876.6 L162.8 876.6 L165.8 876.6 L168.8 876.6 L171.8 876.6 L174.8 876.6 L177.8 876.7 L180.8 876.7 L183.9 876.7 L186.9 876.7 L189.9 876.7 L192.9 876.7 L195.9 876.7 L198.9 876.7 L201.9 876.7 L204.9 876.7 L207.9 876.7 L211 876.7 L214 876.7 L217 876.7 L220 876.7 L223 876.7 L226 876.7 L229 876.7 L232 876.7 L235 876.7 L238.1 876.7 L241.1 876.7 L244.1 876.7 L247.1 876.7 L250.1 876.7 L253.1 876.7 L256.1 876.7 L259.1 876.7 L262.1 876.7 L265.2 876.7 L268.2 876.7 L271.2 876.7 L274.2 876.7 L277.2 876.7 L280.2 876.7 L283.2 876.8 L286.2 876.8 L289.2 876.8 L292.2 876.8 L295.3 876.8 L298.3 876.8 L301.3 876.8 L304.3 876.8 L307.3 876.8 L310.3 876.8 L313.3 876.8 L316.3 876.8 L319.3 876.8 L322.4 876.8 L325.4 876.8 L328.4 876.8 L331.4 876.8 L334.4 876.8 L337.4 876.8 L340.4 876.8 L343.4 876.8 L346.4 876.8 L349.5 876.8 L352.5 876.8 L355.5 876.9 L358.5 877 L361.5 877.1 L364.5 877.2 L367.5 877.3 L370.5 877.5 L373.5 877.6 L376.6 877.8 L379.6 877.9 L382.6 878 L385.6 878.1 L388.6 878.2 L391.6 878.3 L394.6 878.3 L397.6 878.3 L400.6 878.4 L403.7 878.4 L406.7 878.5 L409.7 878.7 L412.7 878.9 L415.7 879.1 L418.7 879.4 L421.7 879.6 L424.7 879.9 L427.7 880.1 L430.8 880.3 L433.8 880.4 L436.8 880.5 L439.8 880.6 L442.8 880.6 L445.8 880.7 L448.8 880.8 L451.8 881 L454.8 881.2 L457.8 881.5 L460.9 881.7 L463.9 881.9 L466.9 882.2 L469.9 882.3 L472.9 882.5 L475.9 882.6 L478.9 882.6 L481.9 882.6 L484.9 882.7 L488 882.8 L491 882.9 L494 883 L497 883.2 L500 883.4 L503 883.5 L506 883.6 L509 883.7 L512 883.8 L515.1 883.8 L518.1 883.8 L521.1 883.6 L524.1 883.5 L527.1 883.2 L530.1 883 L533.1 882.7 L536.1 882.5 L539.1 882.3 L542.2 882.1 L545.2 882 L548.2 882 L551.2 882 L554.2 882 L557.2 881.9 L560.2 881.7 L563.2 881.5 L566.2 881.3 L569.2 881 L572.3 880.7 L575.3 880.3 L578.3 880 L581.3 879.7 L584.3 879.4 L587.3 879.1 L590.3 878.8 L593.3 878.6 L596.3 878.5 L599.4 878.3 L602.4 878.3 L605.4 878.3 L608.4 878.3 L611.4 878.2 L614.4 878.2 L617.4 878.1 L620.4 877.9 L623.4 877.8 L626.5 877.6 L629.5 877.4 L632.5 877.2 L635.5 877 L638.5 876.7 L641.5 876.5 L644.5 876.4 L647.5 876.2 L650.5 876.1 L653.6 876 L656.6 875.9 L659.6 875.9 L662.6 875.9 L665.6 875.9 L668.6 875.9 L671.6 875.9 L674.6 875.9 L677.6 875.9 L680.7 875.9 L683.7 875.8 L686.7 875.8 L689.7 875.8 L692.7 875.8 L695.7 875.7 L698.7 875.7 L701.7 875.7 L704.7 875.6 L707.8 875.6 L710.8 875.6 L713.8 875.5 L716.8 875.5 L719.8 875.5 L722.8 875.4 L725.8 875.4 L728.8 875.4 L731.8 875.3 L734.8 875.3 L737.9 875.3 L740.9 875.2 L743.9 875.2 L746.9 875.2 L749.9 875.2 L752.9 875.1 L755.9 875.1 L758.9 875.1 L761.9 875.1 L765 875.1 L768 875.1 L771 875.1 L774 875.1 L777 875.1 L783 875.1 L783 858.8Z" fill="#22b4f6"/>
<path d="M78.5 858.8 L78.5 875.7 L84.5 875.7 L87.5 875.7 L90.5 875.7 L93.5 875.7 L96.5 875.7 L99.6 875.7 L102.6 875.7 L105.6 875.7 L108.6 875.7 L111.6 875.7 L114.6 875.7 L117.6 875.7 L120.6 875.7 L123.6 875.7 L126.7 875.7 L129.7 875.7 L132.7 875.7 L135.7 875.7 L138.7 875.7 L141.7 875.7 L144.7 875.7 L147.7 875.7 L150.7 875.7 L153.8 875.7 L156.8 875.7 L159.8 875.7 L162.8 875.7 L165.8 875.7 L168.8 875.7 L171.8 875.7 L174.8 875.8 L177.8 875.8 L180.8 875.8 L183.9 875.8 L186.9 875.8 L189.9 875.8 L192.9 875.8 L195.9 875.8 L198.9 875.8 L201.9 875.8 L204.9 875.8 L207.9 875.8 L211 875.8 L214 875.8 L217 875.8 L220 875.8 L223 875.8 L226 875.8 L229 875.8 L232 875.8 L235 875.8 L238.1 875.8 L241.1 875.8 L244.1 875.8 L247.1 875.8 L250.1 875.8 L253.1 875.8 L256.1 875.8 L259.1 875.8 L262.1 875.8 L265.2 875.8 L268.2 875.8 L271.2 875.8 L274.2 875.8 L277.2 875.8 L280.2 875.8 L283.2 875.8 L286.2 875.8 L289.2 875.8 L292.2 875.9 L295.3 875.9 L298.3 875.9 L301.3 875.9 L304.3 875.9 L307.3 875.9 L310.3 875.9 L313.3 875.9 L316.3 875.9 L319.3 875.9 L322.4 875.9 L325.4 875.9 L328.4 875.9 L331.4 875.9 L334.4 875.9 L337.4 875.9 L340.4 875.9 L343.4 875.9 L346.4 875.9 L349.5 875.9 L352.5 875.9 L355.5 876 L358.5 876.1 L361.5 876.1 L364.5 876.2 L367.5 876.4 L370.5 876.5 L373.5 876.6 L376.6 876.7 L379.6 876.8 L382.6 876.9 L385.6 877 L388.6 877.1 L391.6 877.1 L394.6 877.2 L397.6 877.2 L400.6 877.2 L403.7 877.2 L406.7 877.3 L409.7 877.4 L412.7 877.6 L415.7 877.8 L418.7 878 L421.7 878.2 L424.7 878.4 L427.7 878.5 L430.8 878.7 L433.8 878.8 L436.8 878.8 L439.8 878.9 L442.8 878.9 L445.8 878.9 L448.8 879 L451.8 879.2 L454.8 879.3 L457.8 879.5 L460.9 879.7 L463.9 879.8 L466.9 879.9 L469.9 880.1 L472.9 880.1 L475.9 880.2 L478.9 880.2 L481.9 880.2 L484.9 880.3 L488 880.3 L491 880.4 L494 880.6 L497 880.7 L500 880.8 L503 880.9 L506 881 L509 881.1 L512 881.2 L515.1 881.2 L518.1 881.1 L521.1 881 L524.1 880.9 L527.1 880.7 L530.1 880.5 L533.1 880.2 L536.1 880.1 L539.1 879.9 L542.2 879.8 L545.2 879.8 L548.2 879.8 L551.2 879.9 L554.2 879.9 L557.2 879.9 L560.2 879.8 L563.2 879.6 L566.2 879.4 L569.2 879.1 L572.3 878.9 L575.3 878.6 L578.3 878.3 L581.3 878.1 L584.3 877.9 L587.3 877.7 L590.3 877.5 L593.3 877.3 L596.3 877.2 L599.4 877.1 L602.4 877 L605.4 877.1 L608.4 877.1 L611.4 877.1 L614.4 877 L617.4 877 L620.4 876.9 L623.4 876.8 L626.5 876.6 L629.5 876.4 L632.5 876.2 L635.5 876 L638.5 875.8 L641.5 875.7 L644.5 875.5 L647.5 875.4 L650.5 875.2 L653.6 875.2 L656.6 875.1 L659.6 875.1 L662.6 875.1 L665.6 875.1 L668.6 875.1 L671.6 875.1 L674.6 875 L677.6 875 L680.7 875 L683.7 875 L686.7 875 L689.7 875 L692.7 874.9 L695.7 874.9 L698.7 874.9 L701.7 874.9 L704.7 874.8 L707.8 874.8 L710.8 874.8 L713.8 874.7 L716.8 874.7 L719.8 874.7 L722.8 874.6 L725.8 874.6 L728.8 874.6 L731.8 874.5 L734.8 874.5 L737.9 874.5 L740.9 874.5 L743.9 874.4 L746.9 874.4 L749.9 874.4 L752.9 874.4 L755.9 874.3 L758.9 874.3 L761.9 874.3 L765 874.3 L768 874.3 L771 874.3 L774 874.3 L777 874.3 L783 874.3 L783 858.8Z" fill="#17ecec"/>
<path d="M78.5 858.8 L78.5 874.8 L84.5 874.8 L87.5 874.8 L90.5 874.8 L93.5 874.8 L96.5 874.8 L99.6 874.8 L102.6 874.8 L105.6 874.8 L108.6 874.8 L111.6 874.8 L114.6 874.8 L117.6 874.8 L120.6 874.8 L123.6 874.8 L126.7 874.8 L129.7 874.8 L132.7 874.8 L135.7 874.8 L138.7 874.8 L141.7 874.8 L144.7 874.8 L147.7 874.8 L150.7 874.8 L153.8 874.8 L156.8 874.8 L159.8 874.8 L162.8 874.8 L165.8 874.8 L168.8 874.8 L171.8 874.9 L174.8 874.9 L177.8 874.9 L180.8 874.9 L183.9 874.9 L186.9 874.9 L189.9 874.9 L192.9 874.9 L195.9 874.9 L198.9 874.9 L201.9 874.9 L204.9 874.9 L207.9 874.9 L211 874.9 L214 874.9 L217 874.9 L220 874.9 L223 874.9 L226 874.9 L229 874.9 L232 874.9 L235 874.9 L238.1 874.9 L241.1 874.9 L244.1 874.9 L247.1 874.9 L250.1 874.9 L253.1 874.9 L256.1 874.9 L259.1 874.9 L262.1 874.9 L265.2 874.9 L268.2 874.9 L271.2 874.9 L274.2 874.9 L277.2 874.9 L280.2 874.9 L283.2 874.9 L286.2 874.9 L289.2 874.9 L292.2 874.9 L295.3 874.9 L298.3 874.9 L301.3 874.9 L304.3 875 L307.3 875 L310.3 875 L313.3 875 L316.3 875 L319.3 875 L322.4 875 L325.4 875 L328.4 875 L331.4 875 L334.4 875 L337.4 875 L340.4 875 L343.4 875 L346.4 875 L349.5 875 L352.5 875 L355.5 875.1 L358.5 875.1 L361.5 875.2 L364.5 875.3 L367.5 875.4 L370.5 875.5 L373.5 875.5 L376.6 875.6 L379.6 875.7 L382.6 875.8 L385.6 875.9 L388.6 875.9 L391.6 876 L394.6 876 L397.6 876 L400.6 876 L403.7 876 L406.7 876.1 L409.7 876.2 L412.7 876.3 L415.7 876.5 L418.7 876.6 L421.7 876.7 L424.7 876.9 L427.7 877 L430.8 877 L433.8 877.1 L436.8 877.1 L439.8 877.1 L442.8 877.2 L445.8 877.2 L448.8 877.3 L451.8 877.3 L454.8 877.4 L457.8 877.5 L460.9 877.6 L463.9 877.7 L466.9 877.7 L469.9 877.8 L472.9 877.8 L475.9 877.8 L478.9 877.8 L481.9 877.8 L484.9 877.9 L488 877.9 L491 878 L494 878.1 L497 878.2 L500 878.3 L503 878.4 L506 878.5 L509 878.5 L512 878.5 L515.1 878.5 L518.1 878.5 L521.1 878.4 L524.1 878.3 L527.1 878.1 L530.1 877.9 L533.1 877.8 L536.1 877.6 L539.1 877.5 L542.2 877.5 L545.2 877.5 L548.2 877.6 L551.2 877.7 L554.2 877.8 L557.2 877.8 L560.2 877.8 L563.2 877.7 L566.2 877.5 L569.2 877.3 L572.3 877.1 L575.3 876.8 L578.3 876.7 L581.3 876.5 L584.3 876.4 L587.3 876.2 L590.3 876.1 L593.3 876 L596.3 875.9 L599.4 875.8 L602.4 875.8 L605.4 875.8 L608.4 875.9 L611.4 875.9 L614.4 875.9 L617.4 875.9 L620.4 875.9 L623.4 875.8 L626.5 875.6 L629.5 875.5 L632.5 875.3 L635.5 875.1 L638.5 874.9 L641.5 874.8 L644.5 874.6 L647.5 874.5 L650.5 874.4 L653.6 874.3 L656.6 874.3 L659.6 874.2 L662.6 874.2 L665.6 874.2 L668.6 874.2 L671.6 874.2 L674.6 874.2 L677.6 874.2 L680.7 874.2 L683.7 874.2 L686.7 874.1 L689.7 874.1 L692.7 874.1 L695.7 874.1 L698.7 874.1 L701.7 874 L704.7 874 L707.8 874 L710.8 873.9 L713.8 873.9 L716.8 873.9 L719.8 873.9 L722.8 873.8 L725.8 873.8 L728.8 873.8 L731.8 873.7 L734.8 873.7 L737.9 873.7 L740.9 873.7 L743.9 873.6 L746.9 873.6 L749.9 873.6 L752.9 873.6 L755.9 873.6 L758.9 873.5 L761.9 873.5 L765 873.5 L768 873.5 L771 873.5 L774 873.5 L777 873.5 L783 873.5 L783 858.8Z" fill="#52f0ae"/>
<path d="M78.5 858.8 L78.5 873.9 L84.5 873.9 L87.5 873.9 L90.5 873.9 L93.5 873.9 L96.5 873.9 L99.6 873.9 L102.6 873.9 L105.6 873.9 L108.6 873.9 L111.6 873.9 L114.6 873.9 L117.6 873.9 L120.6 873.9 L123.6 873.9 L126.7 873.9 L129.7 873.9 L132.7 873.9 L135.7 873.9 L138.7 873.9 L141.7 873.9 L144.7 873.9 L147.7 873.9 L150.7 873.9 L153.8 873.9 L156.8 873.9 L159.8 873.9 L162.8 873.9 L165.8 873.9 L168.8 874 L171.8 874 L174.8 874 L177.8 874 L180.8 874 L183.9 874 L186.9 874 L189.9 874 L192.9 874 L195.9 874 L198.9 874 L201.9 874 L204.9 874 L207.9 874 L211 874 L214 874 L217 874 L220 874 L223 874 L226 874 L229 874 L232 874 L235 874 L238.1 874 L241.1 874 L244.1 874 L247.1 874 L250.1 874 L253.1 874 L256.1 874 L259.1 874 L262.1 874 L265.2 874 L268.2 874 L271.2 874 L274.2 874 L277.2 874 L280.2 874 L283.2 874 L286.2 874 L289.2 874 L292.2 874 L295.3 874 L298.3 874 L301.3 874 L304.3 874 L307.3 874 L310.3 874 L313.3 874 L316.3 874 L319.3 874 L322.4 874 L325.4 874 L328.4 874.1 L331.4 874.1 L334.4 874.1 L337.4 874.1 L340.4 874.1 L343.4 874.1 L346.4 874.1 L349.5 874.1 L352.5 874.1 L355.5 874.1 L358.5 874.2 L361.5 874.2 L364.5 874.3 L367.5 874.4 L370.5 874.4 L373.5 874.5 L376.6 874.6 L379.6 874.6 L382.6 874.7 L385.6 874.7 L388.6 874.8 L391.6 874.8 L394.6 874.8 L397.6 874.8 L400.6 874.8 L403.7 874.9 L406.7 874.9 L409.7 875 L412.7 875.1 L415.7 875.1 L418.7 875.2 L421.7 875.3 L424.7 875.3 L427.7 875.4 L430.8 875.4 L433.8 875.4 L436.8 875.4 L439.8 875.4 L442.8 875.4 L445.8 875.4 L448.8 875.5 L451.8 875.5 L454.8 875.5 L457.8 875.5 L460.9 875.5 L463.9 875.5 L466.9 875.5 L469.9 875.5 L472.9 875.4 L475.9 875.4 L478.9 875.4 L481.9 875.4 L484.9 875.4 L488 875.5 L491 875.5 L494 875.6 L497 875.7 L500 875.8 L503 875.8 L506 875.9 L509 875.9 L512 875.9 L515.1 875.9 L518.1 875.9 L521.1 875.8 L524.1 875.7 L527.1 875.6 L530.1 875.4 L533.1 875.3 L536.1 875.2 L539.1 875.2 L542.2 875.2 L545.2 875.3 L548.2 875.4 L551.2 875.6 L554.2 875.7 L557.2 875.8 L560.2 875.8 L563.2 875.8 L566.2 875.6 L569.2 875.5 L572.3 875.3 L575.3 875.1 L578.3 875 L581.3 874.9 L584.3 874.9 L587.3 874.8 L590.3 874.8 L593.3 874.7 L596.3 874.6 L599.4 874.6 L602.4 874.6 L605.4 874.6 L608.4 874.7 L611.4 874.8 L614.4 874.8 L617.4 874.8 L620.4 874.8 L623.4 874.8 L626.5 874.7 L629.5 874.5 L632.5 874.4 L635.5 874.2 L638.5 874 L641.5 873.9 L644.5 873.7 L647.5 873.6 L650.5 873.5 L653.6 873.5 L656.6 873.4 L659.6 873.4 L662.6 873.4 L665.6 873.4 L668.6 873.4 L671.6 873.4 L674.6 873.4 L677.6 873.4 L680.7 873.3 L683.7 873.3 L686.7 873.3 L689.7 873.3 L692.7 873.3 L695.7 873.3 L698.7 873.2 L701.7 873.2 L704.7 873.2 L707.8 873.2 L710.8 873.1 L713.8 873.1 L716.8 873.1 L719.8 873 L722.8 873 L725.8 873 L728.8 873 L731.8 872.9 L734.8 872.9 L737.9 872.9 L740.9 872.9 L743.9 872.9 L746.9 872.8 L749.9 872.8 L752.9 872.8 L755.9 872.8 L758.9 872.8 L761.9 872.8 L765 872.7 L768 872.7 L771 872.7 L774 872.7 L777 872.7 L783 872.7 L783 858.8Z" fill="#96f16c"/>
<path d="M78.5 858.8 L78.5 873 L84.5 873 L87.5 873 L90.5 873 L93.5 873 L96.5 873 L99.6 873 L102.6 873 L105.6 873 L108.6 873 L111.6 873 L114.6 873 L117.6 873 L120.6 873 L123.6 873 L126.7 873 L129.7 873 L132.7 873 L135.7 873 L138.7 873 L141.7 873 L144.7 873 L147.7 873 L150.7 873 L153.8 873 L156.8 873 L159.8 873 L162.8 873.1 L165.8 873.1 L168.8 873.1 L171.8 873.1 L174.8 873.1 L177.8 873.1 L180.8 873.1 L183.9 873.1 L186.9 873.1 L189.9 873.1 L192.9 873.1 L195.9 873.1 L198.9 873.1 L201.9 873.1 L204.9 873.1 L207.9 873.1 L211 873.1 L214 873.1 L217 873.1 L220 873.1 L223 873.1 L226 873.1 L229 873.1 L232 873.1 L235 873.1 L238.1 873.1 L241.1 873.1 L244.1 873.1 L247.1 873.1 L250.1 873.1 L253.1 873.1 L256.1 873.1 L259.1 873.1 L262.1 873.1 L265.2 873.1 L268.2 873.1 L271.2 873.1 L274.2 873.1 L277.2 873.1 L280.2 873.1 L283.2 873.1 L286.2 873.1 L289.2 873.1 L292.2 873.1 L295.3 873.1 L298.3 873.1 L301.3 873.1 L304.3 873.1 L307.3 873.1 L310.3 873.1 L313.3 873.1 L316.3 873.1 L319.3 873.1 L322.4 873.1 L325.4 873.1 L328.4 873.1 L331.4 873.1 L334.4 873.1 L337.4 873.1 L340.4 873.1 L343.4 873.1 L346.4 873.1 L349.5 873.2 L352.5 873.2 L355.5 873.2 L358.5 873.2 L361.5 873.3 L364.5 873.3 L367.5 873.4 L370.5 873.4 L373.5 873.5 L376.6 873.5 L379.6 873.6 L382.6 873.6 L385.6 873.6 L388.6 873.6 L391.6 873.7 L394.6 873.7 L397.6 873.7 L400.6 873.7 L403.7 873.7 L406.7 873.7 L409.7 873.7 L412.7 873.8 L415.7 873.8 L418.7 873.8 L421.7 873.8 L424.7 873.8 L427.7 873.8 L430.8 873.8 L433.8 873.7 L436.8 873.7 L439.8 873.7 L442.8 873.7 L445.8 873.7 L448.8 873.7 L451.8 873.7 L454.8 873.6 L457.8 873.6 L460.9 873.5 L463.9 873.4 L466.9 873.3 L469.9 873.2 L472.9 873.1 L475.9 873 L478.9 873 L481.9 873 L484.9 873 L488 873 L491 873.1 L494 873.1 L497 873.2 L500 873.2 L503 873.3 L506 873.3 L509 873.3 L512 873.3 L515.1 873.3 L518.1 873.3 L521.1 873.2 L524.1 873.1 L527.1 873 L530.1 872.9 L533.1 872.8 L536.1 872.8 L539.1 872.8 L542.2 872.9 L545.2 873.1 L548.2 873.3 L551.2 873.5 L554.2 873.7 L557.2 873.8 L560.2 873.8 L563.2 873.8 L566.2 873.8 L569.2 873.6 L572.3 873.5 L575.3 873.4 L578.3 873.4 L581.3 873.4 L584.3 873.4 L587.3 873.4 L590.3 873.4 L593.3 873.4 L596.3 873.4 L599.4 873.3 L602.4 873.3 L605.4 873.4 L608.4 873.5 L611.4 873.6 L614.4 873.7 L617.4 873.8 L620.4 873.8 L623.4 873.8 L626.5 873.7 L629.5 873.6 L632.5 873.4 L635.5 873.3 L638.5 873.1 L641.5 873 L644.5 872.9 L647.5 872.8 L650.5 872.7 L653.6 872.6 L656.6 872.6 L659.6 872.5 L662.6 872.5 L665.6 872.5 L668.6 872.5 L671.6 872.5 L674.6 872.5 L677.6 872.5 L680.7 872.5 L683.7 872.5 L686.7 872.5 L689.7 872.5 L692.7 872.4 L695.7 872.4 L698.7 872.4 L701.7 872.4 L704.7 872.4 L707.8 872.3 L710.8 872.3 L713.8 872.3 L716.8 872.3 L719.8 872.2 L722.8 872.2 L725.8 872.2 L728.8 872.2 L731.8 872.1 L734.8 872.1 L737.9 872.1 L740.9 872.1 L743.9 872.1 L746.9 872 L749.9 872 L752.9 872 L755.9 872 L758.9 872 L761.9 872 L765 872 L768 872 L771 872 L774 872 L777 872 L783 872 L783 858.8Z" fill="#e2f32c"/>
<path d="M78.5 858.8 L78.5 872.1 L84.5 872.1 L87.5 872.1 L90.5 872.1 L93.5 872.1 L96.5 872.1 L99.6 872.1 L102.6 872.1 L105.6 872.1 L108.6 872.1 L111.6 872.1 L114.6 872.1 L117.6 872.1 L120.6 872.1 L123.6 872.1 L126.7 872.1 L129.7 872.1 L132.7 872.1 L135.7 872.1 L138.7 872.1 L141.7 872.1 L144.7 872.1 L147.7 872.1 L150.7 872.1 L153.8 872.1 L156.8 872.2 L159.8 872.2 L162.8 872.2 L165.8 872.2 L168.8 872.2 L171.8 872.2 L174.8 872.2 L177.8 872.2 L180.8 872.2 L183.9 872.2 L186.9 872.2 L189.9 872.2 L192.9 872.2 L195.9 872.2 L198.9 872.2 L201.9 872.2 L204.9 872.2 L207.9 872.2 L211 872.2 L214 872.2 L217 872.2 L220 872.2 L223 872.2 L226 872.2 L229 872.2 L232 872.2 L235 872.2 L238.1 872.2 L241.1 872.2 L244.1 872.2 L247.1 872.2 L250.1 872.2 L253.1 872.2 L256.1 872.2 L259.1 872.2 L262.1 872.2 L265.2 872.2 L268.2 872.2 L271.2 872.2 L274.2 872.2 L277.2 872.2 L280.2 872.2 L283.2 872.2 L286.2 872.2 L289.2 872.2 L292.2 872.2 L295.3 872.2 L298.3 872.2 L301.3 872.2 L304.3 872.2 L307.3 872.2 L310.3 872.2 L313.3 872.2 L316.3 872.2 L319.3 872.2 L322.4 872.2 L325.4 872.2 L328.4 872.2 L331.4 872.2 L334.4 872.2 L337.4 872.2 L340.4 872.2 L343.4 872.2 L346.4 872.2 L349.5 872.2 L352.5 872.3 L355.5 872.3 L358.5 872.3 L361.5 872.3 L364.5 872.4 L367.5 872.4 L370.5 872.4 L373.5 872.4 L376.6 872.5 L379.6 872.5 L382.6 872.5 L385.6 872.5 L388.6 872.5 L391.6 872.5 L394.6 872.5 L397.6 872.5 L400.6 872.5 L403.7 872.5 L406.7 872.5 L409.7 872.5 L412.7 872.5 L415.7 872.5 L418.7 872.4 L421.7 872.4 L424.7 872.3 L427.7 872.2 L430.8 872.1 L433.8 872.1 L436.8 872 L439.8 872 L442.8 872 L445.8 872 L448.8 871.9 L451.8 871.8 L454.8 871.7 L457.8 871.6 L460.9 871.4 L463.9 871.3 L466.9 871.1 L469.9 870.9 L472.9 870.8 L475.9 870.6 L478.9 870.6 L481.9 870.6 L484.9 870.6 L488 870.6 L491 870.6 L494 870.7 L497 870.7 L500 870.7 L503 870.7 L506 870.7 L509 870.7 L512 870.7 L515.1 870.7 L518.1 870.6 L521.1 870.6 L524.1 870.5 L527.1 870.4 L530.1 870.4 L533.1 870.3 L536.1 870.4 L539.1 870.5 L542.2 870.6 L545.2 870.8 L548.2 871.1 L551.2 871.3 L554.2 871.6 L557.2 871.8 L560.2 871.9 L563.2 871.9 L566.2 871.9 L569.2 871.8 L572.3 871.7 L575.3 871.6 L578.3 871.7 L581.3 871.8 L584.3 871.9 L587.3 872 L590.3 872 L593.3 872.1 L596.3 872.1 L599.4 872.1 L602.4 872.1 L605.4 872.1 L608.4 872.3 L611.4 872.4 L614.4 872.6 L617.4 872.7 L620.4 872.7 L623.4 872.8 L626.5 872.7 L629.5 872.6 L632.5 872.5 L635.5 872.3 L638.5 872.2 L641.5 872.1 L644.5 872 L647.5 871.9 L650.5 871.8 L653.6 871.8 L656.6 871.7 L659.6 871.7 L662.6 871.7 L665.6 871.7 L668.6 871.7 L671.6 871.7 L674.6 871.7 L677.6 871.7 L680.7 871.7 L683.7 871.7 L686.7 871.6 L689.7 871.6 L692.7 871.6 L695.7 871.6 L698.7 871.6 L701.7 871.6 L704.7 871.5 L707.8 871.5 L710.8 871.5 L713.8 871.5 L716.8 871.5 L719.8 871.4 L722.8 871.4 L725.8 871.4 L728.8 871.4 L731.8 871.3 L734.8 871.3 L737.9 871.3 L740.9 871.3 L743.9 871.3 L746.9 871.3 L749.9 871.2 L752.9 871.2 L755.9 871.2 L758.9 871.2 L761.9 871.2 L765 871.2 L768 871.2 L771 871.2 L774 871.2 L777 871.2 L783 871.2 L783 858.8Z" fill="#fdd626"/>
<path d="M78.5 858.8 L78.5 871.2 L84.5 871.2 L87.5 871.2 L90.5 871.2 L93.5 871.2 L96.5 871.2 L99.6 871.2 L102.6 871.2 L105.6 871.2 L108.6 871.2 L111.6 871.2 L114.6 871.2 L117.6 871.2 L120.6 871.2 L123.6 871.2 L126.7 871.2 L129.7 871.2 L132.7 871.2 L135.7 871.2 L138.7 871.2 L141.7 871.2 L144.7 871.2 L147.7 871.3 L150.7 871.3 L153.8 871.3 L156.8 871.3 L159.8 871.3 L162.8 871.3 L165.8 871.3 L168.8 871.3 L171.8 871.3 L174.8 871.3 L177.8 871.3 L180.8 871.3 L183.9 871.3 L186.9 871.3 L189.9 871.3 L192.9 871.3 L195.9 871.3 L198.9 871.3 L201.9 871.3 L204.9 871.3 L207.9 871.3 L211 871.3 L214 871.3 L217 871.3 L220 871.3 L223 871.3 L226 871.3 L229 871.3 L232 871.3 L235 871.3 L238.1 871.3 L241.1 871.3 L244.1 871.3 L247.1 871.3 L250.1 871.3 L253.1 871.3 L256.1 871.3 L259.1 871.3 L262.1 871.3 L265.2 871.3 L268.2 871.3 L271.2 871.3 L274.2 871.3 L277.2 871.3 L280.2 871.3 L283.2 871.3 L286.2 871.3 L289.2 871.3 L292.2 871.3 L295.3 871.3 L298.3 871.3 L301.3 871.3 L304.3 871.3 L307.3 871.3 L310.3 871.3 L313.3 871.3 L316.3 871.3 L319.3 871.3 L322.4 871.3 L325.4 871.3 L328.4 871.3 L331.4 871.3 L334.4 871.3 L337.4 871.3 L340.4 871.3 L343.4 871.3 L346.4 871.3 L349.5 871.3 L352.5 871.3 L355.5 871.3 L358.5 871.4 L361.5 871.4 L364.5 871.4 L367.5 871.4 L370.5 871.4 L373.5 871.4 L376.6 871.4 L379.6 871.4 L382.6 871.4 L385.6 871.4 L388.6 871.4 L391.6 871.4 L394.6 871.3 L397.6 871.3 L400.6 871.3 L403.7 871.3 L406.7 871.3 L409.7 871.3 L412.7 871.2 L415.7 871.2 L418.7 871.1 L421.7 870.9 L424.7 870.8 L427.7 870.7 L430.8 870.5 L433.8 870.4 L436.8 870.3 L439.8 870.3 L442.8 870.3 L445.8 870.2 L448.8 870.1 L451.8 870 L454.8 869.8 L457.8 869.6 L460.9 869.4 L463.9 869.1 L466.9 868.9 L469.9 868.6 L472.9 868.4 L475.9 868.3 L478.9 868.2 L481.9 868.2 L484.9 868.2 L488 868.2 L491 868.2 L494 868.2 L497 868.2 L500 868.2 L503 868.2 L506 868.1 L509 868.1 L512 868.1 L515.1 868.1 L518.1 868 L521.1 868 L524.1 867.9 L527.1 867.9 L530.1 867.8 L533.1 867.8 L536.1 867.9 L539.1 868.1 L542.2 868.3 L545.2 868.6 L548.2 868.9 L551.2 869.2 L554.2 869.5 L557.2 869.7 L560.2 869.9 L563.2 870 L566.2 870 L569.2 869.9 L572.3 869.9 L575.3 869.9 L578.3 870 L581.3 870.2 L584.3 870.4 L587.3 870.6 L590.3 870.7 L593.3 870.8 L596.3 870.8 L599.4 870.8 L602.4 870.8 L605.4 870.9 L608.4 871.1 L611.4 871.3 L614.4 871.4 L617.4 871.6 L620.4 871.7 L623.4 871.8 L626.5 871.7 L629.5 871.7 L632.5 871.5 L635.5 871.4 L638.5 871.3 L641.5 871.2 L644.5 871.1 L647.5 871 L650.5 871 L653.6 870.9 L656.6 870.9 L659.6 870.9 L662.6 870.9 L665.6 870.9 L668.6 870.9 L671.6 870.9 L674.6 870.8 L677.6 870.8 L680.7 870.8 L683.7 870.8 L686.7 870.8 L689.7 870.8 L692.7 870.8 L695.7 870.8 L698.7 870.7 L701.7 870.7 L704.7 870.7 L707.8 870.7 L710.8 870.7 L713.8 870.7 L716.8 870.6 L719.8 870.6 L722.8 870.6 L725.8 870.6 L728.8 870.6 L731.8 870.5 L734.8 870.5 L737.9 870.5 L740.9 870.5 L743.9 870.5 L746.9 870.5 L749.9 870.5 L752.9 870.4 L755.9 870.4 L758.9 870.4 L761.9 870.4 L765 870.4 L768 870.4 L771 870.4 L774 870.4 L777 870.4 L783 870.4 L783 858.8Z" fill="#fda324"/>
<path d="M78.5 858.8 L78.5 870.3 L84.5 870.3 L87.5 870.3 L90.5 870.3 L93.5 870.3 L96.5 870.3 L99.6 870.3 L102.6 870.3 L105.6 870.3 L108.6 870.3 L111.6 870.3 L114.6 870.3 L117.6 870.3 L120.6 870.3 L123.6 870.3 L126.7 870.3 L129.7 870.3 L132.7 870.3 L135.7 870.4 L138.7 870.4 L141.7 870.4 L144.7 870.4 L147.7 870.4 L150.7 870.4 L153.8 870.4 L156.8 870.4 L159.8 870.4 L162.8 870.4 L165.8 870.4 L168.8 870.4 L171.8 870.4 L174.8 870.4 L177.8 870.4 L180.8 870.4 L183.9 870.4 L186.9 870.4 L189.9 870.4 L192.9 870.4 L195.9 870.4 L198.9 870.4 L201.9 870.4 L204.9 870.4 L207.9 870.4 L211 870.4 L214 870.4 L217 870.4 L220 870.4 L223 870.4 L226 870.4 L229 870.4 L232 870.4 L235 870.4 L238.1 870.4 L241.1 870.4 L244.1 870.4 L247.1 870.4 L250.1 870.4 L253.1 870.4 L256.1 870.4 L259.1 870.4 L262.1 870.4 L265.2 870.4 L268.2 870.4 L271.2 870.4 L274.2 870.4 L277.2 870.4 L280.2 870.4 L283.2 870.4 L286.2 870.4 L289.2 870.4 L292.2 870.4 L295.3 870.4 L298.3 870.4 L301.3 870.4 L304.3 870.4 L307.3 870.4 L310.3 870.4 L313.3 870.4 L316.3 870.4 L319.3 870.4 L322.4 870.4 L325.4 870.4 L328.4 870.4 L331.4 870.4 L334.4 870.4 L337.4 870.4 L340.4 870.4 L343.4 870.4 L346.4 870.4 L349.5 870.4 L352.5 870.4 L355.5 870.4 L358.5 870.4 L361.5 870.4 L364.5 870.4 L367.5 870.4 L370.5 870.4 L373.5 870.4 L376.6 870.3 L379.6 870.3 L382.6 870.3 L385.6 870.2 L388.6 870.2 L391.6 870.2 L394.6 870.2 L397.6 870.2 L400.6 870.2 L403.7 870.2 L406.7 870.1 L409.7 870.1 L412.7 870 L415.7 869.8 L418.7 869.7 L421.7 869.5 L424.7 869.3 L427.7 869.1 L430.8 868.9 L433.8 868.7 L436.8 868.6 L439.8 868.6 L442.8 868.5 L445.8 868.5 L448.8 868.3 L451.8 868.2 L454.8 867.9 L457.8 867.7 L460.9 867.3 L463.9 867 L466.9 866.7 L469.9 866.3 L472.9 866.1 L475.9 865.9 L478.9 865.8 L481.9 865.8 L484.9 865.8 L488 865.7 L491 865.7 L494 865.7 L497 865.7 L500 865.6 L503 865.6 L506 865.6 L509 865.5 L512 865.5 L515.1 865.4 L518.1 865.4 L521.1 865.4 L524.1 865.3 L527.1 865.3 L530.1 865.3 L533.1 865.4 L536.1 865.5 L539.1 865.7 L542.2 866 L545.2 866.4 L548.2 866.7 L551.2 867.1 L554.2 867.4 L557.2 867.7 L560.2 867.9 L563.2 868.1 L566.2 868.1 L569.2 868.1 L572.3 868.1 L575.3 868.2 L578.3 868.4 L581.3 868.6 L584.3 868.9 L587.3 869.1 L590.3 869.3 L593.3 869.5 L596.3 869.6 L599.4 869.6 L602.4 869.6 L605.4 869.7 L608.4 869.9 L611.4 870.1 L614.4 870.3 L617.4 870.5 L620.4 870.7 L623.4 870.7 L626.5 870.8 L629.5 870.7 L632.5 870.6 L635.5 870.5 L638.5 870.4 L641.5 870.3 L644.5 870.2 L647.5 870.2 L650.5 870.1 L653.6 870.1 L656.6 870 L659.6 870 L662.6 870 L665.6 870 L668.6 870 L671.6 870 L674.6 870 L677.6 870 L680.7 870 L683.7 870 L686.7 870 L689.7 870 L692.7 869.9 L695.7 869.9 L698.7 869.9 L701.7 869.9 L704.7 869.9 L707.8 869.9 L710.8 869.9 L713.8 869.8 L716.8 869.8 L719.8 869.8 L722.8 869.8 L725.8 869.8 L728.8 869.8 L731.8 869.8 L734.8 869.7 L737.9 869.7 L740.9 869.7 L743.9 869.7 L746.9 869.7 L749.9 869.7 L752.9 869.7 L755.9 869.7 L758.9 869.6 L761.9 869.6 L765 869.6 L768 869.6 L771 869.6 L774 869.6 L777 869.6 L783 869.6 L783 858.8Z" fill="#fb6a20"/>
<path d="M78.5 858.8 L78.5 869.4 L84.5 869.4 L87.5 869.4 L90.5 869.4 L93.5 869.4 L96.5 869.4 L99.6 869.4 L102.6 869.5 L105.6 869.5 L108.6 869.5 L111.6 869.5 L114.6 869.5 L117.6 869.5 L120.6 869.5 L123.6 869.5 L126.7 869.5 L129.7 869.5 L132.7 869.5 L135.7 869.5 L138.7 869.5 L141.7 869.5 L144.7 869.5 L147.7 869.5 L150.7 869.5 L153.8 869.5 L156.8 869.5 L159.8 869.5 L162.8 869.5 L165.8 869.5 L168.8 869.5 L171.8 869.5 L174.8 869.5 L177.8 869.5 L180.8 869.5 L183.9 869.5 L186.9 869.5 L189.9 869.5 L192.9 869.5 L195.9 869.5 L198.9 869.5 L201.9 869.5 L204.9 869.5 L207.9 869.5 L211 869.5 L214 869.5 L217 869.5 L220 869.5 L223 869.5 L226 869.5 L229 869.5 L232 869.5 L235 869.5 L238.1 869.5 L241.1 869.5 L244.1 869.5 L247.1 869.5 L250.1 869.5 L253.1 869.5 L256.1 869.5 L259.1 869.5 L262.1 869.5 L265.2 869.5 L268.2 869.5 L271.2 869.5 L274.2 869.5 L277.2 869.5 L280.2 869.5 L283.2 869.5 L286.2 869.5 L289.2 869.5 L292.2 869.5 L295.3 869.5 L298.3 869.5 L301.3 869.5 L304.3 869.5 L307.3 869.5 L310.3 869.5 L313.3 869.5 L316.3 869.5 L319.3 869.5 L322.4 869.5 L325.4 869.5 L328.4 869.5 L331.4 869.5 L334.4 869.5 L337.4 869.5 L340.4 869.5 L343.4 869.5 L346.4 869.5 L349.5 869.5 L352.5 869.5 L355.5 869.5 L358.5 869.5 L361.5 869.5 L364.5 869.4 L367.5 869.4 L370.5 869.4 L373.5 869.3 L376.6 869.3 L379.6 869.2 L382.6 869.2 L385.6 869.1 L388.6 869.1 L391.6 869.1 L394.6 869 L397.6 869 L400.6 869 L403.7 869 L406.7 868.9 L409.7 868.8 L412.7 868.7 L415.7 868.5 L418.7 868.3 L421.7 868 L424.7 867.8 L427.7 867.5 L430.8 867.3 L433.8 867 L436.8 866.9 L439.8 866.9 L442.8 866.8 L445.8 866.7 L448.8 866.6 L451.8 866.3 L454.8 866 L457.8 865.7 L460.9 865.3 L465.4 864.9 L465.4 858.8Z" fill="#f9271a"/>
<path d="M549.7 858.8 L549.7 865 L554.2 865.3 L557.2 865.7 L560.2 865.9 L563.2 866.1 L566.2 866.2 L569.2 866.3 L572.3 866.3 L575.3 866.4 L578.3 866.7 L581.3 867 L584.3 867.4 L587.3 867.7 L590.3 868 L593.3 868.2 L596.3 868.3 L599.4 868.3 L602.4 868.3 L605.4 868.5 L608.4 868.7 L611.4 868.9 L614.4 869.2 L617.4 869.4 L620.4 869.6 L623.4 869.7 L626.5 869.8 L629.5 869.8 L632.5 869.7 L635.5 869.6 L638.5 869.5 L641.5 869.4 L644.5 869.4 L647.5 869.3 L650.5 869.2 L653.6 869.2 L656.6 869.2 L659.6 869.2 L662.6 869.2 L665.6 869.2 L668.6 869.2 L671.6 869.2 L674.6 869.2 L677.6 869.2 L680.7 869.2 L683.7 869.1 L686.7 869.1 L689.7 869.1 L692.7 869.1 L695.7 869.1 L698.7 869.1 L701.7 869.1 L704.7 869.1 L707.8 869.1 L710.8 869 L713.8 869 L716.8 869 L719.8 869 L722.8 869 L725.8 869 L728.8 869 L731.8 869 L734.8 868.9 L737.9 868.9 L740.9 868.9 L743.9 868.9 L746.9 868.9 L749.9 868.9 L752.9 868.9 L755.9 868.9 L758.9 868.9 L761.9 868.9 L765 868.9 L768 868.8 L771 868.8 L774 868.8 L777 868.8 L783 868.8 L783 858.8Z" fill="#f9271a"/>
<path d="M78.5 858.8 L78.5 866.9 L84.5 866.9 L87.5 866.9 L90.5 866.9 L93.5 866.9 L96.5 866.9 L99.6 866.9 L102.6 866.9 L105.6 866.9 L108.6 866.9 L111.6 866.9 L114.6 866.9 L117.6 866.9 L120.6 866.9 L123.6 866.9 L126.7 866.9 L129.7 866.9 L132.7 866.9 L135.7 866.9 L138.7 866.9 L141.7 866.9 L144.7 866.9 L147.7 866.9 L150.7 866.9 L153.8 866.9 L156.8 866.9 L159.8 866.9 L162.8 866.9 L165.8 866.9 L168.8 866.9 L171.8 866.9 L174.8 866.9 L177.8 866.9 L180.8 866.9 L183.9 866.9 L186.9 866.9 L189.9 866.9 L192.9 866.9 L195.9 866.9 L198.9 866.9 L201.9 866.9 L204.9 866.9 L207.9 866.9 L211 866.9 L214 866.9 L217 866.9 L220 866.9 L223 866.9 L226 866.9 L229 866.9 L232 866.9 L235 866.9 L238.1 866.9 L241.1 866.9 L244.1 866.9 L247.1 866.9 L250.1 866.9 L253.1 866.9 L256.1 866.9 L259.1 866.9 L262.1 866.9 L265.2 866.9 L268.2 866.9 L271.2 866.9 L274.2 866.9 L277.2 866.9 L280.2 866.9 L283.2 866.9 L286.2 866.9 L289.2 866.9 L292.2 866.9 L295.3 866.9 L298.3 866.9 L301.3 866.9 L304.3 866.9 L307.3 866.9 L310.3 866.9 L313.3 866.9 L316.3 866.9 L319.3 866.9 L322.4 866.9 L325.4 866.9 L328.4 866.9 L331.4 866.9 L334.4 866.9 L337.4 866.9 L340.4 866.9 L343.4 866.9 L346.4 866.9 L349.5 866.9 L352.5 866.9 L355.5 866.9 L358.5 866.9 L361.5 866.9 L364.5 866.9 L367.5 866.9 L370.5 866.9 L373.5 866.9 L376.6 866.9 L379.6 866.9 L382.6 866.9 L385.6 866.9 L388.6 866.9 L391.6 866.9 L394.6 866.9 L397.6 866.9 L400.6 866.9 L403.7 866.9 L406.7 866.9 L409.7 866.9 L412.7 866.9 L415.7 866.9 L418.7 866.9 L421.7 866.6 L424.7 866.3 L427.7 865.9 L430.8 865.6 L433.8 865.4 L436.8 865.2 L439.8 865.1 L442.8 865.1 L447.3 865 L447.3 858.8Z" fill="#8e2218"/>
<path d="M576.8 858.8 L576.8 865.1 L581.3 865.5 L584.3 865.9 L587.3 866.3 L590.3 866.6 L593.3 866.9 L596.3 866.9 L599.4 866.9 L602.4 866.9 L605.4 866.9 L608.4 866.9 L611.4 866.9 L614.4 866.9 L617.4 866.9 L620.4 866.9 L623.4 866.9 L626.5 866.9 L629.5 866.9 L632.5 866.9 L635.5 866.9 L638.5 866.9 L641.5 866.9 L644.5 866.9 L647.5 866.9 L650.5 866.9 L653.6 866.9 L656.6 866.9 L659.6 866.9 L662.6 866.9 L665.6 866.9 L668.6 866.9 L671.6 866.9 L674.6 866.9 L677.6 866.9 L680.7 866.9 L683.7 866.9 L686.7 866.9 L689.7 866.9 L692.7 866.9 L695.7 866.9 L698.7 866.9 L701.7 866.9 L704.7 866.9 L707.8 866.9 L710.8 866.9 L713.8 866.9 L716.8 866.9 L719.8 866.9 L722.8 866.9 L725.8 866.9 L728.8 866.9 L731.8 866.9 L734.8 866.9 L737.9 866.9 L740.9 866.9 L743.9 866.9 L746.9 866.9 L749.9 866.9 L752.9 866.9 L755.9 866.9 L758.9 866.9 L761.9 866.9 L765 866.9 L768 866.9 L771 866.9 L774 866.9 L777 866.9 L783 866.9 L783 858.8Z" fill="#8e2218"/>
</g></g>
<rect x="84.5" y="864.8" width="692.5" height="212.2" fill="none" stroke="#080820" stroke-opacity="0.62" stroke-width="1.6"/>
<text x="83.9" y="1105.4" class="tk" text-anchor="middle">0</text>
<text x="170.5" y="1105.4" class="tk" text-anchor="middle">3</text>
<text x="257" y="1105.4" class="tk" text-anchor="middle">6</text>
<text x="343.6" y="1105.4" class="tk" text-anchor="middle">9</text>
<text x="430.1" y="1105.4" class="tk" text-anchor="middle">12</text>
<text x="516.7" y="1105.4" class="tk" text-anchor="middle">15</text>
<text x="603.3" y="1105.4" class="tk" text-anchor="middle">18</text>
<text x="689.8" y="1105.4" class="tk" text-anchor="middle">21</text>
<text x="776.4" y="1105.4" class="tk" text-anchor="middle">24</text>
<text x="74.2" y="871.6" class="tk" text-anchor="end">0</text>
<text x="74.2" y="921.5" class="tk" text-anchor="end">20</text>
<text x="74.2" y="971.5" class="tk" text-anchor="end">40</text>
<text x="74.2" y="1021.4" class="tk" text-anchor="end">60</text>
<text x="74.2" y="1071.3" class="tk" text-anchor="end">80</text>
<path d="M84.5 1077V1086M84.5 864.8V856.3M171.1 1077V1086M171.1 864.8V856.3M257.6 1077V1086M257.6 864.8V856.3M344.2 1077V1086M344.2 864.8V856.3M430.8 1077V1086M430.8 864.8V856.3M517.3 1077V1086M517.3 864.8V856.3M603.9 1077V1086M603.9 864.8V856.3M690.4 1077V1086M690.4 864.8V856.3M777 1077V1086M777 864.8V856.3M84.5 864.8H77M84.5 914.7H77M84.5 964.7H77M84.5 1014.6H77M84.5 1064.5H77M777 864.8H784.5M777 989.6H784.5" stroke="#444" stroke-width="1.3" fill="none"/>
<text x="114" y="1050.8" font-size="30.6" class="b" textLength="108" lengthAdjust="spacingAndGlyphs" fill="#fff">Ago04</text>
<g filter="url(#bl2)">
<rect x="806" y="863.7" width="25.7" height="17.6" fill="#f9271a"/>
<rect x="806" y="880.9" width="25.7" height="17.6" fill="#fb6a20"/>
<rect x="806" y="898.1" width="25.7" height="17.6" fill="#fda324"/>
<rect x="806" y="915.3" width="25.7" height="17.6" fill="#fdd626"/>
<rect x="806" y="932.6" width="25.7" height="17.6" fill="#e2f32c"/>
<rect x="806" y="949.8" width="25.7" height="17.6" fill="#96f16c"/>
<rect x="806" y="967" width="25.7" height="17.6" fill="#52f0ae"/>
<rect x="806" y="984.2" width="25.7" height="17.6" fill="#17ecec"/>
<rect x="806" y="1001.4" width="25.7" height="17.6" fill="#22b4f6"/>
<rect x="806" y="1018.6" width="25.7" height="17.6" fill="#2e8cfb"/>
<rect x="806" y="1035.9" width="25.7" height="17.6" fill="#4552f7"/>
<rect x="806" y="1053.1" width="25.7" height="17.6" fill="#5612f8"/>
<rect x="806" y="1070.3" width="25.7" height="17.6" fill="#5612f8"/>
</g>
<rect x="806" y="863.7" width="25.7" height="223.8" fill="none" stroke="#0a0a30" stroke-opacity="0.6" stroke-width="1.4"/>
<text x="834.7" y="888.1" class="tk">50</text>
<text x="834.7" y="974.3" class="tk">25</text>
<text x="834.7" y="1059.9" class="tk">0</text>
<text transform="translate(32.8 664.3) rotate(-90)" font-size="30" class="ln" textLength="172.8" lengthAdjust="spacingAndGlyphs">Depth (cm)</text>
<text x="331.3" y="1150.4" font-size="31" class="ln" textLength="133.2" lengthAdjust="spacingAndGlyphs">Time (h)</text>
<path d="M1681.8 72.9V482.3" stroke="#555" stroke-width="1.2" fill="none"/>
<text x="988" y="523.7" font-size="21.5" fill="#222" text-anchor="middle">0</text>
<text x="1074.7" y="523.7" font-size="21.5" fill="#222" text-anchor="middle">3</text>
<text x="1161.4" y="523.7" font-size="21.5" fill="#222" text-anchor="middle">6</text>
<text x="1248.1" y="523.7" font-size="21.5" fill="#222" text-anchor="middle">9</text>
<text x="1334.8" y="523.7" font-size="21.5" fill="#222" text-anchor="middle">12</text>
<text x="1421.5" y="523.7" font-size="21.5" fill="#222" text-anchor="middle">15</text>
<text x="1508.2" y="523.7" font-size="21.5" fill="#222" text-anchor="middle">18</text>
<text x="1594.9" y="523.7" font-size="21.5" fill="#222" text-anchor="middle">21</text>
<text x="1681.6" y="523.7" font-size="21.5" fill="#222" text-anchor="middle">24</text>
<text x="964.3" y="490.2" font-size="21.5" fill="#222" text-anchor="end">0</text>
<text x="964.3" y="353.7" font-size="21.5" fill="#222" text-anchor="end">10</text>
<text x="964.3" y="217.3" font-size="21.5" fill="#222" text-anchor="end">20</text>
<text x="964.3" y="80.8" font-size="21.5" fill="#222" text-anchor="end">30</text>
<path d="M980 72.9H1682.8M1681.8 72.9V138M1681.8 242V269M1681.8 464V490.5M988 72.9V490.3M980 482.3H1682.8M988 482.3V490.8M1074.7 482.3V490.8M1161.4 482.3V490.8M1248.1 482.3V490.8M1334.8 482.3V490.8M1421.5 482.3V490.8M1508.2 482.3V490.8M1594.9 482.3V490.8M1681.6 482.3V490.8M988 482.3H980M988 345.8H980M988 209.4H980M988 72.9H980" stroke="#000" stroke-width="2" fill="none"/>
<text id="ylabB" transform="translate(913.3 0) rotate(-90)" class="ln"><tspan x="-451.8" y="5.6" font-size="38">•</tspan><tspan x="-432" y="0" font-size="30">O</tspan><tspan x="-408.1" y="7" font-size="20.5">2</tspan><tspan x="-393.2" y="-11.3" font-size="17">−</tspan><tspan font-size="4"> </tspan><tspan x="-369" y="0" font-size="30" textLength="67.5" lengthAdjust="spacingAndGlyphs">level</tspan><tspan font-size="4"> </tspan><tspan x="-288.7" y="0" font-size="30">(×10</tspan><tspan x="-214.1" y="-10.1" font-size="20.5">5</tspan><tspan font-size="4"> </tspan><tspan x="-189.1" y="0" font-size="30" textLength="75.7" lengthAdjust="spacingAndGlyphs">RLU)</tspan></text>
<text x="1230.4" y="558.6" font-size="31" class="ln" textLength="133.2" lengthAdjust="spacingAndGlyphs">Time (h)</text>
<path d="M1022.2 100.4H1070.6" stroke="#1a1a1a" stroke-width="1.4"/>
<circle cx="1046.4" cy="100.4" r="4.9" fill="#fff" stroke="#000" stroke-width="1.4"/>
<text x="1077" y="108.1" font-size="21" class="ln" textLength="180.4" lengthAdjust="spacingAndGlyphs">NIES-1_Surface</text>
<path d="M1022.2 133.3H1070.6" stroke="#1a1a1a" stroke-width="1.4"/>
<path d="M1046.4 128L1051.7 133.3L1046.4 138.6L1041.1 133.3Z" fill="#fff" stroke="#000" stroke-width="1.4"/>
<text x="1077.3" y="141" font-size="21" class="ln" textLength="58.8" lengthAdjust="spacingAndGlyphs">OP27</text>
<path d="M1022.2 168.3H1070.6" stroke="#1a1a1a" stroke-width="1.4"/>
<path d="M1046.4 164.3L1051.2 173.9L1041.6 173.9Z" fill="#fff" stroke="#000" stroke-width="1.4"/>
<text x="1078.4" y="176" font-size="21" class="ln" textLength="71.5" lengthAdjust="spacingAndGlyphs">Ago04</text>
<path d="M1308.3 100.4H1356.7" stroke="#1a1a1a" stroke-width="1.4"/>
<circle cx="1332.5" cy="100.4" r="5.3" fill="#000" stroke="#000" stroke-width="1.4"/>
<text x="1361.3" y="108.1" font-size="21" class="ln" textLength="178.8" lengthAdjust="spacingAndGlyphs">NIES-1_Bottom</text>
<path d="M1308.3 133.3H1356.7" stroke="#1a1a1a" stroke-width="1.4"/>
<rect x="1327.3" y="128.1" width="10.4" height="10.4" fill="#fff" stroke="#000" stroke-width="1.4"/>
<text x="1362.6" y="141" font-size="21" class="ln" textLength="71.5" lengthAdjust="spacingAndGlyphs">Ago03</text>
<rect x="986.7" y="256" width="2.6" height="186" fill="#fff"/><path d="M987.6 255V443" stroke="#333" stroke-width="1.2"/>
<clipPath id="cpB"><rect x="900" y="60" width="782.5" height="440"/></clipPath><g clip-path="url(#cpB)"><path d="M988 255V289.8M982.2 255H993.8M982.2 289.8H993.8M1074.7 270.5V308M1069 270.5H1080.5M1069 308H1080.5M1161.4 255V296.8M1155.7 255H1167.2M1155.7 296.8H1167.2M1248.1 287V298M1242.3 287H1253.8M1242.3 298H1253.8M1334.8 266.3V386M1329 266.3H1340.5M1329 386H1340.5M1421.5 336V424M1415.8 336H1427.2M1415.8 424H1427.2M1508.2 243.2V367M1502.4 243.2H1513.9M1502.4 367H1513.9M1594.9 242.1V271.5M1589.2 242.1H1600.7M1589.2 271.5H1600.7M1681.6 139V243M1675.8 139H1687.3M1675.8 243H1687.3M988 331.8V414M982.2 331.8H993.8M982.2 414H993.8M1074.7 325V411.2M1069 325H1080.5M1069 411.2H1080.5M1161.4 353.3V381M1155.7 353.3H1167.2M1155.7 381H1167.2M1248.1 343.4V376M1242.3 343.4H1253.8M1242.3 376H1253.8M1334.8 408.2V470M1329 408.2H1340.5M1329 470H1340.5M1421.5 449V463M1415.8 449H1427.2M1415.8 463H1427.2M1508.2 370.9V403.3M1502.4 370.9H1513.9M1502.4 403.3H1513.9M1594.9 374.3V441M1589.2 374.3H1600.7M1589.2 441H1600.7M1681.6 290V428.5M1675.8 290H1687.3M1675.8 428.5H1687.3M988 368V380M982.2 368H993.8M982.2 380H993.8M1074.7 350V362M1069 350H1080.5M1069 362H1080.5M1161.4 375V413.3M1155.7 375H1167.2M1155.7 413.3H1167.2M1248.1 366V401.1M1242.3 366H1253.8M1242.3 401.1H1253.8M1334.8 381.9V481.8M1329 381.9H1340.5M1329 481.8H1340.5M1421.5 430V477M1415.8 430H1427.2M1415.8 477H1427.2M1508.2 468V478M1502.4 468H1513.9M1502.4 478H1513.9M1594.9 468V478M1589.2 468H1600.7M1589.2 478H1600.7M1681.6 270V365M1675.8 270H1687.3M1675.8 365H1687.3M1508.2 428.5V455M1502.4 428.5H1513.9M1502.4 455H1513.9M1594.9 427V451M1589.2 427H1600.7M1589.2 451H1600.7M1334.8 390V480M1329 390H1340.5M1329 480H1340.5M1421.5 425V480M1415.8 425H1427.2M1415.8 480H1427.2M1681.6 435V470M1675.8 435H1687.3M1675.8 470H1687.3" stroke="#444" stroke-width="1.25" fill="none"/></g>
<polyline points="986.8,374.5 1073.5,355.1 1160.2,383 1246.9,373.2 1333.6,432 1420.3,456 1507,473.4 1593.7,473.4 1680.4,324.3" fill="none" stroke="#1a1a1a" stroke-width="1.3"/>
<circle cx="986.8" cy="374.5" r="11.5" fill="#fff" stroke="#000" stroke-width="1.5"/>
<circle cx="1073.5" cy="355.1" r="11.5" fill="#fff" stroke="#000" stroke-width="1.5"/>
<circle cx="1160.2" cy="383" r="11.5" fill="#fff" stroke="#000" stroke-width="1.5"/>
<circle cx="1246.9" cy="373.2" r="11.5" fill="#fff" stroke="#000" stroke-width="1.5"/>
<circle cx="1333.6" cy="432" r="11.5" fill="#fff" stroke="#000" stroke-width="1.5"/>
<circle cx="1420.3" cy="456" r="11.5" fill="#fff" stroke="#000" stroke-width="1.5"/>
<circle cx="1507" cy="473.4" r="11.5" fill="#fff" stroke="#000" stroke-width="1.5"/>
<circle cx="1593.7" cy="473.4" r="11.5" fill="#fff" stroke="#000" stroke-width="1.5"/>
<circle cx="1680.4" cy="324.3" r="11.5" fill="#fff" stroke="#000" stroke-width="1.5"/>
<polyline points="1333.6,463 1420.3,455.1 1507,457.8 1593.7,455.4" fill="none" stroke="#1a1a1a" stroke-width="1.3"/>
<circle cx="1333.6" cy="463" r="11" fill="#000" stroke="#000" stroke-width="1.5"/>
<circle cx="1420.3" cy="455.1" r="11" fill="#000" stroke="#000" stroke-width="1.5"/>
<circle cx="1507" cy="457.8" r="11" fill="#000" stroke="#000" stroke-width="1.5"/>
<circle cx="1593.7" cy="455.4" r="11" fill="#000" stroke="#000" stroke-width="1.5"/>
<polyline points="988,373.8 1074.7,368 1161.4,367.2 1248.1,359.7 1334.8,445.8 1421.5,456.1 1508.2,388.1 1594.9,407.8 1681.6,349.8" fill="none" stroke="#1a1a1a" stroke-width="1.3"/>
<path d="M988 362.1L999.8 373.8L988 385.6L976.2 373.8Z" fill="#fff" stroke="#000" stroke-width="1.5"/>
<path d="M1074.7 356.2L1086.5 368L1074.7 379.8L1063 368Z" fill="#fff" stroke="#000" stroke-width="1.5"/>
<path d="M1161.4 355.4L1173.2 367.2L1161.4 378.9L1149.7 367.2Z" fill="#fff" stroke="#000" stroke-width="1.5"/>
<path d="M1248.1 347.9L1259.8 359.7L1248.1 371.4L1236.3 359.7Z" fill="#fff" stroke="#000" stroke-width="1.5"/>
<path d="M1334.8 434.1L1346.5 445.8L1334.8 457.6L1323 445.8Z" fill="#fff" stroke="#000" stroke-width="1.5"/>
<path d="M1421.5 444.4L1433.2 456.1L1421.5 467.9L1409.8 456.1Z" fill="#fff" stroke="#000" stroke-width="1.5"/>
<path d="M1508.2 376.4L1519.9 388.1L1508.2 399.9L1496.4 388.1Z" fill="#fff" stroke="#000" stroke-width="1.5"/>
<path d="M1594.9 396.1L1606.7 407.8L1594.9 419.6L1583.2 407.8Z" fill="#fff" stroke="#000" stroke-width="1.5"/>
<path d="M1681.6 338.1L1693.3 349.8L1681.6 361.6L1669.8 349.8Z" fill="#fff" stroke="#000" stroke-width="1.5"/>
<polyline points="986.2,270 1072.9,289 1159.6,273.8 1246.3,292.4 1333,326 1419.7,380.2 1506.4,304.9 1593.1,254.9 1679.8,188.6" fill="none" stroke="#1a1a1a" stroke-width="1.3"/>
<rect x="974.7" y="258.5" width="23" height="23" fill="#fff" stroke="#000" stroke-width="1.5"/>
<rect x="1061.4" y="277.5" width="23" height="23" fill="#fff" stroke="#000" stroke-width="1.5"/>
<rect x="1148.1" y="262.3" width="23" height="23" fill="#fff" stroke="#000" stroke-width="1.5"/>
<rect x="1234.8" y="280.9" width="23" height="23" fill="#fff" stroke="#000" stroke-width="1.5"/>
<rect x="1321.5" y="314.5" width="23" height="23" fill="#fff" stroke="#000" stroke-width="1.5"/>
<rect x="1408.2" y="368.7" width="23" height="23" fill="#fff" stroke="#000" stroke-width="1.5"/>
<rect x="1494.9" y="293.4" width="23" height="23" fill="#fff" stroke="#000" stroke-width="1.5"/>
<rect x="1581.6" y="243.4" width="23" height="23" fill="#fff" stroke="#000" stroke-width="1.5"/>
<rect x="1668.3" y="177.1" width="23" height="23" fill="#fff" stroke="#000" stroke-width="1.5"/>
<polyline points="988,445.7 1074.7,448.8 1161.4,458.6 1248.1,472.9 1334.8,473.2 1421.5,473.2 1508.2,441.6 1594.9,438.9 1681.6,452.7" fill="none" stroke="#1a1a1a" stroke-width="1.3"/>
<path d="M988 434.2L999.5 457.2L976.5 457.2Z" fill="#fff" stroke="#000" stroke-width="1.5"/>
<path d="M1074.7 437.3L1086.2 460.3L1063.2 460.3Z" fill="#fff" stroke="#000" stroke-width="1.5"/>
<path d="M1161.4 447.1L1172.9 470.1L1149.9 470.1Z" fill="#fff" stroke="#000" stroke-width="1.5"/>
<path d="M1248.1 461.4L1259.6 484.4L1236.6 484.4Z" fill="#fff" stroke="#000" stroke-width="1.5"/>
<path d="M1334.8 461.7L1346.3 484.7L1323.3 484.7Z" fill="#fff" stroke="#000" stroke-width="1.5"/>
<path d="M1421.5 461.7L1433 484.7L1410 484.7Z" fill="#fff" stroke="#000" stroke-width="1.5"/>
<path d="M1508.2 430.1L1519.7 453.1L1496.7 453.1Z" fill="#fff" stroke="#000" stroke-width="1.5"/>
<path d="M1594.9 427.4L1606.4 450.4L1583.4 450.4Z" fill="#fff" stroke="#000" stroke-width="1.5"/>
<path d="M1681.6 441.2L1693.1 464.2L1670.1 464.2Z" fill="#fff" stroke="#000" stroke-width="1.5"/>
<path d="M1677.9 656.9V1066.3" stroke="#555" stroke-width="1.2" fill="none"/>
<text x="984.2" y="1107.7" font-size="21.5" fill="#222" text-anchor="middle">0</text>
<text x="1070.9" y="1107.7" font-size="21.5" fill="#222" text-anchor="middle">3</text>
<text x="1157.5" y="1107.7" font-size="21.5" fill="#222" text-anchor="middle">6</text>
<text x="1244.2" y="1107.7" font-size="21.5" fill="#222" text-anchor="middle">9</text>
<text x="1330.9" y="1107.7" font-size="21.5" fill="#222" text-anchor="middle">12</text>
<text x="1417.6" y="1107.7" font-size="21.5" fill="#222" text-anchor="middle">15</text>
<text x="1504.2" y="1107.7" font-size="21.5" fill="#222" text-anchor="middle">18</text>
<text x="1590.9" y="1107.7" font-size="21.5" fill="#222" text-anchor="middle">21</text>
<text x="1677.6" y="1107.7" font-size="21.5" fill="#222" text-anchor="middle">24</text>
<text x="961.6" y="1074.2" font-size="21.5" fill="#222" text-anchor="end">0</text>
<text x="961.6" y="971.8" font-size="21.5" fill="#222" text-anchor="end">200</text>
<text x="961.6" y="869.5" font-size="21.5" fill="#222" text-anchor="end">400</text>
<text x="961.6" y="767.1" font-size="21.5" fill="#222" text-anchor="end">600</text>
<text x="961.6" y="664.8" font-size="21.5" fill="#222" text-anchor="end">800</text>
<path d="M976.2 656.9H1678.9M1677.9 656.8V847M1677.9 1054V1074.5M984.2 656.9V1074.3M976.2 1066.3H1678.9M984.2 1066.3V1074.8M1070.9 1066.3V1074.8M1157.5 1066.3V1074.8M1244.2 1066.3V1074.8M1330.9 1066.3V1074.8M1417.6 1066.3V1074.8M1504.2 1066.3V1074.8M1590.9 1066.3V1074.8M1677.6 1066.3V1074.8M984.2 1066.3H976.2M984.2 963.9H976.2M984.2 861.6H976.2M984.2 759.2H976.2M984.2 656.9H976.2" stroke="#000" stroke-width="2" fill="none"/>
<text id="ylabC" transform="translate(906.1 0) rotate(-90)" class="ln"><tspan x="-1074.2" y="5.2" font-size="38">•</tspan><tspan x="-1055.3" y="0" font-size="30.5">O</tspan><tspan x="-1030.4" y="5.7" font-size="20.5">2</tspan><tspan x="-1019.4" y="-11.7" font-size="17">−</tspan><tspan font-size="4"> </tspan><tspan x="-991.8" y="0" font-size="30.5" textLength="164.6" lengthAdjust="spacingAndGlyphs">production</tspan><tspan font-size="4"> </tspan><tspan x="-820.1" y="0" font-size="30.5">(RLU</tspan><tspan font-size="4"> </tspan><tspan x="-744.2" y="0" font-size="30.5" textLength="49.5" lengthAdjust="spacingAndGlyphs">cell</tspan><tspan x="-695.2" y="-9.5" font-size="20" textLength="22.5" lengthAdjust="spacingAndGlyphs">-1</tspan><tspan x="-665.6" y="0" font-size="30.5">)</tspan></text>
<text x="1230.4" y="1144.5" font-size="31" class="ln" textLength="133.2" lengthAdjust="spacingAndGlyphs">Time (h)</text>
<path d="M1026.1 674.8H1074.5" stroke="#1a1a1a" stroke-width="1.4"/>
<circle cx="1050.3" cy="674.8" r="4.9" fill="#fff" stroke="#000" stroke-width="1.4"/>
<text x="1078.8" y="682.5" font-size="21" class="ln" textLength="180.4" lengthAdjust="spacingAndGlyphs">NIES-1_Surface</text>
<path d="M1026.1 704.8H1074.5" stroke="#1a1a1a" stroke-width="1.4"/>
<circle cx="1050.3" cy="704.8" r="5.3" fill="#000" stroke="#000" stroke-width="1.4"/>
<text x="1078.8" y="712.5" font-size="21" class="ln" textLength="178.8" lengthAdjust="spacingAndGlyphs">NIES-1_Bottom</text>
<path d="M1026.1 734.6H1074.5" stroke="#1a1a1a" stroke-width="1.4"/>
<path d="M1050.3 729.3L1055.6 734.6L1050.3 739.9L1045 734.6Z" fill="#fff" stroke="#000" stroke-width="1.4"/>
<text x="1079.1" y="742.3" font-size="21" class="ln" textLength="58.8" lengthAdjust="spacingAndGlyphs">OP27</text>
<path d="M1026.1 765.4H1074.5" stroke="#1a1a1a" stroke-width="1.4"/>
<rect x="1045.1" y="760.2" width="10.4" height="10.4" fill="#fff" stroke="#000" stroke-width="1.4"/>
<text x="1080.2" y="773.1" font-size="21" class="ln" textLength="71.5" lengthAdjust="spacingAndGlyphs">Ago03</text>
<path d="M1026.1 796.3H1074.5" stroke="#1a1a1a" stroke-width="1.4"/>
<path d="M1050.3 792.3L1055.1 801.9L1045.5 801.9Z" fill="#fff" stroke="#000" stroke-width="1.4"/>
<text x="1080.2" y="804" font-size="21" class="ln" textLength="71.5" lengthAdjust="spacingAndGlyphs">Ago04</text>
<rect x="982.9" y="941" width="2.6" height="30" fill="#fff"/><path d="M983.6 940V972" stroke="#333" stroke-width="1.2"/>
<clipPath id="cpC"><rect x="900" y="640" width="779" height="440"/></clipPath><g clip-path="url(#cpC)"><path d="M984.2 940.5V1035M978.5 940.5H990M978.5 1035H990M1070.9 811.3V943M1065.1 811.3H1076.6M1065.1 943H1076.6M1157.5 890.4V928.6M1151.8 890.4H1163.3M1151.8 928.6H1163.3M1244.2 850.2V908M1238.5 850.2H1250M1238.5 908H1250M1330.9 691.2V942M1325.2 691.2H1336.7M1325.2 942H1336.7M1417.6 755.4V890M1411.8 755.4H1423.3M1411.8 890H1423.3M1504.2 706.7V813.4M1498.5 706.7H1510M1498.5 813.4H1510M1590.9 746V817.2M1585.2 746H1596.7M1585.2 817.2H1596.7M1677.6 858V1020M1671.8 858H1683.3M1671.8 1020H1683.3M984.2 1000V1036M978.5 1000H990M978.5 1036H990M1070.9 896.4V1020.3M1065.1 896.4H1076.6M1065.1 1020.3H1076.6M1157.5 950V962M1151.8 950H1163.3M1151.8 962H1163.3M1244.2 910V922M1238.5 910H1250M1238.5 922H1250M1330.9 716.8V943M1325.2 716.8H1336.7M1325.2 943H1336.7M1417.6 792.1V978M1411.8 792.1H1423.3M1411.8 978H1423.3M1504.2 927.5V1010.6M1498.5 927.5H1510M1498.5 1010.6H1510M1590.9 902.7V983M1585.2 902.7H1596.7M1585.2 983H1596.7M1677.6 857V937M1671.8 857H1683.3M1671.8 937H1683.3M984.2 1004V1032M978.5 1004H990M978.5 1032H990M1070.9 946V972M1065.1 946H1076.6M1065.1 972H1076.6M1157.5 962V1000.5M1151.8 962H1163.3M1151.8 1000.5H1163.3M1244.2 944.6V976.8M1238.5 944.6H1250M1238.5 976.8H1250M1330.9 961V1037.3M1325.2 961H1336.7M1325.2 1037.3H1336.7M1417.6 1000V1053M1411.8 1000H1423.3M1411.8 1053H1423.3M1504.2 979V1010.6M1498.5 979H1510M1498.5 1010.6H1510M1590.9 982V1016M1585.2 982H1596.7M1585.2 1016H1596.7M1677.6 958V1030M1671.8 958H1683.3M1671.8 1030H1683.3M1330.9 882.7V976M1325.2 882.7H1336.7M1325.2 976H1336.7M1417.6 857V1000M1411.8 857H1423.3M1411.8 1000H1423.3M1504.2 898.3V1027M1498.5 898.3H1510M1498.5 1027H1510M1590.9 886.8V983M1585.2 886.8H1596.7M1585.2 983H1596.7" stroke="#444" stroke-width="1.25" fill="none"/></g>
<polyline points="983,974.9 1069.7,980.4 1156.3,956.2 1243,916.3 1329.7,825 1416.4,885.4 1503,970.7 1589.7,941.8 1676.4,897" fill="none" stroke="#1a1a1a" stroke-width="1.3"/>
<circle cx="983" cy="974.9" r="11.5" fill="#fff" stroke="#000" stroke-width="1.5"/>
<circle cx="1069.7" cy="980.4" r="11.5" fill="#fff" stroke="#000" stroke-width="1.5"/>
<circle cx="1156.3" cy="956.2" r="11.5" fill="#fff" stroke="#000" stroke-width="1.5"/>
<circle cx="1243" cy="916.3" r="11.5" fill="#fff" stroke="#000" stroke-width="1.5"/>
<circle cx="1329.7" cy="825" r="11.5" fill="#fff" stroke="#000" stroke-width="1.5"/>
<circle cx="1416.4" cy="885.4" r="11.5" fill="#fff" stroke="#000" stroke-width="1.5"/>
<circle cx="1503" cy="970.7" r="11.5" fill="#fff" stroke="#000" stroke-width="1.5"/>
<circle cx="1589.7" cy="941.8" r="11.5" fill="#fff" stroke="#000" stroke-width="1.5"/>
<circle cx="1676.4" cy="897" r="11.5" fill="#fff" stroke="#000" stroke-width="1.5"/>
<polyline points="1329.7,929.4 1416.4,894.2 1503,962.5 1589.7,933.6" fill="none" stroke="#1a1a1a" stroke-width="1.3"/>
<circle cx="1329.7" cy="929.4" r="11.5" fill="#000" stroke="#000" stroke-width="1.5"/>
<circle cx="1416.4" cy="894.2" r="11.5" fill="#000" stroke="#000" stroke-width="1.5"/>
<circle cx="1503" cy="962.5" r="11.5" fill="#000" stroke="#000" stroke-width="1.5"/>
<circle cx="1589.7" cy="933.6" r="11.5" fill="#000" stroke="#000" stroke-width="1.5"/>
<polyline points="984.2,1018.4 1070.9,958.4 1157.5,981.8 1244.2,962.5 1330.9,999.1 1417.6,1026.6 1504.2,994.9 1590.9,999.1 1677.6,994.1" fill="none" stroke="#1a1a1a" stroke-width="1.3"/>
<path d="M984.2 1006.6L996 1018.4L984.2 1030.2L972.5 1018.4Z" fill="#fff" stroke="#000" stroke-width="1.5"/>
<path d="M1070.9 946.6L1082.6 958.4L1070.9 970.1L1059.1 958.4Z" fill="#fff" stroke="#000" stroke-width="1.5"/>
<path d="M1157.5 970L1169.3 981.8L1157.5 993.5L1145.8 981.8Z" fill="#fff" stroke="#000" stroke-width="1.5"/>
<path d="M1244.2 950.8L1256 962.5L1244.2 974.2L1232.5 962.5Z" fill="#fff" stroke="#000" stroke-width="1.5"/>
<path d="M1330.9 987.4L1342.7 999.1L1330.9 1010.9L1319.2 999.1Z" fill="#fff" stroke="#000" stroke-width="1.5"/>
<path d="M1417.6 1014.8L1429.3 1026.6L1417.6 1038.3L1405.8 1026.6Z" fill="#fff" stroke="#000" stroke-width="1.5"/>
<path d="M1504.2 983.1L1516 994.9L1504.2 1006.6L1492.5 994.9Z" fill="#fff" stroke="#000" stroke-width="1.5"/>
<path d="M1590.9 987.4L1602.7 999.1L1590.9 1010.9L1579.2 999.1Z" fill="#fff" stroke="#000" stroke-width="1.5"/>
<path d="M1677.6 982.4L1689.3 994.1L1677.6 1005.9L1665.8 994.1Z" fill="#fff" stroke="#000" stroke-width="1.5"/>
<polyline points="982.4,992.8 1069.1,877.2 1155.8,908 1242.4,879.4 1329.1,816.7 1415.8,822.9 1502.5,759 1589.1,778.4 1675.8,939.1" fill="none" stroke="#1a1a1a" stroke-width="1.3"/>
<rect x="970.4" y="980.8" width="24" height="24" fill="#fff" stroke="#000" stroke-width="1.5"/>
<rect x="1057.1" y="865.2" width="24" height="24" fill="#fff" stroke="#000" stroke-width="1.5"/>
<rect x="1143.8" y="896" width="24" height="24" fill="#fff" stroke="#000" stroke-width="1.5"/>
<rect x="1230.4" y="867.4" width="24" height="24" fill="#fff" stroke="#000" stroke-width="1.5"/>
<rect x="1317.1" y="804.7" width="24" height="24" fill="#fff" stroke="#000" stroke-width="1.5"/>
<rect x="1403.8" y="810.9" width="24" height="24" fill="#fff" stroke="#000" stroke-width="1.5"/>
<rect x="1490.5" y="747" width="24" height="24" fill="#fff" stroke="#000" stroke-width="1.5"/>
<rect x="1577.1" y="766.4" width="24" height="24" fill="#fff" stroke="#000" stroke-width="1.5"/>
<rect x="1663.8" y="927.1" width="24" height="24" fill="#fff" stroke="#000" stroke-width="1.5"/>
<polyline points="984.2,1056.1 1070.9,1052 1157.5,1049.8 1244.2,1055.5 1330.9,1054.6 1417.6,1051.9 1504.2,1038.7 1590.9,1035.9 1677.6,1044.2" fill="none" stroke="#1a1a1a" stroke-width="1.3"/>
<path d="M984.2 1044.3L996 1067.8L972.5 1067.8Z" fill="#fff" stroke="#000" stroke-width="1.5"/>
<path d="M1070.9 1040.2L1082.6 1063.8L1059.1 1063.8Z" fill="#fff" stroke="#000" stroke-width="1.5"/>
<path d="M1157.5 1038L1169.3 1061.5L1145.8 1061.5Z" fill="#fff" stroke="#000" stroke-width="1.5"/>
<path d="M1244.2 1043.8L1256 1067.2L1232.5 1067.2Z" fill="#fff" stroke="#000" stroke-width="1.5"/>
<path d="M1330.9 1042.8L1342.7 1066.3L1319.2 1066.3Z" fill="#fff" stroke="#000" stroke-width="1.5"/>
<path d="M1417.6 1040.2L1429.3 1063.7L1405.8 1063.7Z" fill="#fff" stroke="#000" stroke-width="1.5"/>
<path d="M1504.2 1027L1516 1050.5L1492.5 1050.5Z" fill="#fff" stroke="#000" stroke-width="1.5"/>
<path d="M1590.9 1024.2L1602.7 1047.7L1579.2 1047.7Z" fill="#fff" stroke="#000" stroke-width="1.5"/>
<path d="M1677.6 1032.5L1689.3 1056L1665.8 1056Z" fill="#fff" stroke="#000" stroke-width="1.5"/>
</svg></body></html>
